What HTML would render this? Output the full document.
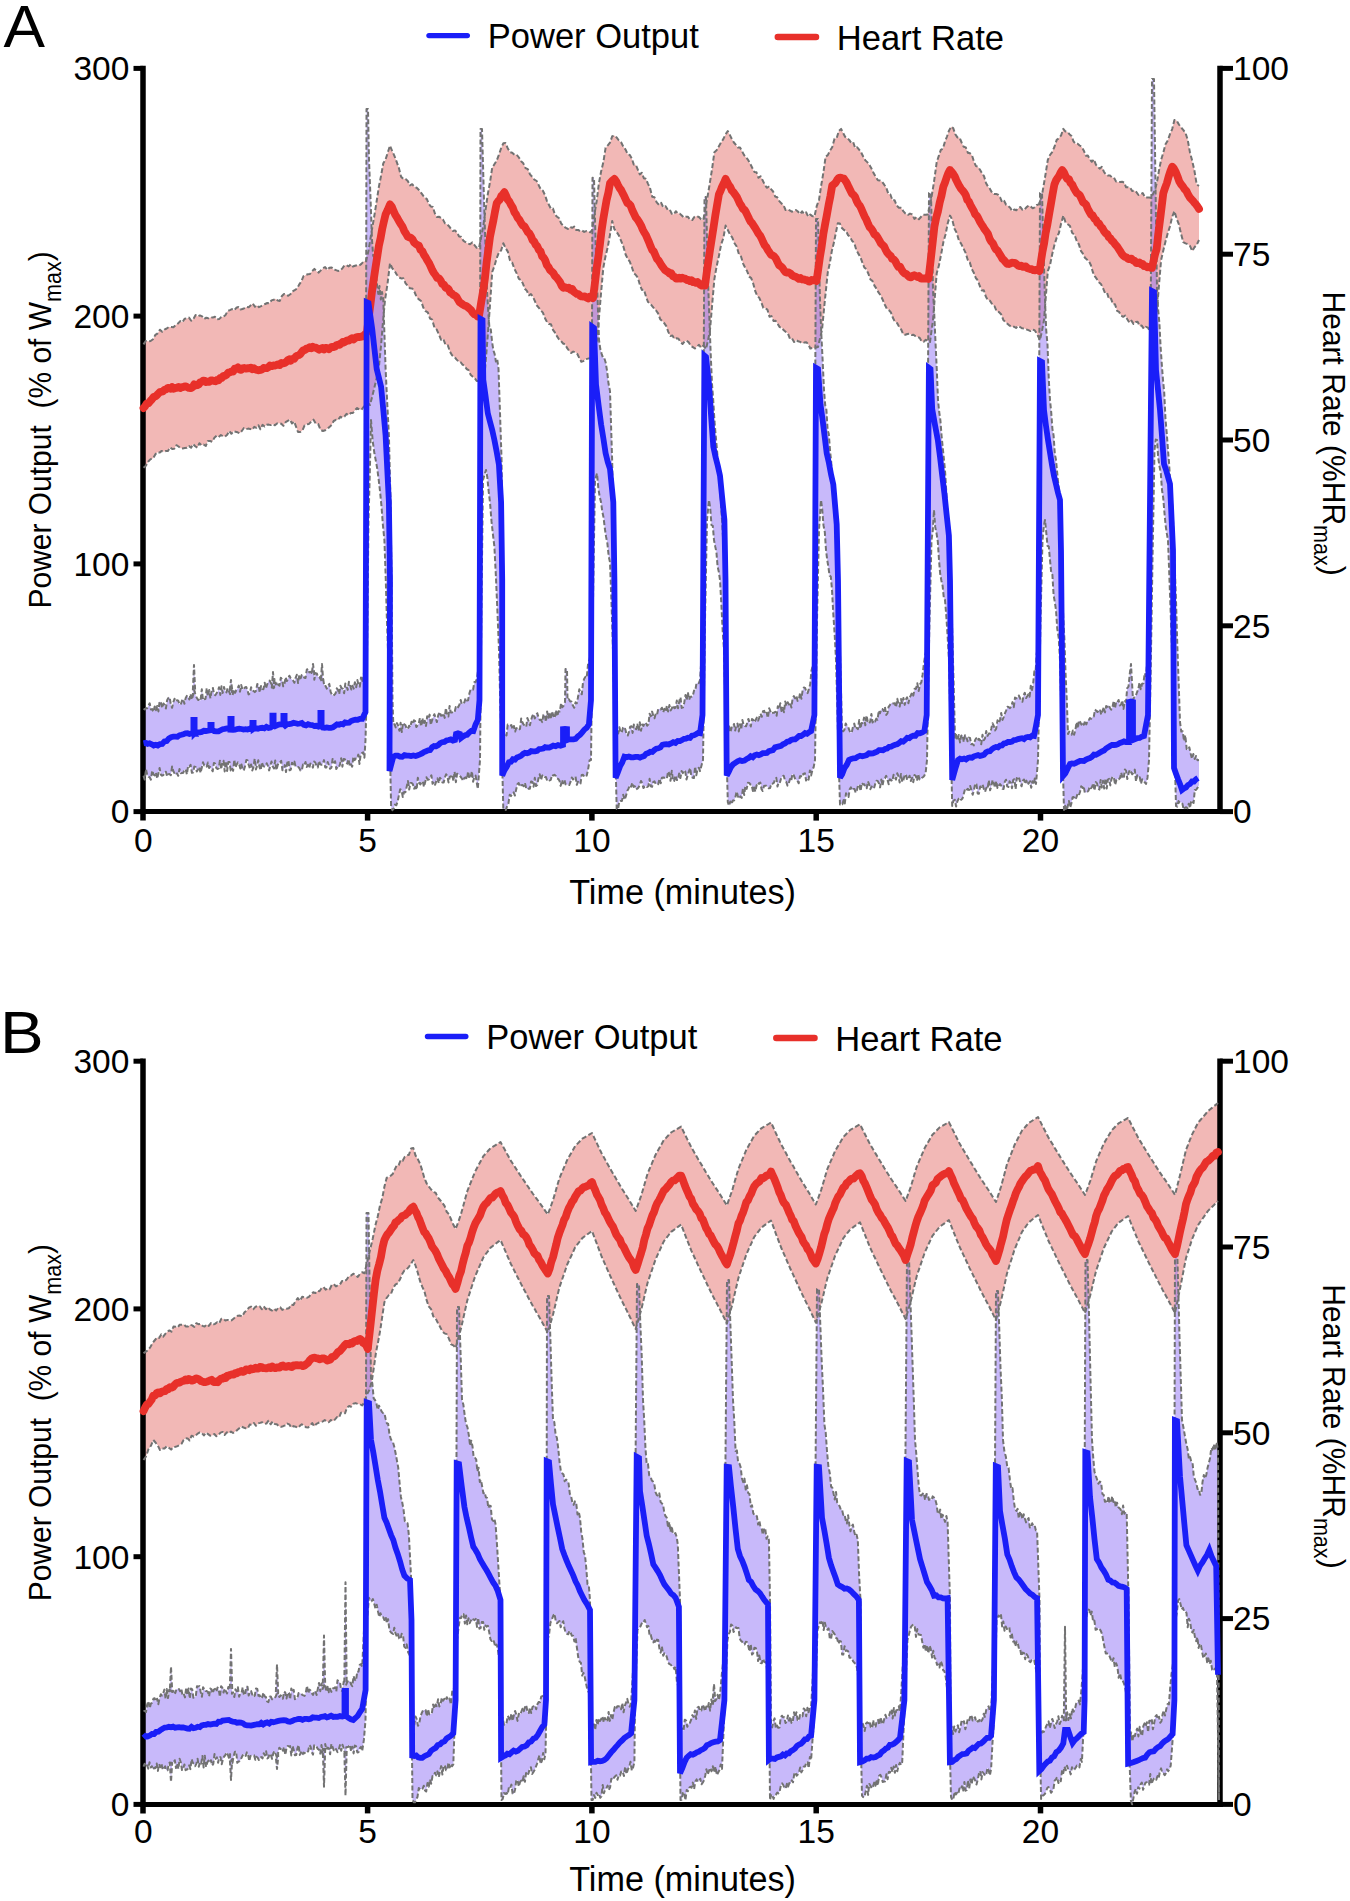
<!DOCTYPE html>
<html><head><meta charset="utf-8"><style>html,body{margin:0;padding:0;background:#fff}svg{display:block}</style></head>
<body><svg width="1350" height="1901" viewBox="0 0 1350 1901">
<rect width="1350" height="1901" fill="#fff"/>
<path d="M143.5,344.4 L145.9,340.9 L148.3,341.3 L150.6,341.0 L153.0,339.3 L155.4,334.8 L157.7,333.3 L159.9,329.7 L162.2,331.8 L164.4,329.6 L166.7,328.5 L168.9,327.0 L171.2,327.1 L173.4,327.2 L175.7,325.1 L177.9,323.6 L180.2,321.1 L182.4,322.3 L184.6,318.7 L186.8,318.4 L189.0,317.6 L191.2,320.8 L193.4,318.9 L195.6,315.1 L197.8,316.5 L199.9,315.4 L202.1,316.4 L204.2,319.0 L206.3,317.7 L208.5,318.3 L210.6,317.3 L212.7,317.6 L214.9,316.7 L217.0,319.4 L219.1,319.1 L221.3,317.0 L223.4,316.7 L225.6,314.9 L227.7,311.0 L229.9,310.1 L232.0,309.1 L234.2,310.3 L236.3,307.8 L238.4,307.0 L240.4,309.5 L242.5,309.0 L244.6,308.1 L246.6,306.9 L248.7,307.2 L250.8,305.3 L252.8,303.5 L254.9,306.8 L256.9,305.2 L259.0,307.2 L261.1,306.2 L263.1,305.0 L265.2,304.0 L267.3,303.0 L269.4,303.3 L271.5,300.4 L273.6,299.8 L275.7,298.8 L277.8,300.6 L279.8,300.9 L281.9,296.0 L284.0,294.0 L286.1,294.6 L288.2,295.8 L290.3,294.3 L292.5,291.4 L294.7,290.1 L296.9,288.7 L299.1,284.7 L301.3,281.6 L303.5,276.2 L305.7,275.0 L307.9,274.3 L310.0,274.0 L312.2,271.1 L314.4,268.9 L316.5,271.2 L318.7,272.6 L320.8,270.4 L323.0,268.3 L325.1,267.0 L327.3,269.9 L329.4,267.7 L331.6,267.4 L333.7,269.7 L335.9,270.1 L338.0,270.9 L340.2,270.8 L342.3,268.3 L344.4,265.6 L346.5,265.2 L348.7,266.4 L350.8,264.3 L352.9,266.5 L355.0,265.8 L357.1,265.2 L359.3,265.5 L361.4,263.9 L363.5,261.6 L366.0,261.0 L368.5,250.7 L371.0,235.0 L373.9,218.4 L376.7,201.0 L378.9,186.6 L381.1,175.6 L383.3,163.3 L385.5,159.6 L387.8,152.5 L390.0,145.6 L392.2,151.1 L394.4,155.8 L396.7,161.9 L398.9,168.1 L401.1,176.7 L403.3,178.9 L405.6,179.1 L407.8,181.0 L410.0,185.4 L412.2,184.2 L414.5,186.9 L416.7,187.8 L418.7,189.8 L420.7,192.3 L422.8,195.2 L424.8,197.9 L426.8,198.9 L428.8,203.9 L430.8,206.5 L432.8,206.9 L434.9,213.5 L436.9,217.0 L438.9,216.7 L440.9,217.9 L442.9,219.4 L445.0,223.4 L447.0,224.3 L449.0,226.2 L451.0,229.0 L453.0,231.0 L455.0,230.4 L457.1,232.8 L459.1,236.4 L461.1,236.7 L463.3,240.6 L465.6,242.2 L467.8,243.5 L470.0,244.3 L472.2,242.4 L474.5,245.1 L476.7,247.8 L479.0,248.0 L481.1,237.6 L483.3,225.6 L485.5,210.0 L487.8,194.2 L490.0,182.2 L492.2,167.8 L494.4,164.3 L496.6,160.8 L498.9,154.8 L501.1,148.3 L503.3,143.3 L505.5,143.1 L507.7,148.2 L510.0,152.1 L512.2,152.7 L514.4,154.8 L516.6,154.6 L518.9,157.5 L521.1,161.3 L523.3,163.3 L525.5,168.1 L527.8,169.1 L530.0,174.4 L532.2,176.8 L534.4,179.7 L536.7,181.0 L538.9,185.6 L540.9,189.7 L542.9,190.7 L545.0,195.1 L547.0,201.1 L549.0,205.0 L551.0,208.9 L553.0,208.6 L555.0,214.9 L557.1,216.7 L559.1,218.2 L561.1,223.3 L563.3,225.9 L565.5,227.7 L567.8,229.0 L570.0,226.8 L572.2,227.8 L574.2,226.6 L576.2,230.1 L578.2,229.9 L580.2,231.2 L582.2,230.6 L584.2,231.9 L586.2,231.1 L588.2,231.5 L590.2,232.3 L592.2,230.0 L594.4,214.6 L596.7,201.0 L598.9,183.3 L601.1,171.5 L603.4,162.0 L605.6,147.8 L607.8,145.4 L610.0,142.6 L612.2,136.3 L614.4,135.6 L616.6,137.4 L618.9,140.5 L621.1,142.2 L623.3,146.6 L625.6,149.7 L627.8,154.4 L629.8,155.0 L631.8,158.5 L633.8,164.6 L635.8,164.8 L637.8,169.6 L639.8,174.4 L641.8,172.7 L643.8,178.2 L645.8,178.7 L647.8,183.3 L650.0,188.0 L652.2,196.7 L654.4,197.2 L656.7,202.4 L658.9,204.7 L661.1,202.7 L663.3,207.4 L665.6,206.2 L667.8,210.0 L669.8,209.6 L671.8,213.7 L673.8,214.4 L675.8,211.2 L677.8,213.4 L679.8,213.6 L681.8,215.5 L683.8,217.4 L685.8,216.7 L687.8,216.7 L690.0,219.5 L692.2,220.1 L694.4,216.9 L696.7,216.1 L698.9,217.0 L701.1,219.2 L703.3,220.0 L707.0,200.0 L709.5,185.0 L711.9,170.1 L714.4,152.2 L716.6,150.3 L718.9,146.3 L721.1,142.4 L723.3,139.1 L725.6,134.3 L727.8,131.1 L729.8,134.9 L731.9,139.1 L733.9,142.5 L735.9,144.9 L738.0,147.6 L740.0,147.5 L742.0,151.2 L744.1,155.1 L746.1,157.5 L748.1,159.9 L750.2,163.7 L752.2,167.8 L754.3,171.9 L756.4,172.2 L758.5,177.8 L760.6,176.2 L762.6,180.2 L764.7,184.6 L766.8,187.8 L768.9,186.7 L771.0,189.1 L773.1,191.5 L775.2,196.6 L777.2,197.3 L779.3,201.1 L781.4,203.4 L783.5,205.1 L785.6,210.0 L787.7,209.4 L789.7,210.4 L791.8,211.7 L793.8,211.2 L795.9,210.0 L797.9,211.5 L800.0,214.1 L802.1,211.4 L804.1,213.9 L806.2,212.3 L808.2,216.6 L810.3,214.5 L812.3,216.1 L814.4,216.7 L816.7,206.2 L819.0,200.0 L821.2,185.4 L823.4,172.6 L825.6,156.7 L827.8,155.1 L830.0,150.7 L832.2,147.2 L834.5,138.8 L836.7,138.0 L838.9,130.8 L841.1,128.9 L843.1,132.9 L845.1,136.8 L847.2,138.2 L849.2,139.9 L851.2,142.9 L853.2,142.2 L855.2,148.1 L857.2,147.3 L859.3,149.9 L861.3,152.7 L863.3,156.7 L865.4,160.4 L867.5,162.4 L869.6,165.2 L871.6,168.8 L873.7,173.3 L875.8,177.0 L877.9,180.3 L880.0,180.5 L882.1,181.8 L884.2,184.7 L886.3,187.8 L888.4,194.1 L890.4,194.5 L892.5,200.4 L894.6,200.2 L896.7,205.6 L898.9,207.7 L901.1,207.7 L903.3,211.1 L905.5,213.7 L907.8,215.0 L910.0,213.6 L912.2,214.4 L914.4,218.9 L916.6,217.0 L918.9,219.2 L921.1,216.8 L923.3,214.7 L925.6,214.8 L927.8,214.4 L931.0,200.0 L933.9,182.7 L936.7,162.2 L938.8,155.9 L940.8,149.9 L942.9,148.7 L944.9,141.9 L947.0,136.5 L949.0,130.7 L951.1,126.7 L953.2,128.1 L955.3,134.2 L957.4,137.4 L959.5,137.6 L961.6,142.5 L963.7,146.8 L965.8,147.4 L967.9,152.8 L970.0,153.3 L972.0,155.3 L974.0,161.8 L976.0,166.1 L978.0,166.7 L980.0,169.8 L982.0,173.2 L984.0,176.1 L986.0,182.9 L988.0,186.6 L990.0,188.9 L992.0,192.6 L994.0,194.0 L996.1,193.9 L998.1,194.7 L1000.1,197.3 L1002.1,202.1 L1004.1,200.8 L1006.1,204.8 L1008.2,206.1 L1010.2,207.8 L1012.2,211.1 L1014.3,209.5 L1016.3,210.3 L1018.4,207.9 L1020.4,207.0 L1022.5,209.9 L1024.5,209.6 L1026.6,207.1 L1028.6,205.6 L1030.7,206.6 L1032.7,208.2 L1034.8,207.4 L1036.8,205.0 L1038.9,204.4 L1042.0,195.0 L1044.9,178.2 L1047.8,160.0 L1050.0,155.0 L1052.2,152.1 L1054.4,147.0 L1056.7,139.9 L1058.9,138.2 L1061.1,135.3 L1063.3,128.9 L1065.3,131.4 L1067.4,131.7 L1069.4,134.2 L1071.5,136.0 L1073.5,141.4 L1075.5,143.7 L1077.6,143.7 L1079.6,145.5 L1081.7,146.8 L1083.7,150.4 L1085.8,155.7 L1087.8,155.6 L1089.8,159.2 L1091.8,161.8 L1093.9,159.4 L1095.9,164.7 L1097.9,167.2 L1099.9,168.6 L1101.9,166.8 L1103.9,171.7 L1106.0,174.7 L1108.0,175.6 L1110.0,175.6 L1112.0,177.4 L1114.0,177.7 L1116.1,181.6 L1118.1,182.1 L1120.1,181.9 L1122.1,181.8 L1124.1,182.5 L1126.1,187.3 L1128.2,187.3 L1130.2,187.6 L1132.2,191.1 L1134.3,190.4 L1136.4,192.1 L1138.5,195.0 L1140.6,194.3 L1142.7,193.0 L1144.8,196.9 L1146.9,197.5 L1149.0,197.5 L1151.1,197.8 L1155.0,190.0 L1157.0,182.1 L1159.1,169.9 L1161.1,160.0 L1163.3,152.7 L1165.5,144.3 L1167.8,140.5 L1170.0,134.1 L1172.2,129.1 L1174.4,120.0 L1176.6,120.6 L1178.9,124.5 L1181.1,127.5 L1183.4,130.1 L1185.6,133.3 L1187.7,139.8 L1189.9,152.2 L1192.0,160.0 L1194.3,170.1 L1196.7,184.4 L1199.0,186.0 L1199.0,240.0 L1196.7,244.8 L1194.5,247.2 L1192.2,251.1 L1190.0,245.9 L1187.8,244.1 L1185.5,243.4 L1183.3,242.2 L1181.1,234.0 L1178.8,224.2 L1176.6,218.6 L1174.4,211.1 L1172.2,216.8 L1170.0,226.2 L1167.8,233.1 L1165.5,241.5 L1163.3,250.5 L1161.1,260.0 L1159.0,284.8 L1157.0,310.0 L1155.0,319.6 L1153.0,332.0 L1150.0,331.1 L1147.9,327.7 L1145.9,326.8 L1143.8,328.7 L1141.7,325.6 L1139.7,325.9 L1137.6,321.8 L1135.5,321.9 L1133.5,323.9 L1131.4,320.6 L1129.4,322.7 L1127.3,319.3 L1125.2,315.5 L1123.2,316.8 L1121.1,315.6 L1119.1,311.9 L1117.1,310.9 L1115.0,304.2 L1113.0,304.2 L1111.0,298.6 L1109.0,299.1 L1107.0,292.7 L1105.0,292.9 L1102.9,287.9 L1100.9,283.9 L1098.9,282.2 L1096.9,279.2 L1094.9,276.4 L1092.9,272.3 L1090.9,265.2 L1088.9,261.1 L1086.9,259.5 L1084.9,257.7 L1082.9,253.7 L1080.9,250.9 L1078.9,244.4 L1076.7,240.9 L1074.4,234.4 L1072.2,233.0 L1070.0,226.1 L1067.8,224.3 L1065.5,222.2 L1063.3,215.6 L1061.1,223.6 L1058.9,233.0 L1056.7,237.6 L1054.4,245.1 L1052.2,254.2 L1050.0,265.2 L1047.8,271.1 L1044.0,320.0 L1042.0,330.9 L1040.0,340.0 L1036.7,333.3 L1034.6,330.3 L1032.6,329.5 L1030.5,331.1 L1028.4,330.2 L1026.3,329.3 L1024.3,328.4 L1022.2,328.3 L1020.1,327.0 L1018.0,326.0 L1016.0,327.9 L1013.9,326.7 L1011.8,326.9 L1009.7,325.7 L1007.7,324.0 L1005.6,322.2 L1003.4,320.1 L1001.1,314.2 L998.9,312.0 L996.7,311.4 L994.5,306.2 L992.2,304.4 L990.0,300.7 L987.8,300.0 L985.8,296.5 L983.8,290.3 L981.8,290.4 L979.8,286.0 L977.8,280.3 L975.8,278.0 L973.8,272.7 L971.8,269.1 L969.8,262.4 L967.8,260.0 L965.6,252.9 L963.3,248.1 L961.1,243.6 L958.9,240.4 L956.7,232.8 L954.5,228.7 L952.2,219.5 L950.0,215.6 L947.8,223.0 L945.6,234.2 L943.4,242.0 L941.1,254.4 L938.9,265.6 L936.7,273.3 L933.0,320.0 L930.0,342.0 L927.8,341.1 L925.8,339.7 L923.7,341.7 L921.7,341.4 L919.6,337.7 L917.6,337.1 L915.5,336.2 L913.5,334.7 L911.5,334.9 L909.4,333.6 L907.4,334.0 L905.3,334.8 L903.3,334.4 L901.2,329.5 L899.2,327.0 L897.1,323.0 L895.0,321.7 L893.0,318.1 L890.9,312.4 L888.8,310.0 L886.8,308.7 L884.7,304.5 L882.7,299.7 L880.6,295.3 L878.5,292.4 L876.5,288.7 L874.4,285.6 L872.4,280.8 L870.4,279.5 L868.3,273.5 L866.3,269.2 L864.3,267.5 L862.3,262.3 L860.3,256.8 L858.3,253.6 L856.2,249.7 L854.2,242.8 L852.2,241.1 L850.1,236.9 L848.1,235.2 L846.0,230.8 L844.0,230.0 L841.9,228.0 L839.9,223.6 L837.8,223.3 L835.8,233.1 L833.8,243.1 L831.8,251.0 L829.8,263.3 L827.8,272.2 L824.9,300.0 L822.0,330.0 L820.0,338.4 L818.0,347.0 L814.4,347.8 L812.4,347.9 L810.3,348.5 L808.3,344.2 L806.3,342.2 L804.2,342.6 L802.2,343.3 L800.2,341.9 L798.1,341.3 L796.1,340.0 L794.1,341.9 L792.0,338.4 L790.0,338.9 L787.9,333.5 L785.9,332.0 L783.8,330.3 L781.8,327.7 L779.7,327.1 L777.7,324.0 L775.6,320.8 L773.6,321.0 L771.5,316.1 L769.5,316.7 L767.4,309.6 L765.4,308.2 L763.3,307.8 L761.3,302.4 L759.3,297.9 L757.2,295.7 L755.2,291.0 L753.2,283.5 L751.2,278.1 L749.2,276.6 L747.2,271.3 L745.1,267.6 L743.1,263.6 L741.1,256.7 L738.9,254.2 L736.7,246.5 L734.5,243.2 L732.2,237.4 L730.0,234.5 L727.8,230.0 L725.6,225.6 L723.4,237.9 L721.1,244.6 L718.9,256.1 L716.6,266.5 L714.4,278.9 L712.2,304.0 L710.0,330.0 L708.0,340.5 L706.0,349.0 L703.5,345.6 L701.1,347.8 L699.0,344.8 L697.0,346.6 L694.9,348.5 L692.9,347.1 L690.8,345.8 L688.8,342.4 L686.7,340.8 L684.7,341.2 L682.6,344.0 L680.6,342.1 L678.5,338.8 L676.5,338.3 L674.4,338.9 L672.4,335.6 L670.3,335.9 L668.3,331.9 L666.3,326.1 L664.2,323.1 L662.2,321.0 L660.2,319.2 L658.1,313.4 L656.1,310.5 L654.1,308.4 L652.0,305.8 L650.0,303.3 L648.0,302.0 L646.0,296.5 L643.9,289.5 L641.9,290.0 L639.9,284.8 L637.9,277.7 L635.9,275.1 L633.9,273.2 L631.8,267.0 L629.8,261.7 L627.8,258.9 L625.6,254.5 L623.3,246.3 L621.1,240.8 L618.9,235.5 L616.7,232.0 L614.4,229.2 L612.2,221.0 L610.0,234.6 L607.8,246.9 L605.5,256.4 L603.3,267.8 L601.2,291.2 L599.1,316.1 L597.0,340.0 L595.0,348.1 L593.0,357.0 L590.6,358.2 L588.1,358.6 L585.7,359.2 L583.3,361.1 L581.3,361.8 L579.3,358.0 L577.2,353.8 L575.2,352.3 L573.2,351.6 L571.2,353.0 L569.2,350.9 L567.2,348.2 L565.1,344.3 L563.1,343.5 L561.1,341.1 L559.1,339.5 L557.1,336.4 L555.0,332.7 L553.0,329.9 L551.0,324.3 L549.0,324.1 L547.0,322.0 L545.0,318.2 L542.9,312.6 L540.9,310.5 L538.9,307.8 L536.9,305.5 L534.9,301.2 L532.9,296.7 L530.9,294.1 L528.9,295.3 L526.9,290.9 L524.9,288.8 L522.9,283.6 L520.9,279.9 L518.9,278.9 L516.7,273.4 L514.4,268.8 L512.2,262.6 L510.0,260.5 L507.8,251.6 L505.5,247.9 L503.3,243.3 L501.1,250.5 L498.9,252.6 L496.6,258.4 L494.4,266.2 L492.2,272.0 L489.8,307.7 L487.4,340.1 L485.0,370.0 L483.0,378.6 L481.0,383.0 L478.9,381.1 L476.7,381.0 L474.7,378.1 L472.6,376.6 L470.6,374.7 L468.6,370.1 L466.6,369.0 L464.5,365.8 L462.5,364.6 L460.5,362.0 L458.5,361.5 L456.4,359.4 L454.4,356.7 L452.2,355.4 L450.0,351.8 L447.8,345.3 L445.5,344.8 L443.3,338.9 L441.1,339.8 L438.9,334.4 L436.7,329.5 L434.4,327.5 L432.2,319.7 L430.0,318.5 L427.8,312.3 L425.6,311.1 L423.3,307.6 L421.1,301.0 L418.9,299.4 L416.7,297.3 L414.5,292.0 L412.2,288.4 L410.0,288.3 L407.8,285.9 L405.6,283.3 L403.4,278.3 L401.1,278.4 L398.9,277.3 L396.7,274.5 L394.5,270.7 L392.2,268.2 L390.0,263.3 L387.5,283.9 L385.0,300.0 L383.0,321.9 L381.0,345.8 L379.0,366.0 L376.8,377.4 L374.5,387.1 L372.2,396.6 L370.0,405.0 L367.8,403.1 L365.7,405.2 L363.5,407.0 L361.4,409.8 L359.3,409.5 L357.1,408.0 L355.0,410.2 L352.9,413.0 L350.8,413.0 L348.7,415.0 L346.5,413.9 L344.4,416.6 L342.3,417.6 L340.2,416.8 L338.0,420.0 L335.9,419.8 L333.7,421.0 L331.6,424.9 L329.4,427.1 L327.3,428.8 L325.1,430.3 L323.0,431.0 L320.6,429.9 L318.2,424.0 L315.8,423.7 L313.4,419.6 L311.2,421.7 L309.0,423.9 L306.8,424.3 L304.6,425.3 L302.4,430.5 L300.2,432.0 L298.0,432.0 L294.1,421.5 L292.0,423.5 L289.8,419.6 L287.7,420.9 L285.6,422.2 L283.4,425.9 L281.3,423.8 L279.2,423.2 L277.0,423.4 L274.9,425.3 L272.8,424.2 L270.8,425.1 L268.7,424.6 L266.6,424.7 L264.6,426.5 L262.5,424.9 L260.4,429.3 L258.4,425.2 L256.3,427.8 L254.3,426.8 L252.2,429.7 L250.1,428.9 L248.1,428.6 L246.0,429.2 L243.9,428.0 L241.8,431.0 L239.7,433.3 L237.6,432.3 L235.5,431.8 L233.4,431.3 L231.4,433.8 L229.3,431.0 L227.2,434.8 L225.1,436.6 L223.0,436.2 L220.9,435.0 L218.7,437.0 L216.6,435.8 L214.4,437.8 L212.2,441.8 L210.1,441.0 L207.9,440.9 L205.8,445.9 L203.6,444.6 L201.5,445.2 L199.4,443.2 L197.3,447.7 L195.2,446.2 L193.1,444.1 L191.1,447.8 L189.0,446.1 L186.9,447.7 L184.8,448.0 L182.7,448.4 L180.6,448.3 L178.5,446.5 L176.4,445.2 L174.3,448.8 L172.2,448.9 L170.1,447.4 L168.0,450.9 L165.9,451.0 L163.8,451.7 L161.7,450.9 L159.6,452.6 L157.5,452.3 L155.4,454.2 L153.0,458.5 L150.6,459.1 L148.3,461.5 L145.9,465.7 L143.5,467.7 Z" fill="#f2b8b6"/>
<path d="M143.5,708.9 L144.7,709.4 L146.0,708.2 L147.2,708.2 L148.5,705.6 L149.7,703.3 L150.9,709.6 L152.2,709.1 L153.4,711.9 L154.7,706.4 L155.9,710.3 L157.2,705.9 L158.4,711.4 L159.6,701.3 L160.9,702.6 L162.1,708.0 L163.4,703.5 L164.6,704.9 L165.9,708.5 L167.1,700.2 L168.3,698.1 L169.6,697.2 L170.8,704.2 L172.1,707.8 L173.3,702.2 L174.5,698.7 L175.8,701.5 L177.0,700.2 L178.3,700.7 L179.5,704.2 L180.7,704.6 L182.0,700.6 L183.2,698.9 L184.4,703.8 L185.7,697.9 L186.9,695.8 L188.2,697.5 L189.4,699.4 L190.6,693.9 L191.9,699.6 L193.1,694.8 L192.8,691.9 L194.0,665.0 L195.2,691.9 L194.4,690.7 L195.6,695.6 L196.8,697.8 L198.1,699.9 L199.3,700.0 L200.5,700.7 L201.8,689.3 L203.0,700.3 L204.2,699.2 L205.5,699.0 L206.7,688.2 L207.9,696.0 L209.2,690.1 L210.4,698.4 L211.6,690.7 L212.9,688.0 L214.1,694.1 L215.3,695.2 L216.6,693.2 L217.8,691.5 L219.0,687.2 L220.3,694.9 L221.5,686.2 L222.7,692.9 L224.0,686.9 L225.2,691.1 L226.4,692.4 L227.7,688.2 L228.9,691.1 L230.1,694.1 L229.8,689.8 L231.0,680.0 L232.2,689.8 L231.4,688.0 L232.6,695.2 L233.8,689.5 L235.1,692.9 L236.3,690.0 L237.5,688.4 L238.8,685.6 L240.0,691.7 L241.2,684.9 L242.5,689.8 L243.7,689.0 L244.9,687.5 L246.2,687.0 L247.4,689.7 L248.6,694.4 L249.9,693.2 L251.1,687.3 L252.3,690.7 L253.6,691.0 L254.8,692.1 L256.0,690.8 L257.3,684.0 L258.5,684.9 L259.7,692.5 L261.0,686.1 L262.2,688.9 L263.4,689.3 L264.7,682.7 L265.9,688.6 L267.1,684.7 L268.4,681.3 L269.6,680.6 L270.9,682.9 L272.1,685.8 L271.8,687.6 L273.0,672.0 L274.2,687.6 L273.3,688.2 L274.6,679.2 L275.8,684.5 L277.0,682.0 L278.3,684.8 L279.5,685.6 L280.8,677.7 L282.0,679.3 L283.2,686.3 L284.5,683.5 L285.7,677.1 L286.9,681.1 L288.2,678.6 L289.4,675.7 L290.7,678.3 L291.9,679.4 L293.1,680.5 L294.4,682.8 L295.6,677.8 L296.8,674.8 L298.1,683.0 L299.3,675.2 L300.6,678.3 L301.8,674.9 L303.1,675.3 L304.3,677.8 L305.5,678.1 L306.8,669.7 L308.0,668.9 L309.3,672.4 L310.5,671.8 L311.8,673.0 L313.0,673.3 L311.8,673.3 L313.0,664.0 L314.2,673.3 L314.3,679.8 L315.5,673.1 L316.8,673.4 L318.0,676.9 L319.3,676.9 L320.5,678.9 L321.8,681.4 L320.8,680.7 L322.0,664.0 L323.2,680.7 L323.0,677.5 L324.3,686.4 L325.6,686.0 L326.8,688.6 L328.1,685.9 L329.3,683.9 L330.6,691.8 L331.8,694.4 L333.1,695.8 L334.3,694.9 L335.6,693.3 L336.8,688.3 L338.0,689.8 L339.2,694.1 L340.4,685.8 L341.6,688.2 L342.9,688.9 L344.1,693.3 L345.3,683.6 L346.5,686.0 L347.7,689.9 L348.9,681.8 L350.1,685.0 L351.3,689.6 L352.5,685.8 L353.7,688.6 L354.9,682.2 L356.2,687.3 L357.4,680.1 L358.6,685.3 L359.8,686.7 L361.0,677.5 L362.2,682.2 L363.9,673.5 L365.5,670.0 L366.5,109.0 L368.0,109.0 L369.0,160.0 L370.5,198.0 L372.0,240.0 L373.2,255.9 L374.5,257.3 L375.8,272.7 L377.0,285.0 L378.3,293.9 L379.5,286.1 L380.8,299.5 L382.0,291.9 L383.3,300.0 L385.6,368.9 L387.2,402.8 L388.9,435.6 L390.5,500.0 L391.5,580.0 L392.5,700.0 L393.3,724.4 L394.5,724.2 L395.7,727.4 L397.0,723.1 L398.2,725.7 L399.4,730.8 L400.6,722.8 L401.8,732.0 L403.0,722.8 L404.3,724.2 L405.5,725.2 L406.7,728.9 L407.9,728.9 L409.1,725.7 L410.3,727.2 L411.5,721.8 L412.7,724.2 L413.9,720.2 L415.1,721.1 L416.3,727.1 L417.5,725.4 L418.7,723.8 L419.9,718.1 L421.1,726.5 L422.4,718.1 L423.6,724.8 L424.8,720.8 L426.0,726.0 L427.2,716.2 L428.4,718.8 L429.6,714.6 L430.8,724.9 L432.0,720.6 L433.2,716.8 L434.4,714.2 L435.6,717.8 L436.9,722.1 L438.2,715.2 L439.6,712.0 L440.9,715.7 L442.2,715.6 L443.4,713.2 L444.7,717.9 L445.9,708.1 L447.1,715.8 L448.4,716.5 L449.6,705.9 L450.8,712.5 L452.1,712.4 L453.3,712.0 L454.5,712.6 L455.8,707.0 L457.0,708.4 L458.2,707.0 L459.5,704.5 L460.7,700.0 L461.9,704.2 L463.2,703.3 L464.4,702.2 L465.6,698.1 L466.9,700.5 L468.1,700.2 L469.4,693.4 L470.6,689.6 L471.9,689.0 L473.1,689.5 L474.4,682.0 L475.6,682.2 L476.9,678.7 L478.2,669.3 L479.5,660.0 L480.5,129.0 L482.0,129.0 L484.0,200.0 L485.5,247.4 L487.0,290.0 L488.2,310.6 L489.5,328.9 L490.8,329.4 L492.1,342.1 L493.4,350.4 L494.6,353.8 L495.9,361.6 L497.2,358.9 L498.5,368.9 L500.0,412.8 L501.5,457.8 L503.3,580.0 L504.0,731.1 L505.2,733.2 L506.5,735.5 L507.7,724.6 L508.9,725.5 L510.2,725.4 L511.4,725.1 L512.6,729.3 L513.9,726.0 L515.1,731.6 L516.3,728.2 L517.5,727.9 L518.8,729.9 L520.0,728.9 L521.2,718.4 L522.5,722.6 L523.7,724.8 L524.9,725.2 L526.2,726.9 L527.4,718.0 L528.6,721.0 L529.9,725.3 L531.1,720.0 L532.3,716.0 L533.6,714.0 L534.8,718.4 L536.0,715.1 L537.3,713.2 L538.5,717.3 L539.7,719.9 L541.0,719.8 L542.2,722.1 L543.4,714.9 L544.7,714.6 L545.9,721.9 L547.1,711.5 L548.4,717.7 L549.6,712.0 L550.8,719.2 L552.1,711.2 L553.3,715.6 L554.6,718.1 L555.9,710.1 L557.2,716.3 L558.5,711.2 L559.8,711.4 L561.1,703.1 L562.4,707.2 L563.7,705.6 L565.0,702.2 L565.5,669.0 L567.0,669.0 L567.5,700.0 L568.9,699.2 L570.2,701.4 L571.5,701.5 L572.9,705.6 L574.2,707.8 L575.6,702.2 L576.8,703.3 L578.1,696.8 L579.3,689.3 L580.5,692.9 L581.8,694.3 L583.0,682.5 L584.2,678.8 L585.5,676.8 L586.7,677.8 L588.1,663.6 L589.6,659.4 L591.0,650.0 L592.5,177.8 L594.0,178.0 L596.0,260.0 L597.5,296.4 L599.0,340.0 L600.3,349.1 L601.6,353.6 L603.0,357.8 L604.3,358.1 L605.6,362.2 L607.1,371.2 L608.5,383.5 L610.0,391.1 L612.2,462.2 L614.4,580.0 L615.7,655.5 L617.0,733.3 L618.2,733.6 L619.4,727.2 L620.6,732.6 L621.8,732.3 L623.0,727.8 L624.2,726.9 L625.4,729.6 L626.6,734.7 L627.8,735.4 L629.0,731.6 L630.2,726.6 L631.4,726.2 L632.6,732.9 L633.8,724.6 L635.0,728.1 L636.2,729.2 L637.4,723.5 L638.6,730.8 L639.8,722.3 L641.0,730.7 L642.2,724.4 L643.4,726.0 L644.7,723.0 L645.9,722.7 L647.1,725.7 L648.4,724.4 L649.6,713.7 L650.8,716.2 L652.1,711.6 L653.3,715.7 L654.5,718.3 L655.8,713.6 L657.0,714.8 L658.2,709.2 L659.5,708.8 L660.7,709.5 L661.9,707.7 L663.2,712.3 L664.4,708.9 L665.6,711.8 L666.9,705.6 L668.1,711.5 L669.4,705.1 L670.6,710.4 L671.8,708.4 L673.1,705.4 L674.3,708.2 L675.5,707.9 L676.8,700.6 L678.0,708.2 L679.3,701.1 L680.5,697.2 L681.7,707.9 L683.0,707.4 L684.2,702.9 L685.5,695.0 L686.7,700.0 L687.9,692.3 L689.1,699.7 L690.3,696.8 L691.5,696.8 L692.7,696.4 L694.0,690.6 L695.2,691.0 L696.4,683.8 L697.6,682.5 L698.8,683.2 L700.0,680.0 L701.2,662.7 L702.5,650.0 L704.5,197.0 L706.0,197.0 L708.0,280.0 L709.3,316.5 L710.7,353.9 L712.0,384.0 L713.2,399.9 L714.5,421.7 L715.8,436.7 L717.0,450.0 L718.2,464.6 L719.5,479.8 L720.8,500.3 L722.0,520.0 L723.8,551.1 L725.5,580.0 L726.8,656.5 L728.0,731.0 L729.2,726.5 L730.4,732.3 L731.6,727.4 L732.8,727.7 L734.0,724.0 L735.2,730.6 L736.4,724.6 L737.6,723.6 L738.8,731.4 L740.0,724.2 L741.2,729.4 L742.4,720.0 L743.6,724.8 L744.8,726.1 L746.0,726.3 L747.2,722.9 L748.4,718.9 L749.6,722.9 L750.8,726.5 L752.0,719.0 L753.2,719.8 L754.4,722.4 L755.6,720.0 L756.8,717.6 L758.1,720.6 L759.3,717.3 L760.5,713.7 L761.8,716.8 L763.0,711.3 L764.2,710.9 L765.5,714.5 L766.7,712.9 L767.9,717.9 L769.2,708.3 L770.4,711.2 L771.6,713.7 L772.9,712.8 L774.1,712.8 L775.3,711.7 L776.6,715.8 L777.8,706.3 L779.0,709.1 L780.3,703.3 L781.5,711.0 L782.7,707.9 L784.0,712.3 L785.2,701.5 L786.4,706.0 L787.7,702.2 L788.9,704.4 L790.1,702.5 L791.4,707.6 L792.6,698.3 L793.9,696.1 L795.1,698.4 L796.4,695.8 L797.6,700.9 L798.9,699.2 L800.1,692.8 L801.4,698.8 L802.6,690.6 L803.9,687.5 L805.1,687.9 L806.4,691.8 L807.6,693.1 L808.9,688.9 L810.2,684.3 L811.5,670.4 L812.7,665.9 L814.0,660.0 L816.0,219.0 L818.0,219.0 L820.0,300.0 L821.3,333.8 L822.7,361.6 L824.0,390.0 L825.2,405.2 L826.4,409.8 L827.6,429.6 L828.8,434.1 L830.0,450.0 L831.2,461.9 L832.5,484.8 L833.8,504.3 L835.0,520.0 L836.5,551.6 L838.0,580.0 L839.3,630.2 L840.7,676.9 L842.0,731.1 L843.2,731.3 L844.5,729.6 L845.7,723.4 L846.9,726.0 L848.1,726.8 L849.4,730.4 L850.6,732.8 L851.8,732.2 L853.0,726.7 L854.3,723.6 L855.5,729.1 L856.7,727.8 L857.9,729.2 L859.2,720.1 L860.4,728.5 L861.6,723.0 L862.8,723.1 L864.1,717.6 L865.3,725.3 L866.5,715.4 L867.7,721.3 L869.0,723.6 L870.2,721.5 L871.4,713.9 L872.6,722.5 L873.9,720.3 L875.1,721.5 L876.3,718.6 L877.5,719.8 L878.8,710.5 L880.0,713.3 L881.2,709.2 L882.5,708.9 L883.7,711.0 L884.9,706.8 L886.2,714.9 L887.4,713.4 L888.6,706.8 L889.9,705.1 L891.1,703.0 L892.3,703.2 L893.6,703.4 L894.8,703.2 L896.0,707.2 L897.3,698.8 L898.5,704.2 L899.7,706.5 L901.0,699.1 L902.2,703.1 L903.4,698.0 L904.7,704.9 L905.9,699.5 L907.1,697.3 L908.4,703.3 L909.6,697.7 L910.8,695.5 L912.1,692.5 L913.3,695.6 L914.6,688.7 L916.0,688.9 L917.3,683.2 L918.7,691.0 L920.0,684.4 L921.3,682.3 L922.6,674.7 L923.9,663.5 L925.2,655.1 L926.5,650.0 L927.8,419.0 L929.0,193.0 L931.0,193.0 L933.0,290.0 L934.2,313.1 L935.5,342.5 L936.8,370.2 L938.0,400.0 L939.2,412.0 L940.4,420.3 L941.6,436.3 L942.8,448.0 L944.0,460.0 L945.2,473.2 L946.5,495.9 L947.8,517.4 L949.0,530.0 L951.0,580.0 L952.3,635.7 L953.7,685.7 L955.0,737.8 L956.2,734.9 L957.5,740.6 L958.8,735.0 L960.0,742.4 L961.2,735.7 L962.5,734.8 L963.8,741.9 L965.0,735.2 L966.2,736.1 L967.5,741.3 L968.8,737.6 L970.0,737.9 L971.2,744.2 L972.5,743.8 L973.8,745.4 L975.0,740.3 L976.2,738.2 L977.5,740.9 L978.8,738.8 L980.0,740.0 L981.2,744.3 L982.5,734.7 L983.8,740.2 L985.0,738.4 L986.2,731.1 L987.5,735.9 L988.8,733.6 L990.0,733.6 L991.2,728.9 L992.5,723.2 L993.8,726.0 L995.0,730.5 L996.2,728.6 L997.5,720.3 L998.8,723.0 L1000.0,720.0 L1001.2,713.0 L1002.5,719.9 L1003.8,716.9 L1005.0,713.2 L1006.2,710.4 L1007.5,706.7 L1008.8,707.2 L1010.0,708.1 L1011.2,706.7 L1012.5,702.1 L1013.8,707.2 L1015.0,697.6 L1016.2,698.3 L1017.5,698.2 L1018.8,695.5 L1020.0,698.0 L1021.2,701.0 L1022.4,701.8 L1023.6,695.2 L1024.8,692.8 L1026.0,698.1 L1027.2,696.3 L1028.4,694.2 L1029.6,696.7 L1030.8,685.7 L1032.0,690.0 L1033.2,683.1 L1034.4,671.2 L1035.6,671.6 L1036.8,652.8 L1038.0,650.0 L1040.0,193.0 L1042.0,193.0 L1043.5,251.1 L1045.0,300.0 L1046.2,330.0 L1047.5,344.7 L1048.8,379.6 L1050.0,400.0 L1051.2,412.1 L1052.4,428.8 L1053.6,435.6 L1054.8,453.8 L1056.0,460.0 L1057.2,472.8 L1058.5,486.3 L1059.8,506.6 L1061.0,520.0 L1062.0,580.0 L1063.2,616.5 L1064.4,638.7 L1065.6,674.6 L1066.8,700.4 L1068.0,734.0 L1069.2,731.6 L1070.4,733.6 L1071.7,734.6 L1072.9,730.4 L1074.1,734.7 L1075.3,730.5 L1076.6,722.2 L1077.8,728.3 L1079.0,720.4 L1080.2,722.0 L1081.4,724.6 L1082.7,722.2 L1083.9,724.7 L1085.1,720.5 L1086.3,724.4 L1087.6,720.4 L1088.8,720.0 L1090.0,718.0 L1091.2,718.8 L1092.5,716.8 L1093.8,716.5 L1095.0,709.6 L1096.2,710.7 L1097.5,712.0 L1098.8,710.4 L1100.0,709.3 L1101.2,714.7 L1102.5,711.1 L1103.8,707.1 L1105.0,712.4 L1106.2,706.0 L1107.5,706.8 L1108.8,705.0 L1110.0,708.0 L1111.2,709.7 L1112.5,707.1 L1113.7,700.8 L1114.9,708.6 L1116.2,701.8 L1117.4,702.4 L1118.6,700.0 L1119.8,705.5 L1121.1,704.5 L1122.3,700.4 L1123.5,708.9 L1124.8,701.2 L1126.0,702.0 L1127.2,688.1 L1128.5,686.6 L1129.8,673.7 L1131.0,664.0 L1133.0,700.0 L1134.3,697.2 L1135.6,696.5 L1136.9,692.5 L1138.2,689.6 L1139.5,682.5 L1140.8,689.2 L1142.1,683.8 L1143.4,683.4 L1144.7,673.1 L1146.0,676.0 L1147.5,657.7 L1149.0,640.0 L1150.5,357.6 L1152.0,79.0 L1154.0,79.0 L1155.5,184.8 L1157.0,290.0 L1158.2,310.3 L1159.4,323.1 L1160.6,346.8 L1161.8,364.3 L1163.0,380.0 L1164.2,392.4 L1165.5,419.3 L1166.8,434.0 L1168.0,450.0 L1169.2,464.7 L1170.5,489.7 L1171.8,497.0 L1173.0,520.0 L1174.5,560.9 L1176.0,600.0 L1177.3,644.9 L1178.7,684.0 L1180.0,722.0 L1181.3,731.6 L1182.7,731.2 L1184.0,741.0 L1185.3,735.2 L1186.7,749.2 L1188.0,750.0 L1189.3,747.3 L1190.7,753.8 L1192.0,758.9 L1193.3,754.0 L1194.7,759.1 L1196.0,756.0 L1197.5,760.2 L1199.0,760.0 L1199.0,785.0 L1197.5,787.9 L1196.0,790.0 L1194.8,789.9 L1193.6,802.9 L1192.4,802.2 L1191.2,800.4 L1190.0,808.0 L1188.7,803.8 L1187.5,808.3 L1186.2,807.2 L1184.9,807.9 L1183.6,809.4 L1182.4,803.6 L1181.1,802.3 L1179.8,802.6 L1178.5,801.1 L1177.3,806.6 L1176.0,806.0 L1174.7,755.1 L1173.3,705.3 L1172.0,650.0 L1170.7,613.2 L1169.3,574.8 L1168.0,540.0 L1166.8,533.4 L1165.6,525.2 L1164.4,512.1 L1163.2,497.9 L1162.0,490.0 L1160.8,473.2 L1159.5,466.2 L1158.2,457.7 L1157.0,440.0 L1155.8,439.6 L1154.5,450.0 L1152.5,560.0 L1150.8,664.8 L1149.0,760.0 L1147.5,777.7 L1146.0,784.0 L1144.8,782.4 L1143.5,780.0 L1142.2,779.3 L1141.0,783.7 L1139.8,777.3 L1138.5,777.6 L1137.2,775.2 L1136.0,781.4 L1134.8,769.6 L1133.5,772.7 L1132.2,774.3 L1131.0,772.0 L1129.8,769.8 L1128.6,773.3 L1127.3,779.1 L1126.1,770.9 L1124.9,769.4 L1123.7,778.5 L1122.4,777.5 L1121.2,772.6 L1120.0,778.0 L1118.8,779.2 L1117.6,778.7 L1116.4,779.9 L1115.2,784.9 L1113.9,777.8 L1112.7,776.5 L1111.5,779.0 L1110.3,785.4 L1109.1,778.9 L1107.9,779.6 L1106.7,788.6 L1105.5,778.3 L1104.2,788.5 L1103.0,780.8 L1101.8,787.6 L1100.6,780.0 L1099.4,789.6 L1098.2,788.6 L1097.0,783.4 L1095.8,782.1 L1094.5,790.6 L1093.3,783.1 L1092.1,786.9 L1090.9,788.3 L1089.7,786.6 L1088.5,790.6 L1087.3,791.9 L1086.1,792.5 L1084.8,792.5 L1083.6,785.9 L1082.4,787.9 L1081.2,786.3 L1080.0,792.0 L1078.8,795.4 L1077.5,794.0 L1076.3,797.8 L1075.1,799.6 L1073.8,797.1 L1072.6,797.3 L1071.4,803.4 L1070.2,807.5 L1068.9,801.0 L1067.7,806.6 L1066.5,810.3 L1065.2,805.7 L1064.0,810.0 L1062.7,761.1 L1061.3,708.6 L1060.0,660.0 L1058.7,637.8 L1057.3,629.2 L1056.0,610.0 L1054.8,601.9 L1053.6,595.1 L1052.4,574.8 L1051.2,572.3 L1050.0,560.0 L1048.8,546.7 L1047.5,545.9 L1046.2,531.9 L1045.0,520.0 L1043.8,526.2 L1042.5,540.0 L1040.5,620.0 L1039.2,694.5 L1038.0,760.0 L1036.0,784.0 L1034.8,778.5 L1033.6,784.7 L1032.4,781.2 L1031.2,787.8 L1030.0,781.2 L1028.8,783.1 L1027.6,784.8 L1026.4,780.6 L1025.2,784.0 L1024.0,779.5 L1022.8,780.7 L1021.6,786.3 L1020.4,783.4 L1019.2,778.3 L1018.0,780.5 L1016.8,778.1 L1015.6,789.3 L1014.4,779.2 L1013.2,780.0 L1012.0,788.2 L1010.8,782.9 L1009.6,781.3 L1008.4,787.0 L1007.2,786.3 L1006.0,779.7 L1004.8,781.8 L1003.6,788.9 L1002.4,788.7 L1001.2,785.7 L1000.0,784.0 L998.8,785.6 L997.5,788.1 L996.3,781.2 L995.0,787.8 L993.8,783.2 L992.6,779.9 L991.3,786.3 L990.1,790.3 L988.8,780.3 L987.6,788.9 L986.4,787.7 L985.1,791.8 L983.9,789.3 L982.6,784.6 L981.4,787.0 L980.2,786.4 L978.9,793.8 L977.7,793.5 L976.4,784.2 L975.2,783.4 L974.0,790.0 L972.7,794.7 L971.5,790.6 L970.2,785.9 L969.0,790.0 L967.7,788.8 L966.4,790.3 L965.1,788.9 L963.8,793.7 L962.5,798.6 L961.2,799.8 L960.0,797.5 L958.7,798.7 L957.4,801.2 L956.1,806.6 L954.8,799.7 L953.5,800.8 L952.2,806.0 L950.6,731.7 L949.0,660.0 L947.7,637.7 L946.3,615.9 L945.0,600.0 L943.8,597.7 L942.6,585.7 L941.4,580.7 L940.2,574.0 L939.0,560.0 L937.8,541.5 L936.5,533.2 L935.2,526.9 L934.0,510.0 L932.8,530.5 L931.5,540.0 L929.5,620.0 L928.2,686.1 L927.0,760.0 L925.7,772.2 L924.4,775.6 L923.2,777.0 L921.9,777.8 L920.7,779.5 L919.5,779.4 L918.2,774.1 L917.0,780.6 L915.8,776.1 L914.5,775.0 L913.3,782.2 L912.1,777.8 L910.8,781.1 L909.6,775.7 L908.4,778.5 L907.1,779.9 L905.9,774.2 L904.7,775.0 L903.4,780.0 L902.2,782.0 L901.0,773.9 L899.7,782.6 L898.5,776.4 L897.3,773.3 L896.0,779.6 L894.8,777.3 L893.6,774.7 L892.3,781.3 L891.1,780.0 L889.9,779.3 L888.7,784.3 L887.4,779.6 L886.2,775.8 L885.0,778.3 L883.8,778.8 L882.6,785.4 L881.3,779.6 L880.1,787.4 L878.9,783.2 L877.7,781.0 L876.5,780.7 L875.2,784.0 L874.0,788.2 L872.8,788.6 L871.6,786.5 L870.4,789.2 L869.2,784.4 L867.9,781.3 L866.7,788.3 L865.5,787.2 L864.3,784.2 L863.1,784.4 L861.8,782.8 L860.6,791.2 L859.4,785.4 L858.2,784.6 L857.0,789.8 L855.7,792.8 L854.5,789.1 L853.3,788.9 L852.1,790.2 L850.9,787.4 L849.7,789.2 L848.5,797.0 L847.3,795.8 L846.0,793.3 L844.8,803.5 L843.6,800.1 L842.4,804.1 L841.2,803.3 L840.0,804.4 L838.7,762.1 L837.3,704.9 L836.0,660.0 L834.7,635.0 L833.3,613.9 L832.0,590.0 L830.8,576.5 L829.6,575.7 L828.4,567.2 L827.2,559.8 L826.0,550.0 L824.8,532.0 L823.5,525.4 L822.2,509.2 L821.0,500.0 L819.0,530.0 L817.0,620.0 L815.0,760.0 L813.7,767.0 L812.4,770.1 L811.1,775.6 L809.9,770.6 L808.6,779.6 L807.4,777.9 L806.1,780.5 L804.9,773.2 L803.6,774.5 L802.4,773.1 L801.1,776.4 L799.9,776.3 L798.7,783.3 L797.4,780.6 L796.2,779.9 L794.9,778.3 L793.7,775.2 L792.4,773.8 L791.2,780.9 L790.0,778.9 L788.7,783.5 L787.5,785.6 L786.2,781.7 L785.0,780.3 L783.7,775.7 L782.5,776.2 L781.2,778.0 L780.0,782.2 L778.8,781.7 L777.5,786.6 L776.3,777.8 L775.1,779.2 L773.8,783.0 L772.6,783.7 L771.4,783.3 L770.1,788.1 L768.9,788.4 L767.7,787.1 L766.4,785.7 L765.2,785.8 L764.0,786.0 L762.7,790.9 L761.5,789.1 L760.3,782.5 L759.0,783.9 L757.8,782.5 L756.6,785.3 L755.3,791.7 L754.1,787.5 L752.9,791.1 L751.6,784.6 L750.4,784.6 L749.2,782.9 L747.9,782.8 L746.7,788.9 L745.4,785.8 L744.2,795.0 L742.9,788.6 L741.7,797.9 L740.4,796.4 L739.1,798.7 L737.9,796.1 L736.6,791.4 L735.4,797.2 L734.1,800.5 L732.8,800.4 L731.6,804.3 L730.3,801.5 L729.1,805.7 L727.8,802.2 L726.5,751.6 L725.3,701.8 L724.0,650.0 L722.7,631.5 L721.3,603.2 L720.0,580.0 L718.8,571.9 L717.6,566.6 L716.4,552.0 L715.2,546.4 L714.0,540.0 L712.8,525.8 L711.5,525.2 L710.2,507.7 L709.0,500.0 L707.0,520.0 L705.0,620.0 L703.0,760.0 L701.5,765.5 L700.0,771.1 L698.8,767.7 L697.5,769.2 L696.3,775.3 L695.1,766.6 L693.9,778.1 L692.6,777.7 L691.4,777.0 L690.2,768.1 L689.0,771.1 L687.7,775.1 L686.5,779.4 L685.3,771.6 L684.0,770.2 L682.8,773.1 L681.6,771.1 L680.4,778.1 L679.1,773.6 L677.9,780.1 L676.7,780.1 L675.4,775.3 L674.2,781.1 L673.0,780.8 L671.8,770.8 L670.5,780.8 L669.3,773.6 L668.1,771.4 L666.9,778.5 L665.6,777.5 L664.4,777.8 L663.2,777.5 L661.9,777.7 L660.7,783.2 L659.5,778.7 L658.2,784.2 L657.0,783.4 L655.8,784.1 L654.5,781.4 L653.3,781.9 L652.1,786.8 L650.8,786.3 L649.6,778.8 L648.4,786.1 L647.1,787.0 L645.9,785.7 L644.7,786.5 L643.4,788.1 L642.2,783.0 L641.0,780.9 L639.7,785.3 L638.5,787.5 L637.3,788.7 L636.0,789.5 L634.8,786.2 L633.6,786.9 L632.3,782.7 L631.1,786.7 L629.8,785.0 L628.5,788.7 L627.2,791.1 L625.9,796.2 L624.6,799.7 L623.2,794.7 L621.9,801.1 L620.6,800.9 L619.3,801.3 L618.0,809.5 L616.7,808.9 L615.5,759.9 L614.2,701.3 L613.0,650.0 L611.5,603.2 L610.0,562.2 L608.7,556.3 L607.4,543.5 L606.1,536.9 L604.9,529.0 L603.6,517.7 L602.3,511.6 L601.0,502.0 L599.7,496.7 L598.3,487.9 L597.0,473.3 L595.0,480.0 L593.0,600.0 L591.0,760.0 L589.6,760.2 L588.1,769.4 L586.7,775.6 L585.5,775.0 L584.2,776.6 L583.0,774.8 L581.7,774.9 L580.5,783.5 L579.3,784.0 L578.0,781.7 L576.8,784.8 L575.5,776.5 L574.3,778.1 L573.0,779.5 L571.8,777.5 L570.6,781.7 L569.3,785.0 L568.1,784.4 L566.8,784.7 L565.6,784.4 L564.4,779.8 L563.1,783.4 L561.9,780.1 L560.7,785.9 L559.5,780.8 L558.2,778.9 L557.0,778.5 L555.8,775.9 L554.5,774.7 L553.3,775.6 L552.1,774.8 L550.8,779.8 L549.6,780.5 L548.4,779.6 L547.1,780.6 L545.9,776.9 L544.7,777.1 L543.4,775.1 L542.2,775.7 L541.0,780.1 L539.7,774.2 L538.5,778.2 L537.3,784.7 L536.0,786.1 L534.8,777.8 L533.6,786.7 L532.3,782.0 L531.1,781.5 L529.9,788.7 L528.6,788.6 L527.4,789.4 L526.2,788.2 L524.9,782.8 L523.7,786.2 L522.5,785.1 L521.2,785.2 L520.0,786.7 L518.7,783.0 L517.4,784.3 L516.1,789.7 L514.9,795.5 L513.6,792.4 L512.3,793.8 L511.0,796.1 L509.7,794.8 L508.4,803.7 L507.2,806.0 L505.9,809.9 L504.6,808.7 L503.3,808.9 L501.9,751.2 L500.4,708.0 L499.0,650.0 L497.5,613.3 L495.9,576.2 L494.4,546.7 L492.9,534.2 L491.5,521.2 L490.0,502.2 L488.7,491.7 L487.3,477.3 L486.0,470.0 L484.5,474.8 L483.0,480.0 L481.5,600.0 L480.0,760.0 L477.8,788.9 L475.6,775.6 L474.4,777.0 L473.1,781.7 L471.9,771.2 L470.6,777.6 L469.4,778.2 L468.1,771.5 L466.9,779.4 L465.6,777.3 L464.4,777.8 L463.2,780.8 L462.0,778.8 L460.7,776.9 L459.5,775.1 L458.3,774.4 L457.1,773.7 L455.9,782.2 L454.6,771.8 L453.4,781.1 L452.2,774.5 L451.0,776.5 L449.8,776.8 L448.5,782.4 L447.3,775.9 L446.1,774.3 L444.9,777.6 L443.7,782.5 L442.4,782.4 L441.2,779.2 L440.0,777.8 L438.8,783.2 L437.5,778.4 L436.3,781.1 L435.1,784.8 L433.8,781.8 L432.6,783.8 L431.4,775.3 L430.1,777.9 L428.9,779.5 L427.7,779.7 L426.4,777.3 L425.2,781.9 L424.0,786.9 L422.7,781.1 L421.5,782.1 L420.3,784.5 L419.0,782.6 L417.8,777.8 L416.6,789.9 L415.3,786.9 L414.1,788.7 L412.9,784.3 L411.6,782.9 L410.4,783.1 L409.2,789.5 L407.9,781.1 L406.7,786.7 L405.4,792.2 L404.1,792.0 L402.8,797.0 L401.5,790.0 L400.2,789.3 L398.9,795.3 L397.6,801.7 L396.3,805.3 L395.0,804.6 L393.7,808.6 L392.4,810.2 L391.1,806.7 L389.6,731.2 L388.0,650.0 L386.8,616.2 L385.6,573.9 L384.4,540.0 L382.9,525.0 L381.5,506.5 L380.0,491.0 L378.6,478.9 L377.2,468.4 L375.8,460.6 L374.4,453.3 L372.7,441.1 L371.0,420.0 L369.8,473.5 L368.5,520.0 L366.5,700.0 L365.5,740.0 L364.4,757.8 L363.2,752.3 L362.0,753.1 L360.7,754.3 L359.5,764.0 L358.3,754.6 L357.1,758.5 L355.9,758.5 L354.6,760.1 L353.4,756.5 L352.2,766.7 L351.0,764.2 L349.8,766.1 L348.5,759.1 L347.3,763.7 L346.1,762.3 L344.9,759.3 L343.7,759.1 L342.4,766.7 L341.2,758.2 L340.0,764.4 L338.8,767.5 L337.5,766.9 L336.3,769.0 L335.1,761.3 L333.8,762.5 L332.6,758.9 L331.4,767.7 L330.1,768.8 L328.9,765.4 L327.7,762.0 L326.4,767.5 L325.2,767.4 L324.0,760.1 L322.7,764.2 L321.5,764.8 L320.3,764.3 L319.0,760.9 L317.8,767.5 L316.6,766.3 L315.3,762.5 L314.1,761.5 L312.9,767.6 L311.6,764.2 L310.4,763.6 L309.2,768.3 L307.9,764.7 L306.7,767.1 L305.5,762.0 L304.2,765.3 L303.0,764.4 L301.8,770.5 L300.5,770.6 L299.3,768.1 L298.1,767.0 L296.8,767.3 L295.6,766.7 L294.4,761.6 L293.2,764.4 L292.0,762.7 L290.8,769.6 L289.6,770.3 L288.4,760.4 L287.2,762.9 L286.0,772.0 L284.8,765.1 L283.6,769.9 L282.4,770.2 L281.2,760.9 L280.0,762.6 L278.8,762.4 L277.6,765.5 L276.4,770.1 L275.2,760.6 L274.0,768.5 L272.7,766.4 L271.5,761.5 L270.3,766.0 L269.1,770.4 L267.9,765.9 L266.7,763.3 L265.5,766.4 L264.3,766.6 L263.1,765.9 L261.9,762.2 L260.7,770.2 L259.5,767.2 L258.3,760.3 L257.1,765.8 L255.9,769.5 L254.7,758.6 L253.5,767.1 L252.3,770.5 L251.1,764.4 L249.9,768.4 L248.7,765.0 L247.5,760.2 L246.3,760.1 L245.1,766.0 L243.9,770.0 L242.7,770.0 L241.5,764.5 L240.3,768.6 L239.1,764.1 L237.9,762.4 L236.7,764.4 L235.5,767.4 L234.3,759.7 L233.1,770.8 L231.9,768.1 L230.7,770.4 L229.5,762.0 L228.3,762.1 L227.1,771.0 L225.9,761.1 L224.7,771.4 L223.5,760.7 L222.3,762.8 L221.1,769.4 L219.9,760.7 L218.7,768.4 L217.5,769.0 L216.3,767.9 L215.1,763.6 L213.9,762.9 L212.7,771.3 L211.5,768.9 L210.3,767.1 L209.1,768.1 L207.9,762.5 L206.7,766.7 L205.5,765.1 L204.2,765.4 L203.0,762.3 L201.8,767.7 L200.5,772.9 L199.3,766.9 L198.0,769.5 L196.8,771.5 L195.6,767.0 L194.3,766.6 L193.1,772.5 L191.9,772.8 L190.6,764.8 L189.4,766.8 L188.1,765.8 L186.9,774.4 L185.7,769.3 L184.4,769.8 L183.2,772.8 L182.0,773.1 L180.7,773.2 L179.5,769.0 L178.2,775.8 L177.0,773.4 L175.8,775.0 L174.5,773.3 L173.3,771.1 L172.1,766.5 L170.8,775.3 L169.6,774.1 L168.3,774.3 L167.1,776.3 L165.9,771.8 L164.6,772.3 L163.4,775.0 L162.1,775.7 L160.9,774.7 L159.6,768.0 L158.4,773.4 L157.2,778.6 L155.9,772.5 L154.7,775.4 L153.4,774.4 L152.2,770.5 L150.9,779.7 L149.7,777.4 L148.5,776.7 L147.2,774.9 L146.0,769.3 L144.7,779.6 L143.5,775.6 Z" fill="#9173f5" fill-opacity="0.5"/>
<path d="M143.5,1353.3 L145.8,1351.6 L148.1,1350.2 L150.4,1347.0 L152.7,1342.8 L155.0,1340.0 L157.1,1337.4 L159.1,1337.9 L161.2,1334.4 L163.2,1336.7 L165.3,1333.9 L167.4,1331.6 L169.4,1330.4 L171.5,1331.7 L173.5,1326.5 L175.6,1326.7 L177.7,1327.4 L179.7,1324.7 L181.8,1324.7 L183.9,1324.5 L186.0,1326.5 L188.0,1326.6 L190.1,1324.7 L192.2,1325.4 L194.3,1326.9 L196.3,1323.2 L198.4,1324.2 L200.5,1324.0 L202.6,1325.9 L204.6,1326.6 L206.7,1324.4 L208.8,1325.9 L210.9,1323.1 L212.9,1324.7 L215.0,1323.9 L217.1,1322.2 L219.2,1323.3 L221.3,1318.8 L223.3,1318.8 L225.4,1320.5 L227.5,1319.9 L229.6,1320.9 L231.7,1320.2 L233.8,1318.5 L235.8,1316.6 L237.9,1315.7 L240.0,1315.6 L242.2,1316.5 L244.5,1312.3 L246.7,1310.4 L248.9,1307.7 L251.1,1306.6 L253.4,1309.2 L255.6,1306.7 L257.7,1306.1 L259.7,1306.2 L261.8,1309.3 L263.8,1306.4 L265.9,1309.2 L267.9,1307.2 L270.0,1309.5 L272.1,1310.6 L274.1,1308.8 L276.2,1310.5 L278.2,1307.9 L280.3,1307.3 L282.3,1309.9 L284.4,1308.9 L286.6,1308.8 L288.9,1308.3 L291.1,1304.6 L293.4,1304.9 L295.6,1301.1 L297.8,1298.1 L300.0,1300.8 L302.2,1296.7 L304.5,1297.4 L306.7,1297.8 L308.9,1296.8 L311.1,1294.2 L313.3,1292.2 L315.4,1293.1 L317.4,1290.9 L319.5,1291.2 L321.5,1288.3 L323.6,1287.1 L325.6,1289.7 L327.7,1288.4 L329.7,1289.2 L331.8,1284.9 L333.8,1284.1 L335.9,1286.4 L337.9,1285.2 L340.0,1284.4 L342.2,1280.9 L344.4,1281.5 L346.7,1279.5 L348.9,1276.2 L351.1,1275.6 L353.3,1273.7 L355.5,1275.2 L357.8,1277.0 L360.0,1273.8 L362.2,1272.2 L364.4,1273.3 L367.2,1262.1 L370.0,1250.0 L372.8,1238.3 L375.6,1224.4 L377.8,1216.2 L380.0,1205.6 L382.3,1198.0 L384.5,1186.3 L386.7,1177.8 L388.7,1177.2 L390.7,1175.8 L392.7,1174.0 L394.7,1169.7 L396.7,1165.4 L398.7,1165.1 L400.7,1160.0 L402.7,1160.8 L404.7,1156.9 L406.7,1155.6 L408.9,1154.8 L411.1,1148.5 L413.3,1148.0 L415.5,1155.4 L417.8,1159.1 L420.0,1163.6 L422.2,1170.4 L424.4,1178.2 L426.7,1183.5 L428.9,1186.7 L431.1,1189.5 L433.3,1192.0 L435.6,1192.7 L437.8,1197.4 L440.0,1200.0 L442.2,1202.6 L444.5,1205.8 L446.7,1211.8 L448.9,1214.2 L451.1,1219.5 L453.4,1224.8 L455.6,1229.0 L458.3,1222.0 L461.0,1214.1 L463.1,1206.5 L465.2,1198.8 L467.3,1191.2 L469.3,1186.2 L471.3,1181.1 L473.3,1176.1 L475.4,1171.0 L477.4,1167.3 L479.4,1163.5 L481.4,1159.8 L483.4,1156.1 L485.8,1153.4 L488.2,1150.8 L490.6,1148.2 L493.1,1146.6 L495.6,1145.1 L498.0,1143.5 L500.5,1142.0 L502.6,1145.8 L504.7,1149.5 L506.7,1153.3 L508.8,1157.1 L510.9,1160.9 L513.0,1164.0 L515.1,1167.2 L517.1,1170.4 L519.2,1173.6 L521.3,1176.8 L523.6,1180.1 L525.9,1183.5 L528.1,1186.8 L530.4,1190.1 L532.7,1193.5 L534.7,1196.2 L536.7,1198.8 L538.7,1201.6 L540.7,1204.3 L543.1,1207.7 L545.4,1211.1 L547.8,1214.5 L550.5,1207.2 L553.1,1199.8 L555.2,1192.8 L557.2,1185.7 L559.3,1178.6 L561.9,1172.4 L564.6,1166.1 L567.2,1159.9 L569.9,1155.3 L572.6,1150.7 L575.2,1146.0 L577.6,1143.6 L579.9,1141.2 L582.3,1138.7 L584.7,1137.3 L587.1,1135.9 L589.6,1134.4 L592.0,1133.0 L594.4,1138.1 L596.8,1143.1 L599.2,1148.2 L601.6,1153.3 L604.0,1157.6 L606.4,1161.9 L608.8,1166.2 L611.2,1170.4 L613.3,1174.0 L615.4,1177.6 L617.5,1181.2 L619.6,1184.8 L621.7,1188.4 L624.2,1192.3 L626.7,1196.2 L629.1,1200.1 L631.3,1203.7 L633.5,1207.3 L635.7,1211.0 L638.4,1203.4 L641.1,1195.8 L643.3,1188.5 L645.4,1181.2 L647.5,1173.9 L649.5,1169.0 L651.6,1164.2 L653.6,1159.3 L655.7,1154.5 L657.7,1150.9 L659.8,1147.3 L661.8,1143.7 L663.8,1140.1 L666.3,1137.6 L668.7,1135.0 L671.1,1132.5 L673.6,1131.0 L676.1,1129.6 L678.6,1128.1 L681.1,1126.6 L683.1,1130.7 L685.1,1134.8 L687.1,1138.9 L689.2,1143.0 L691.2,1147.1 L693.2,1150.6 L695.2,1154.0 L697.2,1157.5 L699.2,1161.0 L701.3,1164.4 L703.5,1168.0 L705.6,1171.7 L707.8,1175.3 L710.0,1178.9 L712.2,1182.5 L714.8,1186.5 L717.4,1190.4 L720.0,1194.4 L722.3,1198.0 L724.6,1201.7 L726.9,1205.4 L729.5,1197.9 L732.2,1190.5 L734.2,1183.3 L736.3,1176.1 L738.4,1168.9 L741.0,1162.6 L743.7,1156.2 L746.3,1149.9 L748.9,1145.2 L751.6,1140.5 L754.2,1135.8 L756.6,1133.3 L758.9,1130.8 L761.3,1128.3 L763.7,1126.9 L766.1,1125.4 L768.6,1124.0 L771.0,1122.5 L773.5,1127.8 L775.9,1133.2 L778.4,1138.5 L780.9,1143.8 L783.3,1148.3 L785.8,1152.8 L788.2,1157.4 L790.7,1161.9 L792.9,1165.6 L795.0,1169.4 L797.2,1173.2 L799.3,1176.9 L801.5,1180.7 L804.0,1184.8 L806.5,1188.9 L809.1,1193.0 L811.3,1196.8 L813.6,1200.7 L815.8,1204.5 L818.5,1197.3 L821.1,1190.1 L823.2,1183.1 L825.2,1176.2 L827.3,1169.2 L829.9,1163.1 L832.6,1156.9 L835.2,1150.8 L837.9,1146.2 L840.6,1141.7 L843.2,1137.1 L845.6,1134.7 L847.9,1132.3 L850.3,1129.9 L852.7,1128.5 L855.1,1127.1 L857.6,1125.7 L860.0,1124.3 L862.0,1128.3 L864.0,1132.3 L866.0,1136.3 L868.0,1140.3 L870.0,1144.2 L872.0,1147.6 L874.0,1151.0 L876.1,1154.4 L878.1,1157.7 L880.1,1161.1 L882.3,1164.6 L884.4,1168.2 L886.6,1171.7 L888.8,1175.2 L891.0,1178.8 L893.6,1182.6 L896.2,1186.4 L898.8,1190.3 L901.0,1193.8 L903.3,1197.4 L905.6,1201.0 L908.2,1193.9 L910.8,1186.8 L912.8,1180.0 L914.8,1173.1 L916.9,1166.3 L919.5,1160.2 L922.1,1154.2 L924.7,1148.1 L927.2,1143.7 L929.8,1139.2 L932.4,1134.7 L934.8,1132.4 L937.1,1130.0 L939.4,1127.6 L941.8,1126.2 L944.1,1124.9 L946.5,1123.5 L948.9,1122.1 L951.0,1126.3 L953.0,1130.4 L955.1,1134.6 L957.2,1138.7 L959.3,1142.9 L961.3,1146.4 L963.4,1149.9 L965.5,1153.4 L967.6,1156.9 L969.6,1160.5 L971.9,1164.1 L974.1,1167.8 L976.4,1171.5 L978.7,1175.2 L980.9,1178.8 L982.9,1181.8 L984.9,1184.8 L986.9,1187.8 L988.9,1190.8 L991.3,1194.5 L993.6,1198.2 L996.0,1202.0 L998.5,1194.4 L1001.0,1186.7 L1004.0,1175.7 L1006.9,1164.6 L1009.4,1158.1 L1012.0,1151.6 L1014.5,1145.0 L1017.0,1140.2 L1019.5,1135.4 L1022.0,1130.6 L1024.3,1128.1 L1026.5,1125.5 L1028.8,1123.0 L1031.1,1121.5 L1033.4,1120.0 L1035.7,1118.5 L1038.0,1117.0 L1040.1,1121.1 L1042.1,1125.1 L1044.2,1129.2 L1046.3,1133.2 L1048.3,1137.3 L1050.4,1140.7 L1052.5,1144.1 L1054.5,1147.6 L1056.6,1151.0 L1058.7,1154.4 L1060.9,1158.0 L1063.2,1161.6 L1065.4,1165.2 L1067.7,1168.8 L1070.0,1172.4 L1072.6,1176.3 L1075.3,1180.2 L1078.0,1184.1 L1080.3,1187.7 L1082.7,1191.4 L1085.0,1195.0 L1087.6,1188.1 L1090.2,1181.1 L1092.2,1174.5 L1094.2,1167.8 L1096.2,1161.1 L1098.8,1155.2 L1101.3,1149.3 L1103.9,1143.4 L1106.5,1139.0 L1109.1,1134.7 L1111.7,1130.3 L1114.0,1128.0 L1116.2,1125.7 L1118.5,1123.4 L1120.9,1122.0 L1123.3,1120.7 L1125.6,1119.3 L1128.0,1118.0 L1130.1,1122.0 L1132.1,1126.0 L1134.2,1130.0 L1136.3,1134.0 L1138.3,1138.0 L1140.4,1141.4 L1142.5,1144.8 L1144.5,1148.2 L1146.6,1151.6 L1148.7,1155.0 L1150.9,1158.5 L1153.2,1162.0 L1155.4,1165.6 L1157.7,1169.1 L1160.0,1172.6 L1162.6,1176.4 L1165.3,1180.2 L1168.0,1184.1 L1170.3,1187.7 L1172.7,1191.3 L1175.0,1195.0 L1177.5,1185.1 L1180.0,1175.2 L1182.0,1166.7 L1184.0,1158.3 L1186.0,1149.9 L1188.0,1144.8 L1190.0,1139.7 L1192.0,1134.6 L1194.0,1130.7 L1196.0,1126.8 L1198.0,1122.8 L1200.0,1120.5 L1202.0,1118.2 L1204.0,1115.8 L1206.0,1113.5 L1208.0,1111.1 L1210.0,1109.5 L1212.0,1107.9 L1214.0,1106.2 L1216.0,1104.6 L1218.0,1103.0 L1218.0,1201.0 L1216.0,1203.0 L1214.0,1205.0 L1212.0,1206.9 L1210.0,1208.9 L1208.0,1210.9 L1206.0,1213.7 L1204.0,1216.6 L1202.0,1219.4 L1200.0,1222.3 L1198.0,1225.2 L1196.0,1229.9 L1194.0,1234.7 L1192.0,1239.4 L1190.0,1245.7 L1188.0,1251.9 L1186.0,1258.1 L1184.0,1268.3 L1182.0,1278.6 L1180.0,1288.8 L1177.5,1300.9 L1175.0,1313.0 L1172.7,1308.5 L1170.3,1304.1 L1168.0,1299.6 L1165.3,1294.7 L1162.6,1289.9 L1160.0,1284.9 L1157.7,1280.4 L1155.4,1275.9 L1153.2,1271.5 L1150.9,1267.0 L1148.7,1262.6 L1146.6,1258.3 L1144.5,1254.0 L1142.5,1249.8 L1140.4,1245.5 L1138.3,1241.2 L1136.3,1236.2 L1134.2,1231.1 L1132.1,1226.1 L1130.1,1221.0 L1128.0,1216.0 L1125.6,1217.7 L1123.3,1219.4 L1120.9,1221.1 L1118.5,1222.8 L1116.2,1225.7 L1114.0,1228.6 L1111.7,1231.5 L1109.1,1237.0 L1106.5,1242.5 L1103.9,1248.0 L1101.3,1255.4 L1098.8,1262.9 L1096.2,1270.3 L1094.2,1278.7 L1092.2,1287.1 L1090.2,1295.5 L1087.6,1304.3 L1085.0,1313.0 L1082.7,1308.4 L1080.3,1303.9 L1078.0,1299.3 L1075.3,1294.4 L1072.6,1289.5 L1070.0,1284.6 L1067.7,1280.1 L1065.4,1275.6 L1063.2,1271.1 L1060.9,1266.5 L1058.7,1262.0 L1056.6,1257.7 L1054.5,1253.4 L1052.5,1249.1 L1050.4,1244.8 L1048.3,1240.5 L1046.3,1235.4 L1044.2,1230.3 L1042.1,1225.2 L1040.1,1220.1 L1038.0,1215.0 L1035.7,1216.8 L1033.4,1218.7 L1031.1,1220.5 L1028.8,1222.4 L1026.5,1225.5 L1024.3,1228.7 L1022.0,1231.8 L1019.5,1237.8 L1017.0,1243.7 L1014.5,1249.6 L1012.0,1257.7 L1009.4,1265.8 L1006.9,1273.8 L1004.0,1287.5 L1001.0,1301.1 L998.5,1310.5 L996.0,1320.0 L993.6,1315.4 L991.3,1310.7 L988.9,1306.0 L986.9,1302.3 L984.9,1298.5 L982.9,1294.8 L980.9,1291.0 L978.7,1286.4 L976.4,1281.8 L974.1,1277.2 L971.9,1272.6 L969.6,1268.1 L967.6,1263.7 L965.5,1259.3 L963.4,1254.9 L961.3,1250.5 L959.3,1246.1 L957.2,1240.9 L955.1,1235.7 L953.0,1230.5 L951.0,1225.3 L948.9,1220.1 L946.5,1221.8 L944.1,1223.6 L941.8,1225.3 L939.4,1227.0 L937.1,1230.0 L934.8,1233.0 L932.4,1235.9 L929.8,1241.5 L927.2,1247.1 L924.7,1252.7 L922.1,1260.3 L919.5,1267.9 L916.9,1275.5 L914.8,1284.1 L912.8,1292.6 L910.8,1301.2 L908.2,1310.1 L905.6,1319.0 L903.3,1314.5 L901.0,1310.0 L898.8,1305.5 L896.2,1300.6 L893.6,1295.8 L891.0,1291.0 L888.8,1286.5 L886.6,1282.1 L884.4,1277.6 L882.3,1273.2 L880.1,1268.7 L878.1,1264.5 L876.1,1260.2 L874.0,1256.0 L872.0,1251.7 L870.0,1247.4 L868.0,1242.4 L866.0,1237.4 L864.0,1232.4 L862.0,1227.3 L860.0,1222.3 L857.6,1224.1 L855.1,1225.8 L852.7,1227.6 L850.3,1229.3 L847.9,1232.3 L845.6,1235.3 L843.2,1238.3 L840.6,1244.0 L837.9,1249.7 L835.2,1255.4 L832.6,1263.0 L829.9,1270.7 L827.3,1278.4 L825.2,1287.1 L823.2,1295.8 L821.1,1304.5 L818.5,1313.5 L815.8,1322.5 L813.6,1317.7 L811.3,1313.0 L809.1,1308.2 L806.5,1303.1 L804.0,1298.0 L801.5,1292.9 L799.3,1288.2 L797.2,1283.5 L795.0,1278.8 L792.9,1274.2 L790.7,1269.5 L788.2,1263.9 L785.8,1258.2 L783.3,1252.6 L780.9,1247.0 L778.4,1240.4 L775.9,1233.8 L773.5,1227.1 L771.0,1220.5 L768.6,1222.3 L766.1,1224.1 L763.7,1225.9 L761.3,1227.7 L758.9,1230.8 L756.6,1233.9 L754.2,1237.0 L751.6,1242.8 L748.9,1248.6 L746.3,1254.5 L743.7,1262.3 L741.0,1270.2 L738.4,1278.1 L736.3,1287.0 L734.2,1296.0 L732.2,1304.9 L729.5,1314.1 L726.9,1323.4 L724.6,1318.8 L722.3,1314.2 L720.0,1309.6 L717.4,1304.6 L714.8,1299.7 L712.2,1294.7 L710.0,1290.2 L707.8,1285.7 L705.6,1281.1 L703.5,1276.6 L701.3,1272.0 L699.2,1267.7 L697.2,1263.3 L695.2,1259.0 L693.2,1254.6 L691.2,1250.3 L689.2,1245.2 L687.1,1240.0 L685.1,1234.9 L683.1,1229.7 L681.1,1224.6 L678.6,1226.4 L676.1,1228.3 L673.6,1230.1 L671.1,1231.9 L668.7,1235.0 L666.3,1238.2 L663.8,1241.3 L661.8,1245.7 L659.8,1250.2 L657.7,1254.6 L655.7,1259.1 L653.6,1265.1 L651.6,1271.1 L649.5,1277.1 L647.5,1283.1 L645.4,1292.1 L643.3,1301.2 L641.1,1310.2 L638.4,1319.6 L635.7,1329.0 L633.5,1324.5 L631.3,1319.9 L629.1,1315.3 L626.7,1310.4 L624.2,1305.5 L621.7,1300.6 L619.6,1296.1 L617.5,1291.6 L615.4,1287.1 L613.3,1282.5 L611.2,1278.0 L608.8,1272.7 L606.4,1267.3 L604.0,1261.9 L601.6,1256.5 L599.2,1250.1 L596.8,1243.7 L594.4,1237.4 L592.0,1231.0 L589.6,1232.8 L587.1,1234.6 L584.7,1236.3 L582.3,1238.1 L579.9,1241.2 L577.6,1244.2 L575.2,1247.2 L572.6,1253.0 L569.9,1258.7 L567.2,1264.5 L564.6,1272.3 L561.9,1280.1 L559.3,1287.8 L557.2,1296.6 L555.2,1305.4 L553.1,1314.2 L550.5,1323.4 L547.8,1332.5 L545.4,1328.2 L543.1,1323.9 L540.7,1319.6 L538.7,1316.1 L536.7,1312.7 L534.7,1309.1 L532.7,1305.7 L530.4,1301.4 L528.1,1297.2 L525.9,1292.9 L523.6,1288.7 L521.3,1284.4 L519.2,1280.3 L517.1,1276.3 L515.1,1272.2 L513.0,1268.1 L510.9,1264.0 L508.8,1259.2 L506.7,1254.4 L504.7,1249.6 L502.6,1244.8 L500.5,1240.0 L498.0,1241.9 L495.6,1243.8 L493.1,1245.7 L490.6,1247.6 L488.2,1250.8 L485.8,1254.0 L483.4,1257.3 L481.4,1261.8 L479.4,1266.4 L477.4,1271.0 L475.4,1275.6 L473.3,1281.8 L471.3,1288.0 L469.3,1294.2 L467.3,1300.4 L465.2,1309.8 L463.1,1319.1 L461.0,1328.5 L458.3,1338.2 L455.6,1348.0 L453.4,1345.3 L451.1,1344.3 L448.9,1338.6 L446.7,1334.1 L444.5,1333.4 L442.2,1331.1 L440.0,1326.7 L437.8,1322.8 L435.6,1318.3 L433.3,1316.4 L431.1,1309.2 L428.9,1306.7 L426.7,1300.4 L424.4,1291.2 L422.2,1286.6 L420.0,1280.9 L417.8,1272.7 L415.5,1265.5 L413.3,1260.0 L411.1,1263.6 L408.9,1266.8 L406.7,1269.3 L404.5,1270.3 L402.2,1274.1 L400.0,1279.3 L397.8,1283.4 L395.6,1284.4 L393.4,1287.5 L391.1,1293.6 L388.9,1295.0 L386.6,1298.0 L384.4,1302.2 L382.3,1316.2 L380.3,1329.9 L378.2,1341.4 L376.1,1351.7 L374.1,1365.9 L372.0,1380.0 L369.5,1389.7 L366.9,1394.6 L364.4,1402.2 L362.2,1405.5 L360.0,1404.2 L357.8,1404.0 L355.5,1403.1 L353.3,1403.7 L351.1,1406.7 L349.1,1406.0 L347.1,1407.5 L345.0,1413.3 L343.0,1412.3 L341.0,1412.7 L339.0,1417.6 L337.0,1417.1 L335.0,1419.4 L332.9,1421.2 L330.9,1420.0 L328.9,1422.2 L326.8,1421.4 L324.7,1420.1 L322.7,1421.5 L320.6,1422.0 L318.5,1422.8 L316.4,1423.8 L314.3,1426.4 L312.2,1423.1 L310.2,1425.6 L308.1,1427.4 L306.0,1427.3 L303.9,1425.2 L301.8,1424.3 L299.8,1425.9 L297.7,1427.8 L295.6,1426.7 L293.5,1426.1 L291.4,1427.6 L289.3,1424.4 L287.2,1423.6 L285.2,1425.3 L283.1,1426.2 L281.0,1426.9 L278.9,1426.3 L276.8,1424.3 L274.7,1423.9 L272.6,1421.5 L270.6,1424.3 L268.5,1420.7 L266.4,1423.6 L264.3,1423.8 L262.2,1422.2 L260.1,1422.9 L258.0,1423.4 L256.0,1425.8 L253.9,1423.0 L251.8,1424.8 L249.7,1424.6 L247.6,1428.6 L245.6,1428.2 L243.5,1427.5 L241.4,1426.4 L239.3,1428.2 L237.2,1430.1 L235.1,1431.8 L233.1,1433.0 L231.0,1431.6 L228.9,1433.3 L226.8,1432.3 L224.7,1434.9 L222.7,1431.9 L220.6,1432.6 L218.5,1434.7 L216.4,1436.2 L214.3,1434.0 L212.2,1435.4 L210.2,1435.7 L208.1,1434.1 L206.0,1432.6 L203.9,1435.5 L201.8,1432.8 L199.8,1432.4 L197.7,1433.6 L195.6,1435.6 L193.6,1436.7 L191.6,1435.7 L189.6,1440.5 L187.6,1438.4 L185.6,1438.3 L183.6,1440.0 L181.6,1443.7 L179.6,1444.8 L177.6,1446.1 L175.6,1446.7 L173.4,1447.1 L171.1,1449.6 L168.9,1447.8 L166.7,1446.3 L164.5,1448.5 L162.2,1448.4 L160.0,1450.0 L157.8,1445.6 L155.5,1442.5 L153.3,1440.0 L150.9,1445.8 L148.4,1449.4 L145.9,1456.7 L143.5,1460.0 Z" fill="#f2b8b6"/>
<path d="M143.5,1711.1 L144.7,1710.9 L146.0,1712.0 L147.2,1704.5 L148.4,1701.2 L149.7,1708.2 L150.9,1703.6 L152.1,1702.7 L153.4,1698.7 L154.6,1698.2 L155.8,1701.5 L157.1,1698.7 L158.3,1704.2 L159.5,1698.3 L160.8,1694.3 L162.0,1695.6 L163.2,1693.5 L164.4,1689.6 L165.6,1698.8 L166.8,1689.1 L168.0,1698.0 L169.2,1689.7 L170.5,1690.4 L169.8,1691.0 L171.0,1666.7 L172.2,1691.0 L171.7,1691.7 L172.9,1691.9 L174.1,1689.9 L175.3,1693.1 L176.5,1688.9 L177.7,1688.8 L178.9,1689.0 L180.1,1691.3 L181.3,1688.5 L182.5,1695.2 L183.7,1693.9 L185.0,1697.4 L186.2,1687.6 L187.4,1694.6 L188.6,1688.5 L189.8,1698.5 L191.0,1688.6 L192.2,1689.4 L193.4,1697.8 L194.6,1696.9 L195.8,1696.1 L197.0,1686.2 L198.2,1686.4 L199.5,1686.1 L200.7,1692.0 L201.9,1696.8 L203.1,1687.2 L204.3,1689.2 L205.5,1691.1 L206.7,1691.1 L207.9,1691.8 L209.1,1696.4 L210.3,1688.5 L211.5,1689.3 L212.7,1693.4 L213.9,1689.6 L215.1,1688.9 L216.3,1691.7 L217.5,1687.5 L218.7,1689.2 L219.9,1696.9 L221.1,1686.2 L222.3,1687.6 L223.5,1692.6 L224.7,1688.6 L225.9,1691.2 L227.1,1693.4 L228.3,1687.0 L229.5,1687.1 L230.7,1687.8 L229.8,1689.3 L231.0,1648.9 L232.2,1689.3 L231.9,1693.7 L233.1,1692.4 L234.3,1697.0 L235.5,1689.2 L236.7,1691.1 L237.9,1687.3 L239.1,1696.7 L240.3,1693.5 L241.5,1692.9 L242.7,1687.4 L243.9,1694.8 L245.1,1695.1 L246.3,1686.7 L247.5,1686.7 L248.7,1695.5 L249.9,1691.5 L251.1,1691.1 L252.3,1694.6 L253.6,1697.1 L254.8,1695.5 L256.0,1688.5 L257.3,1689.0 L258.5,1695.8 L259.7,1695.3 L261.0,1698.5 L262.2,1697.2 L263.4,1692.6 L264.7,1696.5 L265.9,1696.9 L267.1,1701.4 L268.4,1702.1 L269.6,1696.8 L270.8,1696.5 L272.1,1699.3 L273.3,1697.8 L274.5,1697.7 L275.7,1696.7 L276.9,1693.3 L275.8,1693.3 L277.0,1664.4 L278.2,1693.3 L278.1,1692.9 L279.3,1697.1 L280.5,1695.3 L281.7,1696.3 L282.9,1698.7 L284.1,1691.6 L285.3,1692.6 L286.5,1698.6 L287.7,1692.6 L288.9,1692.9 L290.1,1699.3 L291.3,1688.4 L292.5,1692.4 L293.7,1689.8 L294.9,1699.2 L296.2,1698.5 L297.4,1697.8 L298.6,1692.9 L299.8,1693.3 L301.0,1693.5 L302.2,1694.8 L303.4,1695.3 L304.6,1695.9 L305.8,1692.6 L307.0,1685.9 L308.2,1693.4 L309.4,1689.6 L310.6,1690.5 L311.8,1693.2 L313.0,1694.9 L314.2,1691.6 L315.4,1690.9 L316.6,1695.1 L317.8,1688.9 L319.0,1682.9 L320.3,1691.2 L321.5,1683.6 L322.7,1688.9 L324.0,1685.1 L322.8,1685.2 L324.0,1635.6 L325.2,1685.2 L325.2,1686.3 L326.4,1691.7 L327.7,1685.5 L328.9,1692.2 L330.1,1688.8 L331.4,1691.9 L332.6,1688.5 L333.8,1688.1 L335.1,1687.2 L336.3,1691.4 L337.5,1680.3 L338.8,1681.4 L340.0,1682.5 L341.2,1690.4 L342.5,1691.1 L343.7,1681.5 L344.9,1682.7 L344.3,1683.6 L345.5,1582.2 L346.7,1683.6 L346.2,1684.7 L347.4,1681.6 L348.6,1681.3 L349.9,1680.8 L351.1,1684.4 L352.3,1686.1 L353.6,1676.1 L354.8,1679.7 L356.0,1680.8 L357.3,1671.2 L358.5,1671.7 L359.7,1664.8 L361.0,1664.1 L362.2,1666.7 L363.9,1632.5 L365.5,1600.0 L366.5,1213.0 L368.5,1213.0 L369.8,1297.9 L371.0,1380.0 L372.3,1383.1 L373.7,1398.4 L375.0,1400.0 L376.3,1402.8 L377.7,1409.8 L379.0,1405.6 L380.4,1408.7 L381.7,1411.6 L383.1,1413.1 L384.4,1413.3 L385.6,1418.7 L386.9,1423.6 L388.1,1423.7 L389.4,1433.8 L390.6,1438.5 L391.9,1441.2 L393.1,1442.6 L394.4,1447.2 L395.6,1453.3 L396.9,1460.4 L398.2,1467.4 L399.6,1483.2 L400.9,1496.9 L402.2,1502.2 L403.5,1509.4 L404.9,1521.3 L406.2,1523.2 L407.6,1523.3 L408.9,1535.6 L411.0,1575.6 L412.5,1700.0 L413.0,1724.4 L414.3,1724.6 L415.5,1716.5 L416.8,1719.3 L418.0,1725.8 L419.3,1723.1 L420.5,1716.4 L421.8,1712.9 L423.0,1710.4 L424.3,1710.1 L425.6,1710.0 L426.8,1716.4 L428.1,1709.2 L429.3,1714.4 L430.6,1714.0 L431.8,1713.6 L433.1,1704.4 L434.3,1708.7 L435.6,1704.4 L436.8,1706.1 L438.1,1699.3 L439.3,1706.4 L440.6,1704.1 L441.8,1697.5 L443.0,1700.8 L444.3,1698.9 L445.5,1700.7 L446.8,1697.2 L448.0,1700.0 L449.5,1698.5 L451.0,1704.4 L452.3,1690.4 L453.7,1690.0 L455.0,1680.0 L456.0,1600.0 L457.0,1307.0 L459.0,1307.0 L460.5,1351.0 L462.0,1400.0 L463.4,1404.8 L464.8,1415.9 L466.1,1424.0 L467.5,1427.4 L468.9,1435.6 L470.1,1445.9 L471.3,1440.7 L472.5,1446.3 L473.7,1457.6 L474.9,1457.8 L476.2,1459.3 L477.4,1471.6 L478.6,1467.7 L479.8,1481.9 L481.0,1480.0 L482.2,1486.7 L483.4,1493.2 L484.6,1492.2 L485.9,1497.4 L487.1,1497.9 L488.3,1508.0 L489.5,1505.6 L490.7,1506.0 L491.9,1519.3 L493.2,1521.0 L494.4,1518.8 L495.6,1524.4 L497.1,1546.4 L498.5,1569.1 L500.0,1593.0 L501.5,1722.2 L502.7,1717.9 L504.0,1724.8 L505.2,1723.8 L506.4,1723.8 L507.7,1715.9 L508.9,1717.7 L510.1,1721.0 L511.4,1713.5 L512.6,1721.0 L513.8,1715.5 L515.1,1710.9 L516.3,1714.6 L517.5,1720.9 L518.8,1713.8 L520.0,1715.0 L521.2,1712.0 L522.5,1708.7 L523.8,1711.2 L525.0,1707.0 L526.2,1705.1 L527.5,1711.9 L528.8,1713.0 L530.0,1707.4 L531.2,1713.1 L532.5,1707.0 L533.8,1706.0 L535.0,1705.2 L536.2,1709.3 L537.5,1704.0 L538.8,1701.9 L540.0,1702.2 L541.2,1696.7 L542.5,1696.1 L543.8,1694.2 L545.0,1690.0 L546.5,1600.0 L547.0,1296.0 L549.0,1296.0 L550.3,1336.6 L551.7,1383.5 L553.0,1420.0 L554.3,1422.0 L555.6,1434.5 L556.9,1437.9 L558.3,1448.9 L559.6,1462.3 L560.9,1471.3 L562.2,1473.3 L563.5,1474.5 L564.7,1481.2 L566.0,1479.6 L567.3,1480.5 L568.6,1483.5 L569.8,1493.7 L571.1,1496.4 L572.4,1502.6 L573.6,1504.9 L574.9,1501.4 L576.2,1503.1 L577.5,1514.4 L578.7,1511.5 L580.0,1517.8 L581.2,1531.7 L582.5,1539.0 L583.8,1552.5 L585.0,1555.0 L586.2,1567.5 L587.5,1584.1 L588.8,1585.1 L590.0,1600.0 L591.5,1726.7 L592.7,1726.0 L593.9,1724.3 L595.2,1729.8 L596.4,1720.0 L597.6,1724.9 L598.8,1718.3 L600.0,1721.0 L601.2,1719.1 L602.5,1716.3 L603.7,1722.3 L604.9,1717.9 L606.1,1720.6 L607.3,1721.7 L608.6,1711.9 L609.8,1720.9 L611.0,1715.0 L612.3,1719.7 L613.5,1712.8 L614.8,1707.0 L616.0,1708.9 L617.3,1706.3 L618.5,1706.3 L619.8,1706.7 L621.0,1709.3 L622.3,1703.0 L623.6,1712.3 L624.8,1705.8 L626.1,1702.4 L627.3,1698.9 L628.6,1704.8 L629.8,1706.7 L631.1,1702.2 L632.5,1680.4 L634.0,1650.0 L635.5,1468.4 L637.0,1284.0 L639.0,1284.0 L640.3,1323.2 L641.7,1355.6 L643.0,1400.0 L644.2,1420.2 L645.5,1448.8 L646.7,1464.4 L648.0,1464.0 L649.2,1475.3 L650.5,1476.6 L651.8,1480.5 L653.0,1481.6 L654.3,1484.2 L655.5,1492.2 L656.8,1495.0 L658.1,1496.0 L659.3,1493.3 L660.6,1502.1 L661.9,1503.4 L663.1,1504.8 L664.4,1513.3 L665.6,1516.3 L666.8,1517.6 L668.1,1527.7 L669.3,1522.1 L670.5,1531.8 L671.7,1526.1 L672.9,1533.6 L674.1,1534.2 L675.4,1533.1 L676.6,1536.7 L677.8,1544.4 L680.0,1600.0 L681.0,1728.9 L682.3,1728.6 L683.5,1730.9 L684.8,1719.7 L686.1,1720.5 L687.3,1726.8 L688.6,1723.5 L689.9,1722.8 L691.1,1719.9 L692.4,1715.1 L693.7,1717.0 L694.9,1710.4 L696.2,1718.9 L697.5,1707.6 L698.7,1706.8 L700.0,1711.1 L701.3,1710.8 L702.5,1704.6 L703.8,1706.8 L705.0,1711.2 L706.3,1706.4 L707.6,1708.8 L708.8,1703.0 L710.1,1710.7 L711.3,1699.4 L712.6,1705.1 L713.9,1699.4 L712.8,1699.6 L714.0,1684.0 L715.2,1699.6 L715.1,1701.1 L716.4,1699.1 L717.6,1694.8 L718.9,1700.0 L720.2,1693.1 L721.5,1677.3 L722.7,1666.1 L724.0,1650.0 L725.5,1459.0 L727.0,1280.0 L729.0,1280.0 L730.3,1322.2 L731.7,1361.9 L733.0,1400.0 L734.3,1421.8 L735.6,1451.1 L736.9,1450.4 L738.1,1462.3 L739.4,1463.4 L740.7,1467.2 L741.9,1478.3 L743.2,1482.1 L744.5,1478.6 L745.7,1489.6 L747.0,1485.3 L748.2,1493.0 L749.5,1494.0 L750.8,1506.5 L752.0,1505.2 L753.3,1513.3 L754.5,1515.4 L755.7,1515.1 L756.9,1516.2 L758.1,1524.6 L759.3,1520.4 L760.5,1527.2 L761.7,1528.8 L762.9,1534.7 L764.1,1528.0 L765.3,1529.2 L766.5,1538.8 L767.7,1536.3 L768.9,1540.0 L770.0,1600.0 L771.0,1724.4 L772.2,1727.4 L773.4,1721.2 L774.6,1718.3 L775.8,1727.8 L777.0,1725.5 L778.2,1727.8 L779.5,1727.6 L780.7,1717.5 L781.9,1715.7 L783.1,1717.3 L784.3,1717.3 L785.5,1723.1 L786.7,1721.6 L787.9,1715.6 L789.1,1720.7 L790.3,1716.6 L791.5,1723.1 L792.8,1721.5 L794.0,1712.3 L795.2,1717.2 L796.4,1712.2 L797.6,1720.2 L798.8,1721.0 L800.0,1715.0 L801.2,1716.9 L802.5,1716.4 L803.7,1708.4 L804.9,1709.7 L806.2,1716.3 L807.4,1707.8 L808.6,1712.3 L809.9,1707.5 L811.1,1706.7 L812.5,1682.7 L814.0,1650.0 L815.5,1475.0 L817.0,1289.0 L819.0,1289.0 L820.4,1327.0 L821.7,1361.7 L823.0,1388.9 L824.4,1424.4 L825.7,1432.5 L827.1,1452.5 L828.4,1466.3 L829.8,1473.3 L831.1,1486.7 L832.3,1487.6 L833.5,1493.3 L834.7,1499.5 L836.0,1491.9 L837.2,1502.6 L838.4,1504.8 L839.6,1506.1 L840.8,1509.7 L842.0,1509.5 L843.2,1514.9 L844.5,1514.4 L845.7,1520.2 L846.9,1523.5 L848.1,1515.2 L849.3,1524.5 L850.5,1531.2 L851.7,1526.3 L852.9,1524.6 L854.2,1531.5 L855.4,1536.2 L856.6,1534.7 L857.8,1540.0 L859.1,1574.9 L860.5,1600.0 L861.0,1728.9 L862.2,1722.4 L863.4,1725.3 L864.7,1731.0 L865.9,1723.7 L867.1,1722.3 L868.3,1723.2 L869.5,1721.3 L870.8,1727.3 L872.0,1728.3 L873.2,1720.1 L874.4,1727.1 L875.6,1726.5 L876.8,1720.5 L878.1,1719.9 L879.3,1725.1 L880.5,1717.3 L881.7,1721.6 L882.9,1724.3 L884.2,1719.2 L885.4,1714.8 L886.6,1717.8 L887.8,1717.5 L889.0,1715.9 L890.2,1712.0 L891.5,1709.3 L892.7,1718.5 L893.9,1707.9 L895.1,1715.5 L896.3,1710.2 L897.6,1709.9 L898.8,1706.3 L900.0,1711.1 L901.3,1691.5 L902.7,1666.7 L904.0,1650.0 L905.5,1449.7 L907.0,1258.0 L909.0,1258.0 L910.2,1294.8 L911.4,1329.4 L912.6,1365.1 L913.8,1400.6 L915.0,1440.0 L916.2,1452.9 L917.5,1470.3 L918.8,1486.7 L920.0,1494.8 L921.3,1495.5 L922.6,1493.9 L923.8,1492.8 L925.1,1500.0 L926.4,1494.1 L927.7,1494.2 L928.9,1499.9 L930.2,1499.3 L931.5,1500.0 L932.7,1496.4 L934.0,1497.5 L935.2,1499.2 L936.5,1504.1 L937.7,1512.6 L938.9,1514.0 L940.2,1509.6 L941.4,1519.0 L942.6,1514.7 L943.9,1518.3 L945.1,1521.9 L946.4,1516.0 L947.6,1522.4 L950.0,1600.0 L950.5,1731.1 L951.7,1726.7 L953.0,1734.1 L954.2,1726.4 L955.4,1731.6 L956.7,1727.5 L957.9,1725.3 L959.1,1732.2 L960.3,1728.0 L961.6,1720.6 L962.8,1722.5 L964.0,1721.2 L965.3,1729.2 L966.5,1724.9 L967.7,1719.2 L969.0,1721.0 L970.2,1716.9 L971.4,1714.9 L972.6,1720.6 L973.9,1718.5 L975.1,1717.2 L976.3,1722.4 L977.6,1721.1 L978.8,1721.4 L980.0,1718.6 L981.3,1721.1 L982.5,1719.4 L983.7,1713.7 L984.9,1716.9 L986.2,1710.0 L987.4,1707.8 L988.6,1706.3 L989.9,1711.0 L991.1,1711.1 L992.5,1677.8 L994.0,1650.0 L996.0,1291.0 L998.0,1291.0 L999.2,1326.7 L1000.5,1367.9 L1001.8,1397.2 L1003.0,1440.0 L1004.4,1451.3 L1005.9,1456.8 L1007.3,1467.3 L1008.6,1468.0 L1009.9,1479.7 L1011.2,1489.0 L1012.5,1488.1 L1013.8,1501.0 L1015.1,1509.5 L1016.4,1510.9 L1017.6,1508.8 L1018.8,1518.4 L1020.1,1511.5 L1021.3,1514.2 L1022.5,1519.1 L1023.7,1514.2 L1024.9,1518.5 L1026.1,1522.4 L1027.4,1519.5 L1028.6,1518.0 L1029.8,1527.4 L1031.0,1528.0 L1032.2,1523.3 L1033.4,1526.1 L1034.7,1525.6 L1035.9,1530.6 L1037.1,1531.5 L1039.5,1600.0 L1040.0,1730.4 L1041.2,1734.1 L1042.5,1731.2 L1043.7,1731.9 L1044.9,1729.7 L1046.1,1726.3 L1047.4,1724.0 L1048.6,1721.4 L1049.8,1728.1 L1051.0,1723.2 L1052.3,1718.9 L1053.5,1722.3 L1054.7,1728.1 L1055.9,1724.4 L1057.2,1721.3 L1058.4,1716.3 L1059.6,1724.0 L1060.8,1721.2 L1062.1,1715.8 L1063.3,1719.3 L1064.6,1720.0 L1063.8,1720.2 L1065.0,1626.7 L1066.2,1720.2 L1065.9,1720.4 L1067.2,1712.3 L1068.4,1720.0 L1069.7,1714.3 L1071.0,1718.4 L1072.3,1708.3 L1073.6,1711.7 L1074.9,1709.3 L1076.1,1703.8 L1077.4,1702.2 L1078.7,1700.6 L1080.0,1704.4 L1081.3,1690.9 L1082.7,1673.7 L1084.0,1650.0 L1085.5,1260.0 L1087.5,1260.0 L1089.0,1314.5 L1090.5,1379.3 L1092.0,1440.0 L1093.2,1457.1 L1094.5,1471.8 L1095.8,1475.8 L1097.1,1479.5 L1098.4,1483.7 L1099.8,1481.5 L1101.1,1482.4 L1102.4,1494.0 L1103.7,1494.8 L1104.9,1501.7 L1106.1,1501.5 L1107.3,1503.3 L1108.5,1496.1 L1109.8,1502.8 L1111.0,1502.6 L1112.2,1496.2 L1113.4,1502.0 L1114.6,1500.1 L1115.8,1507.2 L1117.0,1502.6 L1118.2,1507.1 L1119.4,1508.2 L1120.6,1509.3 L1121.9,1514.2 L1123.1,1505.6 L1124.3,1513.7 L1125.5,1512.0 L1126.7,1513.2 L1128.5,1600.0 L1130.0,1737.8 L1131.2,1732.4 L1132.4,1741.5 L1133.6,1733.7 L1134.8,1736.2 L1136.0,1731.3 L1137.2,1728.6 L1138.4,1736.4 L1139.7,1726.8 L1140.9,1733.6 L1142.1,1735.8 L1143.3,1726.2 L1144.5,1723.4 L1145.7,1726.0 L1146.9,1722.3 L1148.1,1732.3 L1149.3,1720.8 L1150.5,1720.8 L1151.7,1718.5 L1152.9,1729.2 L1154.1,1723.7 L1155.3,1716.7 L1156.6,1715.1 L1157.8,1719.3 L1159.0,1716.7 L1160.2,1722.7 L1161.4,1721.4 L1162.6,1714.1 L1163.8,1710.4 L1165.0,1715.6 L1166.3,1709.0 L1167.6,1704.0 L1168.9,1704.4 L1170.2,1687.6 L1171.5,1673.9 L1172.7,1665.6 L1174.0,1650.0 L1175.0,1244.0 L1177.0,1244.0 L1178.2,1287.2 L1179.5,1336.8 L1180.8,1379.8 L1182.0,1420.0 L1183.5,1427.8 L1184.9,1435.9 L1186.4,1444.3 L1187.6,1449.0 L1188.9,1459.2 L1190.1,1457.1 L1191.3,1461.8 L1192.6,1463.2 L1193.8,1476.6 L1195.1,1480.0 L1196.3,1483.1 L1197.5,1489.0 L1198.8,1488.8 L1200.0,1494.8 L1201.3,1494.1 L1202.5,1482.1 L1203.8,1475.0 L1205.0,1478.5 L1206.3,1474.8 L1207.5,1468.1 L1208.8,1463.1 L1210.0,1458.6 L1211.3,1447.9 L1212.5,1449.6 L1213.8,1444.3 L1215.2,1450.6 L1216.6,1442.3 L1218.0,1450.0 L1219.0,1800.0 L1219.0,1800.0 L1217.0,1674.8 L1215.8,1667.9 L1214.5,1669.1 L1213.3,1670.9 L1212.1,1669.7 L1210.8,1660.8 L1209.6,1664.1 L1208.4,1658.4 L1207.1,1662.2 L1205.9,1653.6 L1204.7,1655.6 L1203.4,1658.3 L1202.2,1652.6 L1201.0,1645.3 L1199.8,1643.6 L1198.6,1647.9 L1197.4,1637.3 L1196.2,1641.3 L1195.0,1637.6 L1193.8,1630.0 L1192.6,1632.6 L1191.4,1631.2 L1190.2,1622.1 L1188.9,1618.7 L1187.7,1627.3 L1186.5,1612.9 L1185.3,1610.8 L1184.1,1611.0 L1182.9,1607.8 L1181.7,1609.4 L1180.5,1603.9 L1179.3,1599.0 L1178.1,1600.7 L1176.8,1612.8 L1175.5,1620.0 L1174.0,1720.0 L1172.3,1744.0 L1170.7,1765.6 L1169.5,1769.1 L1168.3,1771.1 L1167.1,1769.4 L1165.9,1773.2 L1164.7,1775.2 L1163.5,1773.4 L1162.3,1772.8 L1161.1,1768.4 L1159.9,1771.3 L1158.7,1778.1 L1157.5,1776.0 L1156.3,1779.6 L1155.1,1777.7 L1153.9,1778.6 L1152.7,1780.9 L1151.5,1784.0 L1150.3,1774.0 L1149.1,1784.7 L1147.9,1783.1 L1146.7,1782.2 L1145.5,1782.6 L1144.3,1785.6 L1143.1,1789.8 L1141.8,1782.5 L1140.6,1784.3 L1139.4,1788.7 L1138.2,1787.3 L1137.0,1793.8 L1135.8,1789.0 L1134.5,1792.2 L1133.3,1798.7 L1132.1,1804.3 L1130.9,1800.7 L1129.2,1751.3 L1127.5,1700.0 L1126.3,1694.3 L1125.0,1686.6 L1123.8,1683.2 L1122.6,1680.4 L1121.3,1680.0 L1120.0,1673.2 L1118.7,1677.8 L1117.4,1666.7 L1116.1,1663.2 L1114.8,1667.0 L1113.5,1658.2 L1112.2,1662.1 L1110.9,1659.7 L1109.6,1656.3 L1108.3,1653.7 L1107.1,1653.4 L1105.8,1653.5 L1104.5,1647.3 L1103.3,1641.1 L1102.0,1633.9 L1100.7,1630.6 L1099.4,1628.9 L1098.2,1628.1 L1096.9,1629.3 L1095.6,1629.8 L1094.4,1620.6 L1093.1,1621.7 L1091.8,1611.6 L1090.6,1615.5 L1089.3,1610.0 L1087.7,1609.4 L1086.0,1620.0 L1084.0,1720.0 L1081.9,1761.9 L1080.7,1759.1 L1079.4,1767.5 L1078.2,1765.9 L1076.9,1765.5 L1075.7,1767.7 L1074.5,1769.3 L1073.2,1770.0 L1072.0,1767.2 L1070.7,1774.4 L1069.5,1770.4 L1068.3,1769.7 L1067.0,1765.7 L1065.8,1770.3 L1064.5,1766.5 L1063.3,1773.0 L1062.1,1770.1 L1060.8,1781.2 L1059.6,1779.9 L1058.4,1783.1 L1057.1,1777.1 L1055.9,1779.5 L1054.7,1780.6 L1053.4,1789.4 L1052.2,1791.3 L1051.0,1792.8 L1049.7,1788.8 L1048.5,1787.0 L1047.3,1788.1 L1046.0,1791.2 L1044.8,1794.1 L1043.6,1795.2 L1042.3,1795.7 L1041.1,1798.9 L1039.0,1690.0 L1037.3,1677.0 L1035.6,1667.4 L1034.3,1660.7 L1033.0,1659.2 L1031.7,1660.0 L1030.4,1662.2 L1029.1,1661.1 L1027.8,1656.0 L1026.5,1654.1 L1025.2,1659.3 L1023.9,1653.0 L1022.6,1652.6 L1021.4,1656.0 L1020.2,1649.1 L1019.0,1649.1 L1017.8,1643.3 L1016.6,1641.4 L1015.4,1646.4 L1014.2,1641.2 L1013.0,1641.6 L1011.8,1633.1 L1010.5,1637.4 L1009.3,1627.0 L1008.1,1628.0 L1006.9,1629.0 L1005.7,1626.5 L1004.5,1630.7 L1003.3,1621.4 L1002.1,1626.4 L1000.9,1613.6 L999.7,1616.5 L998.5,1615.6 L996.5,1620.0 L995.2,1671.1 L994.0,1720.0 L992.5,1742.4 L991.1,1768.9 L989.9,1775.4 L988.7,1770.7 L987.5,1767.8 L986.2,1774.6 L985.0,1775.7 L983.8,1773.5 L982.6,1772.0 L981.4,1779.4 L980.2,1771.1 L978.9,1773.6 L977.7,1779.9 L976.5,1784.5 L975.3,1780.9 L974.1,1778.2 L972.9,1776.4 L971.7,1784.4 L970.4,1779.5 L969.2,1788.3 L968.0,1780.4 L966.8,1790.0 L965.6,1790.7 L964.4,1781.9 L963.2,1791.5 L961.9,1786.2 L960.7,1789.4 L959.5,1788.4 L958.3,1794.0 L957.1,1792.8 L955.9,1794.5 L954.6,1791.7 L953.4,1798.7 L952.2,1800.0 L951.0,1797.0 L949.8,1748.8 L948.5,1690.0 L947.1,1688.7 L945.8,1677.6 L944.4,1671.1 L943.2,1670.4 L941.9,1663.8 L940.7,1661.0 L939.5,1667.5 L938.2,1664.5 L937.0,1664.9 L935.8,1659.4 L934.5,1657.7 L933.3,1650.8 L932.1,1657.5 L930.8,1649.1 L929.6,1645.6 L928.4,1653.4 L927.1,1645.2 L925.9,1651.8 L924.7,1644.0 L923.4,1647.7 L922.2,1641.6 L921.0,1635.0 L919.7,1634.7 L918.5,1634.6 L917.3,1629.1 L916.0,1636.9 L914.8,1627.2 L913.6,1624.3 L912.3,1625.3 L911.1,1626.7 L909.9,1630.5 L908.7,1635.4 L907.5,1640.0 L905.8,1676.8 L904.0,1720.0 L902.2,1762.2 L901.0,1765.0 L899.8,1762.8 L898.5,1765.9 L897.3,1771.2 L896.1,1765.1 L894.9,1772.8 L893.7,1766.4 L892.5,1771.9 L891.2,1767.7 L890.0,1772.5 L888.8,1771.9 L887.6,1779.3 L886.4,1774.3 L885.1,1781.4 L883.9,1781.6 L882.7,1782.0 L881.5,1777.3 L880.3,1774.8 L879.1,1775.8 L877.8,1785.6 L876.6,1779.5 L875.4,1785.8 L874.2,1782.6 L873.0,1786.3 L871.7,1788.6 L870.5,1785.7 L869.3,1783.9 L868.1,1794.9 L866.9,1785.7 L865.7,1791.4 L864.4,1797.3 L863.2,1797.1 L862.0,1795.6 L860.8,1741.8 L859.5,1690.0 L858.2,1676.4 L856.9,1667.4 L855.6,1664.4 L854.4,1662.7 L853.1,1661.4 L851.9,1657.8 L850.7,1657.8 L849.5,1657.8 L848.2,1651.4 L847.0,1650.6 L845.8,1650.9 L844.6,1646.2 L843.3,1654.5 L842.1,1654.4 L840.9,1641.4 L839.6,1641.0 L838.4,1643.7 L837.2,1638.7 L836.0,1637.9 L834.7,1634.4 L833.5,1632.7 L832.3,1631.0 L831.0,1639.2 L829.8,1638.5 L828.6,1628.4 L827.4,1629.7 L826.1,1627.8 L824.9,1622.8 L823.7,1630.1 L822.5,1620.3 L821.2,1623.1 L820.0,1622.2 L818.8,1626.1 L817.5,1630.0 L815.8,1676.3 L814.0,1720.0 L812.5,1739.9 L811.1,1760.0 L809.9,1756.9 L808.7,1768.0 L807.5,1762.2 L806.3,1762.2 L805.1,1766.6 L803.8,1766.6 L802.6,1770.1 L801.4,1772.4 L800.2,1767.5 L799.0,1772.4 L797.8,1774.6 L796.6,1775.7 L795.4,1772.2 L794.2,1774.3 L793.0,1782.3 L791.8,1780.4 L790.5,1783.8 L789.3,1783.1 L788.1,1786.7 L786.9,1783.8 L785.7,1788.3 L784.5,1788.4 L783.3,1785.0 L782.1,1783.4 L780.9,1785.2 L779.7,1791.3 L778.5,1793.4 L777.3,1792.5 L776.0,1794.6 L774.8,1795.3 L773.6,1798.9 L772.4,1795.7 L771.2,1794.2 L770.0,1800.0 L769.0,1690.0 L766.7,1666.7 L765.5,1662.2 L764.2,1661.8 L763.0,1658.7 L761.8,1663.3 L760.6,1663.1 L759.3,1655.5 L758.1,1661.1 L756.9,1650.8 L755.7,1647.9 L754.4,1647.8 L753.2,1653.3 L752.0,1654.6 L750.7,1644.1 L749.5,1651.5 L748.3,1646.0 L747.1,1642.1 L745.8,1641.8 L744.6,1644.5 L743.4,1643.7 L742.1,1641.6 L740.9,1640.7 L739.7,1638.4 L738.5,1627.9 L737.2,1628.2 L736.0,1627.3 L734.8,1629.5 L733.6,1632.0 L732.3,1625.5 L731.1,1624.4 L729.9,1632.1 L728.7,1634.1 L727.5,1640.0 L725.8,1676.5 L724.0,1720.0 L722.0,1768.9 L720.7,1764.4 L719.4,1770.1 L718.1,1772.8 L716.8,1775.1 L715.5,1766.6 L714.1,1772.4 L712.8,1766.2 L711.5,1771.3 L710.2,1767.8 L708.9,1771.1 L707.7,1774.6 L706.4,1769.2 L705.2,1775.8 L704.0,1780.3 L702.7,1782.7 L701.5,1784.3 L700.3,1778.7 L699.0,1780.8 L697.8,1781.9 L696.6,1779.4 L695.3,1781.6 L694.1,1789.1 L692.8,1782.6 L691.6,1787.6 L690.4,1786.8 L689.1,1787.7 L687.9,1791.3 L686.7,1789.9 L685.4,1800.2 L684.2,1792.7 L683.0,1792.1 L681.7,1799.7 L680.5,1800.0 L679.5,1700.0 L678.2,1686.1 L676.9,1681.6 L675.6,1666.7 L674.4,1669.2 L673.1,1666.1 L671.9,1666.2 L670.6,1664.5 L669.4,1664.1 L668.1,1662.4 L666.9,1657.3 L665.6,1653.8 L664.4,1653.3 L663.2,1655.7 L661.9,1646.4 L660.7,1652.6 L659.5,1649.2 L658.2,1639.9 L657.0,1639.6 L655.8,1643.1 L654.5,1640.5 L653.3,1642.4 L652.1,1640.1 L650.8,1634.9 L649.6,1635.7 L648.4,1626.1 L647.1,1627.2 L645.9,1623.6 L644.7,1620.0 L643.4,1622.6 L642.2,1622.2 L640.6,1626.2 L639.1,1627.8 L637.5,1630.0 L636.2,1666.4 L635.0,1700.0 L634.4,1762.2 L633.1,1767.4 L631.8,1770.6 L630.5,1761.8 L629.2,1766.8 L627.9,1769.5 L626.5,1774.0 L625.2,1766.5 L623.9,1776.1 L622.6,1771.1 L621.3,1771.4 L620.0,1775.6 L618.8,1775.1 L617.5,1779.8 L616.3,1775.3 L615.0,1776.5 L613.8,1777.9 L612.6,1780.1 L611.3,1778.8 L610.1,1787.4 L608.8,1789.8 L607.6,1785.6 L606.4,1788.5 L605.1,1789.6 L603.9,1793.2 L602.7,1785.0 L601.4,1796.4 L600.2,1797.8 L598.9,1793.5 L597.7,1794.9 L596.5,1792.7 L595.2,1797.9 L594.0,1795.1 L592.7,1800.1 L591.5,1800.0 L590.0,1690.0 L588.7,1692.3 L587.4,1689.8 L586.1,1683.9 L584.8,1677.3 L583.5,1672.9 L582.2,1675.6 L580.9,1662.8 L579.6,1661.8 L578.2,1657.1 L576.9,1647.5 L575.6,1637.8 L574.4,1641.6 L573.1,1635.8 L571.9,1635.8 L570.6,1632.7 L569.4,1630.9 L568.2,1634.3 L566.9,1633.8 L565.7,1632.8 L564.5,1628.5 L563.2,1621.2 L562.0,1623.1 L560.7,1627.2 L559.5,1621.0 L558.3,1622.1 L557.0,1623.2 L555.8,1621.3 L554.5,1613.7 L553.3,1615.6 L551.8,1619.6 L550.4,1622.9 L549.0,1634.9 L547.5,1640.0 L546.5,1700.0 L545.5,1753.3 L544.3,1759.3 L543.1,1753.1 L541.9,1760.8 L540.6,1764.0 L539.4,1755.4 L538.2,1759.4 L537.0,1763.8 L535.8,1767.0 L534.6,1769.9 L533.4,1772.1 L532.1,1773.9 L530.9,1767.2 L529.7,1768.4 L528.5,1773.4 L527.3,1775.0 L526.1,1772.9 L524.9,1781.8 L523.6,1776.3 L522.4,1782.0 L521.2,1780.5 L520.0,1782.2 L518.8,1786.5 L517.5,1780.1 L516.3,1780.0 L515.1,1789.4 L513.8,1794.0 L512.6,1793.6 L511.4,1784.6 L510.1,1788.5 L508.9,1787.4 L507.7,1794.5 L506.4,1793.0 L505.2,1793.9 L504.0,1793.0 L502.7,1799.0 L501.5,1800.0 L500.5,1680.0 L499.1,1658.9 L497.8,1648.9 L496.6,1644.5 L495.3,1646.8 L494.1,1642.1 L492.9,1639.5 L491.6,1641.0 L490.4,1639.2 L489.2,1632.1 L487.9,1625.8 L486.7,1626.7 L485.5,1625.5 L484.3,1629.8 L483.1,1621.9 L481.8,1622.1 L480.6,1628.1 L479.4,1628.7 L478.2,1618.1 L477.0,1626.9 L475.8,1618.9 L474.6,1620.1 L473.4,1619.3 L472.1,1621.7 L470.9,1620.4 L469.7,1623.2 L468.5,1618.3 L467.3,1624.3 L466.1,1615.5 L464.9,1623.6 L463.6,1614.1 L462.4,1613.8 L461.2,1618.1 L460.0,1617.8 L458.5,1628.0 L457.0,1640.0 L455.5,1700.0 L453.3,1764.4 L452.1,1766.3 L450.9,1764.0 L449.7,1767.4 L448.5,1762.6 L447.3,1769.6 L446.0,1770.3 L444.8,1765.3 L443.6,1765.9 L442.4,1774.6 L441.2,1766.1 L440.0,1771.1 L438.8,1777.1 L437.5,1771.4 L436.2,1775.4 L435.0,1772.7 L433.8,1775.9 L432.5,1776.1 L431.2,1783.7 L430.0,1779.4 L428.8,1786.6 L427.5,1783.0 L426.2,1791.5 L425.0,1790.5 L423.8,1785.7 L422.5,1789.0 L421.2,1788.8 L420.0,1789.2 L418.8,1788.0 L417.5,1796.9 L416.2,1799.1 L415.0,1802.3 L413.8,1802.2 L412.5,1800.0 L411.0,1660.0 L409.6,1655.1 L408.1,1652.2 L406.7,1644.4 L405.5,1647.9 L404.2,1646.5 L403.0,1634.9 L401.7,1633.8 L400.5,1639.2 L399.3,1638.6 L398.0,1634.1 L396.8,1636.5 L395.5,1633.4 L394.3,1627.8 L393.1,1634.0 L391.8,1633.2 L390.6,1631.9 L389.4,1630.1 L388.1,1619.1 L386.9,1623.3 L385.6,1616.8 L384.4,1620.0 L383.1,1617.1 L381.8,1616.8 L380.5,1613.3 L379.3,1617.0 L378.0,1611.5 L376.7,1604.7 L375.4,1608.4 L374.1,1603.2 L372.9,1599.0 L371.6,1601.2 L370.3,1601.1 L369.0,1597.8 L367.0,1620.0 L365.5,1720.0 L363.9,1739.7 L362.2,1751.1 L361.0,1746.9 L359.7,1748.4 L358.5,1752.3 L357.3,1752.4 L356.0,1746.2 L354.8,1745.6 L353.6,1753.4 L352.3,1746.8 L351.1,1751.5 L349.9,1744.7 L348.6,1746.7 L347.4,1747.1 L346.2,1747.3 L346.7,1750.5 L345.5,1795.6 L344.3,1750.5 L344.9,1753.3 L343.7,1748.3 L342.5,1744.8 L341.2,1750.7 L340.0,1745.1 L338.8,1749.5 L337.5,1752.1 L336.3,1749.7 L335.1,1748.0 L333.8,1750.3 L332.6,1747.2 L331.4,1743.9 L330.1,1754.3 L328.9,1748.3 L327.7,1747.6 L326.4,1749.5 L325.2,1743.9 L325.2,1748.9 L324.0,1786.7 L322.8,1748.9 L324.0,1749.0 L322.7,1754.6 L321.5,1745.0 L320.3,1753.6 L319.0,1749.7 L317.8,1748.9 L316.6,1746.8 L315.4,1745.4 L314.2,1745.2 L313.0,1754.6 L311.8,1752.2 L310.6,1746.6 L309.4,1745.2 L308.2,1751.3 L307.0,1752.1 L305.8,1751.5 L304.6,1753.3 L303.4,1752.6 L302.2,1755.4 L301.0,1752.4 L299.8,1754.9 L298.6,1745.0 L297.4,1748.3 L296.2,1755.0 L294.9,1755.3 L293.7,1749.8 L292.5,1745.9 L291.3,1755.4 L290.1,1746.1 L288.9,1746.4 L287.7,1746.0 L286.5,1748.1 L285.3,1755.0 L284.1,1747.0 L282.9,1750.7 L281.7,1747.5 L280.5,1749.0 L279.3,1747.7 L278.1,1753.0 L278.2,1757.1 L277.0,1769.0 L275.8,1757.1 L276.9,1757.5 L275.7,1754.0 L274.5,1751.0 L273.3,1753.3 L272.1,1758.9 L270.9,1755.3 L269.7,1753.4 L268.5,1757.6 L267.3,1758.4 L266.1,1751.2 L264.9,1755.5 L263.7,1753.2 L262.5,1758.5 L261.3,1757.0 L260.1,1757.7 L258.9,1759.9 L257.7,1757.7 L256.5,1756.8 L255.3,1759.8 L254.1,1755.3 L252.9,1755.2 L251.7,1755.7 L250.5,1755.9 L249.3,1761.1 L248.1,1754.9 L246.9,1752.4 L245.7,1755.9 L244.5,1754.4 L243.3,1754.2 L242.1,1756.5 L240.9,1759.2 L239.7,1761.2 L238.5,1761.4 L237.3,1762.8 L236.1,1751.3 L234.9,1751.9 L233.7,1755.9 L232.5,1762.9 L231.3,1760.5 L232.2,1758.9 L231.0,1780.0 L229.8,1758.9 L230.1,1754.1 L228.9,1757.8 L227.7,1754.5 L226.5,1752.3 L225.3,1755.2 L224.1,1756.5 L222.9,1759.4 L221.7,1764.2 L220.5,1757.2 L219.3,1757.1 L218.1,1762.8 L216.9,1757.4 L215.7,1758.9 L214.5,1754.1 L213.3,1763.9 L212.1,1765.5 L210.9,1760.2 L209.7,1762.4 L208.5,1760.5 L207.3,1762.5 L206.0,1767.0 L204.8,1755.7 L203.6,1767.4 L202.4,1755.9 L201.2,1763.6 L200.0,1762.2 L198.8,1766.7 L197.6,1758.8 L196.4,1763.6 L195.2,1766.2 L194.0,1763.8 L192.8,1762.7 L191.6,1759.1 L190.4,1769.1 L189.2,1765.4 L188.0,1768.5 L186.8,1769.7 L185.6,1770.2 L184.4,1764.4 L183.2,1768.9 L182.0,1770.1 L180.8,1762.3 L179.6,1758.8 L178.4,1769.0 L177.2,1763.3 L176.0,1768.0 L174.8,1760.2 L173.6,1762.4 L172.4,1762.0 L171.2,1763.0 L172.2,1762.9 L171.0,1782.0 L169.8,1762.9 L170.0,1762.4 L168.8,1763.7 L167.6,1770.3 L166.4,1770.6 L165.2,1766.4 L163.9,1768.3 L162.7,1769.8 L161.5,1763.7 L160.3,1767.2 L159.1,1764.1 L157.9,1770.9 L156.7,1763.4 L155.5,1768.2 L154.3,1767.7 L153.1,1769.6 L151.9,1766.2 L150.7,1767.6 L149.5,1762.2 L148.3,1768.6 L147.1,1765.3 L145.9,1766.8 L144.7,1763.7 L143.5,1766.7 Z" fill="#9173f5" fill-opacity="0.5"/>
<line x1="143" y1="65.8" x2="143" y2="820.6" stroke="#000" stroke-width="5.5"/>
<line x1="133.5" y1="68.4" x2="143" y2="68.4" stroke="#000" stroke-width="5"/>
<line x1="133.5" y1="316.1" x2="143" y2="316.1" stroke="#000" stroke-width="5"/>
<line x1="133.5" y1="563.9" x2="143" y2="563.9" stroke="#000" stroke-width="5"/>
<line x1="133.5" y1="811.6" x2="143" y2="811.6" stroke="#000" stroke-width="5"/>
<line x1="1220" y1="65.8" x2="1220" y2="814.1" stroke="#000" stroke-width="5.5"/>
<line x1="1220" y1="68.4" x2="1233" y2="68.4" stroke="#000" stroke-width="5"/>
<line x1="1220" y1="254.2" x2="1233" y2="254.2" stroke="#000" stroke-width="5"/>
<line x1="1220" y1="440.0" x2="1233" y2="440.0" stroke="#000" stroke-width="5"/>
<line x1="1220" y1="625.8" x2="1233" y2="625.8" stroke="#000" stroke-width="5"/>
<line x1="1220" y1="811.6" x2="1233" y2="811.6" stroke="#000" stroke-width="5"/>
<line x1="140.3" y1="811.6" x2="1222.7" y2="811.6" stroke="#000" stroke-width="5"/>
<line x1="367.6" y1="811.6" x2="367.6" y2="820.6" stroke="#000" stroke-width="5.5"/>
<line x1="591.9" y1="811.6" x2="591.9" y2="820.6" stroke="#000" stroke-width="5.5"/>
<line x1="816.2" y1="811.6" x2="816.2" y2="820.6" stroke="#000" stroke-width="5.5"/>
<line x1="1040.5" y1="811.6" x2="1040.5" y2="820.6" stroke="#000" stroke-width="5.5"/>
<text x="129.3" y="80.2" text-anchor="end" font-size="33.5" font-family="Liberation Sans" fill="#000">300</text>
<text x="129.3" y="327.9" text-anchor="end" font-size="33.5" font-family="Liberation Sans" fill="#000">200</text>
<text x="129.3" y="575.7" text-anchor="end" font-size="33.5" font-family="Liberation Sans" fill="#000">100</text>
<text x="129.3" y="823.4" text-anchor="end" font-size="33.5" font-family="Liberation Sans" fill="#000">0</text>
<text x="1233" y="80.2" font-size="33.5" font-family="Liberation Sans" fill="#000">100</text>
<text x="1233" y="266.0" font-size="33.5" font-family="Liberation Sans" fill="#000">75</text>
<text x="1233" y="451.8" font-size="33.5" font-family="Liberation Sans" fill="#000">50</text>
<text x="1233" y="637.6" font-size="33.5" font-family="Liberation Sans" fill="#000">25</text>
<text x="1233" y="823.4" font-size="33.5" font-family="Liberation Sans" fill="#000">0</text>
<text x="143.3" y="851.6" text-anchor="middle" font-size="33.5" font-family="Liberation Sans" fill="#000">0</text>
<text x="367.6" y="851.6" text-anchor="middle" font-size="33.5" font-family="Liberation Sans" fill="#000">5</text>
<text x="591.9" y="851.6" text-anchor="middle" font-size="33.5" font-family="Liberation Sans" fill="#000">10</text>
<text x="816.2" y="851.6" text-anchor="middle" font-size="33.5" font-family="Liberation Sans" fill="#000">15</text>
<text x="1040.5" y="851.6" text-anchor="middle" font-size="33.5" font-family="Liberation Sans" fill="#000">20</text>
<text x="682.6" y="904.0" text-anchor="middle" font-size="34.2" font-family="Liberation Sans" fill="#000">Time (minutes)</text>
<g transform="translate(50.5,608.5) rotate(-90) scale(0.937,1)"><text x="0" y="0" font-size="32" font-family="Liberation Sans" fill="#000" xml:space="preserve">Power Output  (% of W<tspan font-size="23" dy="10">max</tspan><tspan dy="-10">)</tspan></text></g>
<g transform="translate(1323,291.5) rotate(90) scale(0.939,1)"><text x="0" y="0" font-size="32" font-family="Liberation Sans" fill="#000" xml:space="preserve">Heart Rate (%HR<tspan font-size="23" dy="9">max</tspan><tspan dy="-9">)</tspan></text></g>
<line x1="429.0" y1="35.6" x2="467.3" y2="35.6" stroke="#1a1ef8" stroke-width="5.4" stroke-linecap="round"/>
<text x="487.8" y="47.8" font-size="34.5" font-family="Liberation Sans" fill="#000">Power Output</text>
<line x1="777.8" y1="37.0" x2="816.0" y2="37.0" stroke="#e8302a" stroke-width="6.5" stroke-linecap="round"/>
<text x="836.8" y="49.9" font-size="34.6" font-family="Liberation Sans" fill="#000">Heart Rate</text>
<line x1="143" y1="1058.6" x2="143" y2="1813.4" stroke="#000" stroke-width="5.5"/>
<line x1="133.5" y1="1061.2" x2="143" y2="1061.2" stroke="#000" stroke-width="5"/>
<line x1="133.5" y1="1308.9" x2="143" y2="1308.9" stroke="#000" stroke-width="5"/>
<line x1="133.5" y1="1556.7" x2="143" y2="1556.7" stroke="#000" stroke-width="5"/>
<line x1="133.5" y1="1804.4" x2="143" y2="1804.4" stroke="#000" stroke-width="5"/>
<line x1="1220" y1="1058.6" x2="1220" y2="1806.9" stroke="#000" stroke-width="5.5"/>
<line x1="1220" y1="1061.2" x2="1233" y2="1061.2" stroke="#000" stroke-width="5"/>
<line x1="1220" y1="1247.0" x2="1233" y2="1247.0" stroke="#000" stroke-width="5"/>
<line x1="1220" y1="1432.8" x2="1233" y2="1432.8" stroke="#000" stroke-width="5"/>
<line x1="1220" y1="1618.6" x2="1233" y2="1618.6" stroke="#000" stroke-width="5"/>
<line x1="1220" y1="1804.4" x2="1233" y2="1804.4" stroke="#000" stroke-width="5"/>
<line x1="140.3" y1="1804.4" x2="1222.7" y2="1804.4" stroke="#000" stroke-width="5"/>
<line x1="367.6" y1="1804.4" x2="367.6" y2="1813.4" stroke="#000" stroke-width="5.5"/>
<line x1="591.9" y1="1804.4" x2="591.9" y2="1813.4" stroke="#000" stroke-width="5.5"/>
<line x1="816.2" y1="1804.4" x2="816.2" y2="1813.4" stroke="#000" stroke-width="5.5"/>
<line x1="1040.5" y1="1804.4" x2="1040.5" y2="1813.4" stroke="#000" stroke-width="5.5"/>
<text x="129.3" y="1073.0" text-anchor="end" font-size="33.5" font-family="Liberation Sans" fill="#000">300</text>
<text x="129.3" y="1320.7" text-anchor="end" font-size="33.5" font-family="Liberation Sans" fill="#000">200</text>
<text x="129.3" y="1568.5" text-anchor="end" font-size="33.5" font-family="Liberation Sans" fill="#000">100</text>
<text x="129.3" y="1816.2" text-anchor="end" font-size="33.5" font-family="Liberation Sans" fill="#000">0</text>
<text x="1233" y="1073.0" font-size="33.5" font-family="Liberation Sans" fill="#000">100</text>
<text x="1233" y="1258.8" font-size="33.5" font-family="Liberation Sans" fill="#000">75</text>
<text x="1233" y="1444.6" font-size="33.5" font-family="Liberation Sans" fill="#000">50</text>
<text x="1233" y="1630.4" font-size="33.5" font-family="Liberation Sans" fill="#000">25</text>
<text x="1233" y="1816.2" font-size="33.5" font-family="Liberation Sans" fill="#000">0</text>
<text x="143.3" y="1842.9" text-anchor="middle" font-size="33.5" font-family="Liberation Sans" fill="#000">0</text>
<text x="367.6" y="1842.9" text-anchor="middle" font-size="33.5" font-family="Liberation Sans" fill="#000">5</text>
<text x="591.9" y="1842.9" text-anchor="middle" font-size="33.5" font-family="Liberation Sans" fill="#000">10</text>
<text x="816.2" y="1842.9" text-anchor="middle" font-size="33.5" font-family="Liberation Sans" fill="#000">15</text>
<text x="1040.5" y="1842.9" text-anchor="middle" font-size="33.5" font-family="Liberation Sans" fill="#000">20</text>
<text x="682.6" y="1891.0" text-anchor="middle" font-size="34.2" font-family="Liberation Sans" fill="#000">Time (minutes)</text>
<g transform="translate(50.5,1601.3) rotate(-90) scale(0.937,1)"><text x="0" y="0" font-size="32" font-family="Liberation Sans" fill="#000" xml:space="preserve">Power Output  (% of W<tspan font-size="23" dy="10">max</tspan><tspan dy="-10">)</tspan></text></g>
<g transform="translate(1323,1284.3) rotate(90) scale(0.939,1)"><text x="0" y="0" font-size="32" font-family="Liberation Sans" fill="#000" xml:space="preserve">Heart Rate (%HR<tspan font-size="23" dy="9">max</tspan><tspan dy="-9">)</tspan></text></g>
<line x1="427.5" y1="1036.5" x2="465.8" y2="1036.5" stroke="#1a1ef8" stroke-width="5.4" stroke-linecap="round"/>
<text x="486.3" y="1048.7" font-size="34.5" font-family="Liberation Sans" fill="#000">Power Output</text>
<line x1="776.3" y1="1037.9" x2="814.5" y2="1037.9" stroke="#e8302a" stroke-width="6.5" stroke-linecap="round"/>
<text x="835.3" y="1050.8" font-size="34.6" font-family="Liberation Sans" fill="#000">Heart Rate</text>
<path d="M143.5,344.4 L145.9,340.9 L148.3,341.3 L150.6,341.0 L153.0,339.3 L155.4,334.8 L157.7,333.3 L159.9,329.7 L162.2,331.8 L164.4,329.6 L166.7,328.5 L168.9,327.0 L171.2,327.1 L173.4,327.2 L175.7,325.1 L177.9,323.6 L180.2,321.1 L182.4,322.3 L184.6,318.7 L186.8,318.4 L189.0,317.6 L191.2,320.8 L193.4,318.9 L195.6,315.1 L197.8,316.5 L199.9,315.4 L202.1,316.4 L204.2,319.0 L206.3,317.7 L208.5,318.3 L210.6,317.3 L212.7,317.6 L214.9,316.7 L217.0,319.4 L219.1,319.1 L221.3,317.0 L223.4,316.7 L225.6,314.9 L227.7,311.0 L229.9,310.1 L232.0,309.1 L234.2,310.3 L236.3,307.8 L238.4,307.0 L240.4,309.5 L242.5,309.0 L244.6,308.1 L246.6,306.9 L248.7,307.2 L250.8,305.3 L252.8,303.5 L254.9,306.8 L256.9,305.2 L259.0,307.2 L261.1,306.2 L263.1,305.0 L265.2,304.0 L267.3,303.0 L269.4,303.3 L271.5,300.4 L273.6,299.8 L275.7,298.8 L277.8,300.6 L279.8,300.9 L281.9,296.0 L284.0,294.0 L286.1,294.6 L288.2,295.8 L290.3,294.3 L292.5,291.4 L294.7,290.1 L296.9,288.7 L299.1,284.7 L301.3,281.6 L303.5,276.2 L305.7,275.0 L307.9,274.3 L310.0,274.0 L312.2,271.1 L314.4,268.9 L316.5,271.2 L318.7,272.6 L320.8,270.4 L323.0,268.3 L325.1,267.0 L327.3,269.9 L329.4,267.7 L331.6,267.4 L333.7,269.7 L335.9,270.1 L338.0,270.9 L340.2,270.8 L342.3,268.3 L344.4,265.6 L346.5,265.2 L348.7,266.4 L350.8,264.3 L352.9,266.5 L355.0,265.8 L357.1,265.2 L359.3,265.5 L361.4,263.9 L363.5,261.6 L366.0,261.0 L368.5,250.7 L371.0,235.0 L373.9,218.4 L376.7,201.0 L378.9,186.6 L381.1,175.6 L383.3,163.3 L385.5,159.6 L387.8,152.5 L390.0,145.6 L392.2,151.1 L394.4,155.8 L396.7,161.9 L398.9,168.1 L401.1,176.7 L403.3,178.9 L405.6,179.1 L407.8,181.0 L410.0,185.4 L412.2,184.2 L414.5,186.9 L416.7,187.8 L418.7,189.8 L420.7,192.3 L422.8,195.2 L424.8,197.9 L426.8,198.9 L428.8,203.9 L430.8,206.5 L432.8,206.9 L434.9,213.5 L436.9,217.0 L438.9,216.7 L440.9,217.9 L442.9,219.4 L445.0,223.4 L447.0,224.3 L449.0,226.2 L451.0,229.0 L453.0,231.0 L455.0,230.4 L457.1,232.8 L459.1,236.4 L461.1,236.7 L463.3,240.6 L465.6,242.2 L467.8,243.5 L470.0,244.3 L472.2,242.4 L474.5,245.1 L476.7,247.8 L479.0,248.0 L481.1,237.6 L483.3,225.6 L485.5,210.0 L487.8,194.2 L490.0,182.2 L492.2,167.8 L494.4,164.3 L496.6,160.8 L498.9,154.8 L501.1,148.3 L503.3,143.3 L505.5,143.1 L507.7,148.2 L510.0,152.1 L512.2,152.7 L514.4,154.8 L516.6,154.6 L518.9,157.5 L521.1,161.3 L523.3,163.3 L525.5,168.1 L527.8,169.1 L530.0,174.4 L532.2,176.8 L534.4,179.7 L536.7,181.0 L538.9,185.6 L540.9,189.7 L542.9,190.7 L545.0,195.1 L547.0,201.1 L549.0,205.0 L551.0,208.9 L553.0,208.6 L555.0,214.9 L557.1,216.7 L559.1,218.2 L561.1,223.3 L563.3,225.9 L565.5,227.7 L567.8,229.0 L570.0,226.8 L572.2,227.8 L574.2,226.6 L576.2,230.1 L578.2,229.9 L580.2,231.2 L582.2,230.6 L584.2,231.9 L586.2,231.1 L588.2,231.5 L590.2,232.3 L592.2,230.0 L594.4,214.6 L596.7,201.0 L598.9,183.3 L601.1,171.5 L603.4,162.0 L605.6,147.8 L607.8,145.4 L610.0,142.6 L612.2,136.3 L614.4,135.6 L616.6,137.4 L618.9,140.5 L621.1,142.2 L623.3,146.6 L625.6,149.7 L627.8,154.4 L629.8,155.0 L631.8,158.5 L633.8,164.6 L635.8,164.8 L637.8,169.6 L639.8,174.4 L641.8,172.7 L643.8,178.2 L645.8,178.7 L647.8,183.3 L650.0,188.0 L652.2,196.7 L654.4,197.2 L656.7,202.4 L658.9,204.7 L661.1,202.7 L663.3,207.4 L665.6,206.2 L667.8,210.0 L669.8,209.6 L671.8,213.7 L673.8,214.4 L675.8,211.2 L677.8,213.4 L679.8,213.6 L681.8,215.5 L683.8,217.4 L685.8,216.7 L687.8,216.7 L690.0,219.5 L692.2,220.1 L694.4,216.9 L696.7,216.1 L698.9,217.0 L701.1,219.2 L703.3,220.0 L707.0,200.0 L709.5,185.0 L711.9,170.1 L714.4,152.2 L716.6,150.3 L718.9,146.3 L721.1,142.4 L723.3,139.1 L725.6,134.3 L727.8,131.1 L729.8,134.9 L731.9,139.1 L733.9,142.5 L735.9,144.9 L738.0,147.6 L740.0,147.5 L742.0,151.2 L744.1,155.1 L746.1,157.5 L748.1,159.9 L750.2,163.7 L752.2,167.8 L754.3,171.9 L756.4,172.2 L758.5,177.8 L760.6,176.2 L762.6,180.2 L764.7,184.6 L766.8,187.8 L768.9,186.7 L771.0,189.1 L773.1,191.5 L775.2,196.6 L777.2,197.3 L779.3,201.1 L781.4,203.4 L783.5,205.1 L785.6,210.0 L787.7,209.4 L789.7,210.4 L791.8,211.7 L793.8,211.2 L795.9,210.0 L797.9,211.5 L800.0,214.1 L802.1,211.4 L804.1,213.9 L806.2,212.3 L808.2,216.6 L810.3,214.5 L812.3,216.1 L814.4,216.7 L816.7,206.2 L819.0,200.0 L821.2,185.4 L823.4,172.6 L825.6,156.7 L827.8,155.1 L830.0,150.7 L832.2,147.2 L834.5,138.8 L836.7,138.0 L838.9,130.8 L841.1,128.9 L843.1,132.9 L845.1,136.8 L847.2,138.2 L849.2,139.9 L851.2,142.9 L853.2,142.2 L855.2,148.1 L857.2,147.3 L859.3,149.9 L861.3,152.7 L863.3,156.7 L865.4,160.4 L867.5,162.4 L869.6,165.2 L871.6,168.8 L873.7,173.3 L875.8,177.0 L877.9,180.3 L880.0,180.5 L882.1,181.8 L884.2,184.7 L886.3,187.8 L888.4,194.1 L890.4,194.5 L892.5,200.4 L894.6,200.2 L896.7,205.6 L898.9,207.7 L901.1,207.7 L903.3,211.1 L905.5,213.7 L907.8,215.0 L910.0,213.6 L912.2,214.4 L914.4,218.9 L916.6,217.0 L918.9,219.2 L921.1,216.8 L923.3,214.7 L925.6,214.8 L927.8,214.4 L931.0,200.0 L933.9,182.7 L936.7,162.2 L938.8,155.9 L940.8,149.9 L942.9,148.7 L944.9,141.9 L947.0,136.5 L949.0,130.7 L951.1,126.7 L953.2,128.1 L955.3,134.2 L957.4,137.4 L959.5,137.6 L961.6,142.5 L963.7,146.8 L965.8,147.4 L967.9,152.8 L970.0,153.3 L972.0,155.3 L974.0,161.8 L976.0,166.1 L978.0,166.7 L980.0,169.8 L982.0,173.2 L984.0,176.1 L986.0,182.9 L988.0,186.6 L990.0,188.9 L992.0,192.6 L994.0,194.0 L996.1,193.9 L998.1,194.7 L1000.1,197.3 L1002.1,202.1 L1004.1,200.8 L1006.1,204.8 L1008.2,206.1 L1010.2,207.8 L1012.2,211.1 L1014.3,209.5 L1016.3,210.3 L1018.4,207.9 L1020.4,207.0 L1022.5,209.9 L1024.5,209.6 L1026.6,207.1 L1028.6,205.6 L1030.7,206.6 L1032.7,208.2 L1034.8,207.4 L1036.8,205.0 L1038.9,204.4 L1042.0,195.0 L1044.9,178.2 L1047.8,160.0 L1050.0,155.0 L1052.2,152.1 L1054.4,147.0 L1056.7,139.9 L1058.9,138.2 L1061.1,135.3 L1063.3,128.9 L1065.3,131.4 L1067.4,131.7 L1069.4,134.2 L1071.5,136.0 L1073.5,141.4 L1075.5,143.7 L1077.6,143.7 L1079.6,145.5 L1081.7,146.8 L1083.7,150.4 L1085.8,155.7 L1087.8,155.6 L1089.8,159.2 L1091.8,161.8 L1093.9,159.4 L1095.9,164.7 L1097.9,167.2 L1099.9,168.6 L1101.9,166.8 L1103.9,171.7 L1106.0,174.7 L1108.0,175.6 L1110.0,175.6 L1112.0,177.4 L1114.0,177.7 L1116.1,181.6 L1118.1,182.1 L1120.1,181.9 L1122.1,181.8 L1124.1,182.5 L1126.1,187.3 L1128.2,187.3 L1130.2,187.6 L1132.2,191.1 L1134.3,190.4 L1136.4,192.1 L1138.5,195.0 L1140.6,194.3 L1142.7,193.0 L1144.8,196.9 L1146.9,197.5 L1149.0,197.5 L1151.1,197.8 L1155.0,190.0 L1157.0,182.1 L1159.1,169.9 L1161.1,160.0 L1163.3,152.7 L1165.5,144.3 L1167.8,140.5 L1170.0,134.1 L1172.2,129.1 L1174.4,120.0 L1176.6,120.6 L1178.9,124.5 L1181.1,127.5 L1183.4,130.1 L1185.6,133.3 L1187.7,139.8 L1189.9,152.2 L1192.0,160.0 L1194.3,170.1 L1196.7,184.4 L1199.0,186.0" fill="none" stroke="#727272" stroke-width="2" stroke-dasharray="5 2.5" stroke-linejoin="round"/>
<path d="M143.5,467.7 L145.9,465.7 L148.3,461.5 L150.6,459.1 L153.0,458.5 L155.4,454.2 L157.5,452.3 L159.6,452.6 L161.7,450.9 L163.8,451.7 L165.9,451.0 L168.0,450.9 L170.1,447.4 L172.2,448.9 L174.3,448.8 L176.4,445.2 L178.5,446.5 L180.6,448.3 L182.7,448.4 L184.8,448.0 L186.9,447.7 L189.0,446.1 L191.1,447.8 L193.1,444.1 L195.2,446.2 L197.3,447.7 L199.4,443.2 L201.5,445.2 L203.6,444.6 L205.8,445.9 L207.9,440.9 L210.1,441.0 L212.2,441.8 L214.4,437.8 L216.6,435.8 L218.7,437.0 L220.9,435.0 L223.0,436.2 L225.1,436.6 L227.2,434.8 L229.3,431.0 L231.4,433.8 L233.4,431.3 L235.5,431.8 L237.6,432.3 L239.7,433.3 L241.8,431.0 L243.9,428.0 L246.0,429.2 L248.1,428.6 L250.1,428.9 L252.2,429.7 L254.3,426.8 L256.3,427.8 L258.4,425.2 L260.4,429.3 L262.5,424.9 L264.6,426.5 L266.6,424.7 L268.7,424.6 L270.8,425.1 L272.8,424.2 L274.9,425.3 L277.0,423.4 L279.2,423.2 L281.3,423.8 L283.4,425.9 L285.6,422.2 L287.7,420.9 L289.8,419.6 L292.0,423.5 L294.1,421.5 L298.0,432.0 L300.2,432.0 L302.4,430.5 L304.6,425.3 L306.8,424.3 L309.0,423.9 L311.2,421.7 L313.4,419.6 L315.8,423.7 L318.2,424.0 L320.6,429.9 L323.0,431.0 L325.1,430.3 L327.3,428.8 L329.4,427.1 L331.6,424.9 L333.7,421.0 L335.9,419.8 L338.0,420.0 L340.2,416.8 L342.3,417.6 L344.4,416.6 L346.5,413.9 L348.7,415.0 L350.8,413.0 L352.9,413.0 L355.0,410.2 L357.1,408.0 L359.3,409.5 L361.4,409.8 L363.5,407.0 L365.7,405.2 L367.8,403.1 L370.0,405.0 L372.2,396.6 L374.5,387.1 L376.8,377.4 L379.0,366.0 L381.0,345.8 L383.0,321.9 L385.0,300.0 L387.5,283.9 L390.0,263.3 L392.2,268.2 L394.5,270.7 L396.7,274.5 L398.9,277.3 L401.1,278.4 L403.4,278.3 L405.6,283.3 L407.8,285.9 L410.0,288.3 L412.2,288.4 L414.5,292.0 L416.7,297.3 L418.9,299.4 L421.1,301.0 L423.3,307.6 L425.6,311.1 L427.8,312.3 L430.0,318.5 L432.2,319.7 L434.4,327.5 L436.7,329.5 L438.9,334.4 L441.1,339.8 L443.3,338.9 L445.5,344.8 L447.8,345.3 L450.0,351.8 L452.2,355.4 L454.4,356.7 L456.4,359.4 L458.5,361.5 L460.5,362.0 L462.5,364.6 L464.5,365.8 L466.6,369.0 L468.6,370.1 L470.6,374.7 L472.6,376.6 L474.7,378.1 L476.7,381.0 L478.9,381.1 L481.0,383.0 L483.0,378.6 L485.0,370.0 L487.4,340.1 L489.8,307.7 L492.2,272.0 L494.4,266.2 L496.6,258.4 L498.9,252.6 L501.1,250.5 L503.3,243.3 L505.5,247.9 L507.8,251.6 L510.0,260.5 L512.2,262.6 L514.4,268.8 L516.7,273.4 L518.9,278.9 L520.9,279.9 L522.9,283.6 L524.9,288.8 L526.9,290.9 L528.9,295.3 L530.9,294.1 L532.9,296.7 L534.9,301.2 L536.9,305.5 L538.9,307.8 L540.9,310.5 L542.9,312.6 L545.0,318.2 L547.0,322.0 L549.0,324.1 L551.0,324.3 L553.0,329.9 L555.0,332.7 L557.1,336.4 L559.1,339.5 L561.1,341.1 L563.1,343.5 L565.1,344.3 L567.2,348.2 L569.2,350.9 L571.2,353.0 L573.2,351.6 L575.2,352.3 L577.2,353.8 L579.3,358.0 L581.3,361.8 L583.3,361.1 L585.7,359.2 L588.1,358.6 L590.6,358.2 L593.0,357.0 L595.0,348.1 L597.0,340.0 L599.1,316.1 L601.2,291.2 L603.3,267.8 L605.5,256.4 L607.8,246.9 L610.0,234.6 L612.2,221.0 L614.4,229.2 L616.7,232.0 L618.9,235.5 L621.1,240.8 L623.3,246.3 L625.6,254.5 L627.8,258.9 L629.8,261.7 L631.8,267.0 L633.9,273.2 L635.9,275.1 L637.9,277.7 L639.9,284.8 L641.9,290.0 L643.9,289.5 L646.0,296.5 L648.0,302.0 L650.0,303.3 L652.0,305.8 L654.1,308.4 L656.1,310.5 L658.1,313.4 L660.2,319.2 L662.2,321.0 L664.2,323.1 L666.3,326.1 L668.3,331.9 L670.3,335.9 L672.4,335.6 L674.4,338.9 L676.5,338.3 L678.5,338.8 L680.6,342.1 L682.6,344.0 L684.7,341.2 L686.7,340.8 L688.8,342.4 L690.8,345.8 L692.9,347.1 L694.9,348.5 L697.0,346.6 L699.0,344.8 L701.1,347.8 L703.5,345.6 L706.0,349.0 L708.0,340.5 L710.0,330.0 L712.2,304.0 L714.4,278.9 L716.6,266.5 L718.9,256.1 L721.1,244.6 L723.4,237.9 L725.6,225.6 L727.8,230.0 L730.0,234.5 L732.2,237.4 L734.5,243.2 L736.7,246.5 L738.9,254.2 L741.1,256.7 L743.1,263.6 L745.1,267.6 L747.2,271.3 L749.2,276.6 L751.2,278.1 L753.2,283.5 L755.2,291.0 L757.2,295.7 L759.3,297.9 L761.3,302.4 L763.3,307.8 L765.4,308.2 L767.4,309.6 L769.5,316.7 L771.5,316.1 L773.6,321.0 L775.6,320.8 L777.7,324.0 L779.7,327.1 L781.8,327.7 L783.8,330.3 L785.9,332.0 L787.9,333.5 L790.0,338.9 L792.0,338.4 L794.1,341.9 L796.1,340.0 L798.1,341.3 L800.2,341.9 L802.2,343.3 L804.2,342.6 L806.3,342.2 L808.3,344.2 L810.3,348.5 L812.4,347.9 L814.4,347.8 L818.0,347.0 L820.0,338.4 L822.0,330.0 L824.9,300.0 L827.8,272.2 L829.8,263.3 L831.8,251.0 L833.8,243.1 L835.8,233.1 L837.8,223.3 L839.9,223.6 L841.9,228.0 L844.0,230.0 L846.0,230.8 L848.1,235.2 L850.1,236.9 L852.2,241.1 L854.2,242.8 L856.2,249.7 L858.3,253.6 L860.3,256.8 L862.3,262.3 L864.3,267.5 L866.3,269.2 L868.3,273.5 L870.4,279.5 L872.4,280.8 L874.4,285.6 L876.5,288.7 L878.5,292.4 L880.6,295.3 L882.7,299.7 L884.7,304.5 L886.8,308.7 L888.8,310.0 L890.9,312.4 L893.0,318.1 L895.0,321.7 L897.1,323.0 L899.2,327.0 L901.2,329.5 L903.3,334.4 L905.3,334.8 L907.4,334.0 L909.4,333.6 L911.5,334.9 L913.5,334.7 L915.5,336.2 L917.6,337.1 L919.6,337.7 L921.7,341.4 L923.7,341.7 L925.8,339.7 L927.8,341.1 L930.0,342.0 L933.0,320.0 L936.7,273.3 L938.9,265.6 L941.1,254.4 L943.4,242.0 L945.6,234.2 L947.8,223.0 L950.0,215.6 L952.2,219.5 L954.5,228.7 L956.7,232.8 L958.9,240.4 L961.1,243.6 L963.3,248.1 L965.6,252.9 L967.8,260.0 L969.8,262.4 L971.8,269.1 L973.8,272.7 L975.8,278.0 L977.8,280.3 L979.8,286.0 L981.8,290.4 L983.8,290.3 L985.8,296.5 L987.8,300.0 L990.0,300.7 L992.2,304.4 L994.5,306.2 L996.7,311.4 L998.9,312.0 L1001.1,314.2 L1003.4,320.1 L1005.6,322.2 L1007.7,324.0 L1009.7,325.7 L1011.8,326.9 L1013.9,326.7 L1016.0,327.9 L1018.0,326.0 L1020.1,327.0 L1022.2,328.3 L1024.3,328.4 L1026.3,329.3 L1028.4,330.2 L1030.5,331.1 L1032.6,329.5 L1034.6,330.3 L1036.7,333.3 L1040.0,340.0 L1042.0,330.9 L1044.0,320.0 L1047.8,271.1 L1050.0,265.2 L1052.2,254.2 L1054.4,245.1 L1056.7,237.6 L1058.9,233.0 L1061.1,223.6 L1063.3,215.6 L1065.5,222.2 L1067.8,224.3 L1070.0,226.1 L1072.2,233.0 L1074.4,234.4 L1076.7,240.9 L1078.9,244.4 L1080.9,250.9 L1082.9,253.7 L1084.9,257.7 L1086.9,259.5 L1088.9,261.1 L1090.9,265.2 L1092.9,272.3 L1094.9,276.4 L1096.9,279.2 L1098.9,282.2 L1100.9,283.9 L1102.9,287.9 L1105.0,292.9 L1107.0,292.7 L1109.0,299.1 L1111.0,298.6 L1113.0,304.2 L1115.0,304.2 L1117.1,310.9 L1119.1,311.9 L1121.1,315.6 L1123.2,316.8 L1125.2,315.5 L1127.3,319.3 L1129.4,322.7 L1131.4,320.6 L1133.5,323.9 L1135.5,321.9 L1137.6,321.8 L1139.7,325.9 L1141.7,325.6 L1143.8,328.7 L1145.9,326.8 L1147.9,327.7 L1150.0,331.1 L1153.0,332.0 L1155.0,319.6 L1157.0,310.0 L1159.0,284.8 L1161.1,260.0 L1163.3,250.5 L1165.5,241.5 L1167.8,233.1 L1170.0,226.2 L1172.2,216.8 L1174.4,211.1 L1176.6,218.6 L1178.8,224.2 L1181.1,234.0 L1183.3,242.2 L1185.5,243.4 L1187.8,244.1 L1190.0,245.9 L1192.2,251.1 L1194.5,247.2 L1196.7,244.8 L1199.0,240.0" fill="none" stroke="#727272" stroke-width="2" stroke-dasharray="5 2.5" stroke-linejoin="round"/>
<path d="M143.5,708.9 L144.7,709.4 L146.0,708.2 L147.2,708.2 L148.5,705.6 L149.7,703.3 L150.9,709.6 L152.2,709.1 L153.4,711.9 L154.7,706.4 L155.9,710.3 L157.2,705.9 L158.4,711.4 L159.6,701.3 L160.9,702.6 L162.1,708.0 L163.4,703.5 L164.6,704.9 L165.9,708.5 L167.1,700.2 L168.3,698.1 L169.6,697.2 L170.8,704.2 L172.1,707.8 L173.3,702.2 L174.5,698.7 L175.8,701.5 L177.0,700.2 L178.3,700.7 L179.5,704.2 L180.7,704.6 L182.0,700.6 L183.2,698.9 L184.4,703.8 L185.7,697.9 L186.9,695.8 L188.2,697.5 L189.4,699.4 L190.6,693.9 L191.9,699.6 L193.1,694.8 L192.8,691.9 L194.0,665.0 L195.2,691.9 L194.4,690.7 L195.6,695.6 L196.8,697.8 L198.1,699.9 L199.3,700.0 L200.5,700.7 L201.8,689.3 L203.0,700.3 L204.2,699.2 L205.5,699.0 L206.7,688.2 L207.9,696.0 L209.2,690.1 L210.4,698.4 L211.6,690.7 L212.9,688.0 L214.1,694.1 L215.3,695.2 L216.6,693.2 L217.8,691.5 L219.0,687.2 L220.3,694.9 L221.5,686.2 L222.7,692.9 L224.0,686.9 L225.2,691.1 L226.4,692.4 L227.7,688.2 L228.9,691.1 L230.1,694.1 L229.8,689.8 L231.0,680.0 L232.2,689.8 L231.4,688.0 L232.6,695.2 L233.8,689.5 L235.1,692.9 L236.3,690.0 L237.5,688.4 L238.8,685.6 L240.0,691.7 L241.2,684.9 L242.5,689.8 L243.7,689.0 L244.9,687.5 L246.2,687.0 L247.4,689.7 L248.6,694.4 L249.9,693.2 L251.1,687.3 L252.3,690.7 L253.6,691.0 L254.8,692.1 L256.0,690.8 L257.3,684.0 L258.5,684.9 L259.7,692.5 L261.0,686.1 L262.2,688.9 L263.4,689.3 L264.7,682.7 L265.9,688.6 L267.1,684.7 L268.4,681.3 L269.6,680.6 L270.9,682.9 L272.1,685.8 L271.8,687.6 L273.0,672.0 L274.2,687.6 L273.3,688.2 L274.6,679.2 L275.8,684.5 L277.0,682.0 L278.3,684.8 L279.5,685.6 L280.8,677.7 L282.0,679.3 L283.2,686.3 L284.5,683.5 L285.7,677.1 L286.9,681.1 L288.2,678.6 L289.4,675.7 L290.7,678.3 L291.9,679.4 L293.1,680.5 L294.4,682.8 L295.6,677.8 L296.8,674.8 L298.1,683.0 L299.3,675.2 L300.6,678.3 L301.8,674.9 L303.1,675.3 L304.3,677.8 L305.5,678.1 L306.8,669.7 L308.0,668.9 L309.3,672.4 L310.5,671.8 L311.8,673.0 L313.0,673.3 L311.8,673.3 L313.0,664.0 L314.2,673.3 L314.3,679.8 L315.5,673.1 L316.8,673.4 L318.0,676.9 L319.3,676.9 L320.5,678.9 L321.8,681.4 L320.8,680.7 L322.0,664.0 L323.2,680.7 L323.0,677.5 L324.3,686.4 L325.6,686.0 L326.8,688.6 L328.1,685.9 L329.3,683.9 L330.6,691.8 L331.8,694.4 L333.1,695.8 L334.3,694.9 L335.6,693.3 L336.8,688.3 L338.0,689.8 L339.2,694.1 L340.4,685.8 L341.6,688.2 L342.9,688.9 L344.1,693.3 L345.3,683.6 L346.5,686.0 L347.7,689.9 L348.9,681.8 L350.1,685.0 L351.3,689.6 L352.5,685.8 L353.7,688.6 L354.9,682.2 L356.2,687.3 L357.4,680.1 L358.6,685.3 L359.8,686.7 L361.0,677.5 L362.2,682.2 L363.9,673.5 L365.5,670.0 L366.5,109.0 L368.0,109.0 L369.0,160.0 L370.5,198.0 L372.0,240.0 L373.2,255.9 L374.5,257.3 L375.8,272.7 L377.0,285.0 L378.3,293.9 L379.5,286.1 L380.8,299.5 L382.0,291.9 L383.3,300.0 L385.6,368.9 L387.2,402.8 L388.9,435.6 L390.5,500.0 L391.5,580.0 L392.5,700.0 L393.3,724.4 L394.5,724.2 L395.7,727.4 L397.0,723.1 L398.2,725.7 L399.4,730.8 L400.6,722.8 L401.8,732.0 L403.0,722.8 L404.3,724.2 L405.5,725.2 L406.7,728.9 L407.9,728.9 L409.1,725.7 L410.3,727.2 L411.5,721.8 L412.7,724.2 L413.9,720.2 L415.1,721.1 L416.3,727.1 L417.5,725.4 L418.7,723.8 L419.9,718.1 L421.1,726.5 L422.4,718.1 L423.6,724.8 L424.8,720.8 L426.0,726.0 L427.2,716.2 L428.4,718.8 L429.6,714.6 L430.8,724.9 L432.0,720.6 L433.2,716.8 L434.4,714.2 L435.6,717.8 L436.9,722.1 L438.2,715.2 L439.6,712.0 L440.9,715.7 L442.2,715.6 L443.4,713.2 L444.7,717.9 L445.9,708.1 L447.1,715.8 L448.4,716.5 L449.6,705.9 L450.8,712.5 L452.1,712.4 L453.3,712.0 L454.5,712.6 L455.8,707.0 L457.0,708.4 L458.2,707.0 L459.5,704.5 L460.7,700.0 L461.9,704.2 L463.2,703.3 L464.4,702.2 L465.6,698.1 L466.9,700.5 L468.1,700.2 L469.4,693.4 L470.6,689.6 L471.9,689.0 L473.1,689.5 L474.4,682.0 L475.6,682.2 L476.9,678.7 L478.2,669.3 L479.5,660.0 L480.5,129.0 L482.0,129.0 L484.0,200.0 L485.5,247.4 L487.0,290.0 L488.2,310.6 L489.5,328.9 L490.8,329.4 L492.1,342.1 L493.4,350.4 L494.6,353.8 L495.9,361.6 L497.2,358.9 L498.5,368.9 L500.0,412.8 L501.5,457.8 L503.3,580.0 L504.0,731.1 L505.2,733.2 L506.5,735.5 L507.7,724.6 L508.9,725.5 L510.2,725.4 L511.4,725.1 L512.6,729.3 L513.9,726.0 L515.1,731.6 L516.3,728.2 L517.5,727.9 L518.8,729.9 L520.0,728.9 L521.2,718.4 L522.5,722.6 L523.7,724.8 L524.9,725.2 L526.2,726.9 L527.4,718.0 L528.6,721.0 L529.9,725.3 L531.1,720.0 L532.3,716.0 L533.6,714.0 L534.8,718.4 L536.0,715.1 L537.3,713.2 L538.5,717.3 L539.7,719.9 L541.0,719.8 L542.2,722.1 L543.4,714.9 L544.7,714.6 L545.9,721.9 L547.1,711.5 L548.4,717.7 L549.6,712.0 L550.8,719.2 L552.1,711.2 L553.3,715.6 L554.6,718.1 L555.9,710.1 L557.2,716.3 L558.5,711.2 L559.8,711.4 L561.1,703.1 L562.4,707.2 L563.7,705.6 L565.0,702.2 L565.5,669.0 L567.0,669.0 L567.5,700.0 L568.9,699.2 L570.2,701.4 L571.5,701.5 L572.9,705.6 L574.2,707.8 L575.6,702.2 L576.8,703.3 L578.1,696.8 L579.3,689.3 L580.5,692.9 L581.8,694.3 L583.0,682.5 L584.2,678.8 L585.5,676.8 L586.7,677.8 L588.1,663.6 L589.6,659.4 L591.0,650.0 L592.5,177.8 L594.0,178.0 L596.0,260.0 L597.5,296.4 L599.0,340.0 L600.3,349.1 L601.6,353.6 L603.0,357.8 L604.3,358.1 L605.6,362.2 L607.1,371.2 L608.5,383.5 L610.0,391.1 L612.2,462.2 L614.4,580.0 L615.7,655.5 L617.0,733.3 L618.2,733.6 L619.4,727.2 L620.6,732.6 L621.8,732.3 L623.0,727.8 L624.2,726.9 L625.4,729.6 L626.6,734.7 L627.8,735.4 L629.0,731.6 L630.2,726.6 L631.4,726.2 L632.6,732.9 L633.8,724.6 L635.0,728.1 L636.2,729.2 L637.4,723.5 L638.6,730.8 L639.8,722.3 L641.0,730.7 L642.2,724.4 L643.4,726.0 L644.7,723.0 L645.9,722.7 L647.1,725.7 L648.4,724.4 L649.6,713.7 L650.8,716.2 L652.1,711.6 L653.3,715.7 L654.5,718.3 L655.8,713.6 L657.0,714.8 L658.2,709.2 L659.5,708.8 L660.7,709.5 L661.9,707.7 L663.2,712.3 L664.4,708.9 L665.6,711.8 L666.9,705.6 L668.1,711.5 L669.4,705.1 L670.6,710.4 L671.8,708.4 L673.1,705.4 L674.3,708.2 L675.5,707.9 L676.8,700.6 L678.0,708.2 L679.3,701.1 L680.5,697.2 L681.7,707.9 L683.0,707.4 L684.2,702.9 L685.5,695.0 L686.7,700.0 L687.9,692.3 L689.1,699.7 L690.3,696.8 L691.5,696.8 L692.7,696.4 L694.0,690.6 L695.2,691.0 L696.4,683.8 L697.6,682.5 L698.8,683.2 L700.0,680.0 L701.2,662.7 L702.5,650.0 L704.5,197.0 L706.0,197.0 L708.0,280.0 L709.3,316.5 L710.7,353.9 L712.0,384.0 L713.2,399.9 L714.5,421.7 L715.8,436.7 L717.0,450.0 L718.2,464.6 L719.5,479.8 L720.8,500.3 L722.0,520.0 L723.8,551.1 L725.5,580.0 L726.8,656.5 L728.0,731.0 L729.2,726.5 L730.4,732.3 L731.6,727.4 L732.8,727.7 L734.0,724.0 L735.2,730.6 L736.4,724.6 L737.6,723.6 L738.8,731.4 L740.0,724.2 L741.2,729.4 L742.4,720.0 L743.6,724.8 L744.8,726.1 L746.0,726.3 L747.2,722.9 L748.4,718.9 L749.6,722.9 L750.8,726.5 L752.0,719.0 L753.2,719.8 L754.4,722.4 L755.6,720.0 L756.8,717.6 L758.1,720.6 L759.3,717.3 L760.5,713.7 L761.8,716.8 L763.0,711.3 L764.2,710.9 L765.5,714.5 L766.7,712.9 L767.9,717.9 L769.2,708.3 L770.4,711.2 L771.6,713.7 L772.9,712.8 L774.1,712.8 L775.3,711.7 L776.6,715.8 L777.8,706.3 L779.0,709.1 L780.3,703.3 L781.5,711.0 L782.7,707.9 L784.0,712.3 L785.2,701.5 L786.4,706.0 L787.7,702.2 L788.9,704.4 L790.1,702.5 L791.4,707.6 L792.6,698.3 L793.9,696.1 L795.1,698.4 L796.4,695.8 L797.6,700.9 L798.9,699.2 L800.1,692.8 L801.4,698.8 L802.6,690.6 L803.9,687.5 L805.1,687.9 L806.4,691.8 L807.6,693.1 L808.9,688.9 L810.2,684.3 L811.5,670.4 L812.7,665.9 L814.0,660.0 L816.0,219.0 L818.0,219.0 L820.0,300.0 L821.3,333.8 L822.7,361.6 L824.0,390.0 L825.2,405.2 L826.4,409.8 L827.6,429.6 L828.8,434.1 L830.0,450.0 L831.2,461.9 L832.5,484.8 L833.8,504.3 L835.0,520.0 L836.5,551.6 L838.0,580.0 L839.3,630.2 L840.7,676.9 L842.0,731.1 L843.2,731.3 L844.5,729.6 L845.7,723.4 L846.9,726.0 L848.1,726.8 L849.4,730.4 L850.6,732.8 L851.8,732.2 L853.0,726.7 L854.3,723.6 L855.5,729.1 L856.7,727.8 L857.9,729.2 L859.2,720.1 L860.4,728.5 L861.6,723.0 L862.8,723.1 L864.1,717.6 L865.3,725.3 L866.5,715.4 L867.7,721.3 L869.0,723.6 L870.2,721.5 L871.4,713.9 L872.6,722.5 L873.9,720.3 L875.1,721.5 L876.3,718.6 L877.5,719.8 L878.8,710.5 L880.0,713.3 L881.2,709.2 L882.5,708.9 L883.7,711.0 L884.9,706.8 L886.2,714.9 L887.4,713.4 L888.6,706.8 L889.9,705.1 L891.1,703.0 L892.3,703.2 L893.6,703.4 L894.8,703.2 L896.0,707.2 L897.3,698.8 L898.5,704.2 L899.7,706.5 L901.0,699.1 L902.2,703.1 L903.4,698.0 L904.7,704.9 L905.9,699.5 L907.1,697.3 L908.4,703.3 L909.6,697.7 L910.8,695.5 L912.1,692.5 L913.3,695.6 L914.6,688.7 L916.0,688.9 L917.3,683.2 L918.7,691.0 L920.0,684.4 L921.3,682.3 L922.6,674.7 L923.9,663.5 L925.2,655.1 L926.5,650.0 L927.8,419.0 L929.0,193.0 L931.0,193.0 L933.0,290.0 L934.2,313.1 L935.5,342.5 L936.8,370.2 L938.0,400.0 L939.2,412.0 L940.4,420.3 L941.6,436.3 L942.8,448.0 L944.0,460.0 L945.2,473.2 L946.5,495.9 L947.8,517.4 L949.0,530.0 L951.0,580.0 L952.3,635.7 L953.7,685.7 L955.0,737.8 L956.2,734.9 L957.5,740.6 L958.8,735.0 L960.0,742.4 L961.2,735.7 L962.5,734.8 L963.8,741.9 L965.0,735.2 L966.2,736.1 L967.5,741.3 L968.8,737.6 L970.0,737.9 L971.2,744.2 L972.5,743.8 L973.8,745.4 L975.0,740.3 L976.2,738.2 L977.5,740.9 L978.8,738.8 L980.0,740.0 L981.2,744.3 L982.5,734.7 L983.8,740.2 L985.0,738.4 L986.2,731.1 L987.5,735.9 L988.8,733.6 L990.0,733.6 L991.2,728.9 L992.5,723.2 L993.8,726.0 L995.0,730.5 L996.2,728.6 L997.5,720.3 L998.8,723.0 L1000.0,720.0 L1001.2,713.0 L1002.5,719.9 L1003.8,716.9 L1005.0,713.2 L1006.2,710.4 L1007.5,706.7 L1008.8,707.2 L1010.0,708.1 L1011.2,706.7 L1012.5,702.1 L1013.8,707.2 L1015.0,697.6 L1016.2,698.3 L1017.5,698.2 L1018.8,695.5 L1020.0,698.0 L1021.2,701.0 L1022.4,701.8 L1023.6,695.2 L1024.8,692.8 L1026.0,698.1 L1027.2,696.3 L1028.4,694.2 L1029.6,696.7 L1030.8,685.7 L1032.0,690.0 L1033.2,683.1 L1034.4,671.2 L1035.6,671.6 L1036.8,652.8 L1038.0,650.0 L1040.0,193.0 L1042.0,193.0 L1043.5,251.1 L1045.0,300.0 L1046.2,330.0 L1047.5,344.7 L1048.8,379.6 L1050.0,400.0 L1051.2,412.1 L1052.4,428.8 L1053.6,435.6 L1054.8,453.8 L1056.0,460.0 L1057.2,472.8 L1058.5,486.3 L1059.8,506.6 L1061.0,520.0 L1062.0,580.0 L1063.2,616.5 L1064.4,638.7 L1065.6,674.6 L1066.8,700.4 L1068.0,734.0 L1069.2,731.6 L1070.4,733.6 L1071.7,734.6 L1072.9,730.4 L1074.1,734.7 L1075.3,730.5 L1076.6,722.2 L1077.8,728.3 L1079.0,720.4 L1080.2,722.0 L1081.4,724.6 L1082.7,722.2 L1083.9,724.7 L1085.1,720.5 L1086.3,724.4 L1087.6,720.4 L1088.8,720.0 L1090.0,718.0 L1091.2,718.8 L1092.5,716.8 L1093.8,716.5 L1095.0,709.6 L1096.2,710.7 L1097.5,712.0 L1098.8,710.4 L1100.0,709.3 L1101.2,714.7 L1102.5,711.1 L1103.8,707.1 L1105.0,712.4 L1106.2,706.0 L1107.5,706.8 L1108.8,705.0 L1110.0,708.0 L1111.2,709.7 L1112.5,707.1 L1113.7,700.8 L1114.9,708.6 L1116.2,701.8 L1117.4,702.4 L1118.6,700.0 L1119.8,705.5 L1121.1,704.5 L1122.3,700.4 L1123.5,708.9 L1124.8,701.2 L1126.0,702.0 L1127.2,688.1 L1128.5,686.6 L1129.8,673.7 L1131.0,664.0 L1133.0,700.0 L1134.3,697.2 L1135.6,696.5 L1136.9,692.5 L1138.2,689.6 L1139.5,682.5 L1140.8,689.2 L1142.1,683.8 L1143.4,683.4 L1144.7,673.1 L1146.0,676.0 L1147.5,657.7 L1149.0,640.0 L1150.5,357.6 L1152.0,79.0 L1154.0,79.0 L1155.5,184.8 L1157.0,290.0 L1158.2,310.3 L1159.4,323.1 L1160.6,346.8 L1161.8,364.3 L1163.0,380.0 L1164.2,392.4 L1165.5,419.3 L1166.8,434.0 L1168.0,450.0 L1169.2,464.7 L1170.5,489.7 L1171.8,497.0 L1173.0,520.0 L1174.5,560.9 L1176.0,600.0 L1177.3,644.9 L1178.7,684.0 L1180.0,722.0 L1181.3,731.6 L1182.7,731.2 L1184.0,741.0 L1185.3,735.2 L1186.7,749.2 L1188.0,750.0 L1189.3,747.3 L1190.7,753.8 L1192.0,758.9 L1193.3,754.0 L1194.7,759.1 L1196.0,756.0 L1197.5,760.2 L1199.0,760.0" fill="none" stroke="#727272" stroke-width="2" stroke-dasharray="5 2.5" stroke-linejoin="round"/>
<path d="M143.5,775.6 L144.7,779.6 L146.0,769.3 L147.2,774.9 L148.5,776.7 L149.7,777.4 L150.9,779.7 L152.2,770.5 L153.4,774.4 L154.7,775.4 L155.9,772.5 L157.2,778.6 L158.4,773.4 L159.6,768.0 L160.9,774.7 L162.1,775.7 L163.4,775.0 L164.6,772.3 L165.9,771.8 L167.1,776.3 L168.3,774.3 L169.6,774.1 L170.8,775.3 L172.1,766.5 L173.3,771.1 L174.5,773.3 L175.8,775.0 L177.0,773.4 L178.2,775.8 L179.5,769.0 L180.7,773.2 L182.0,773.1 L183.2,772.8 L184.4,769.8 L185.7,769.3 L186.9,774.4 L188.1,765.8 L189.4,766.8 L190.6,764.8 L191.9,772.8 L193.1,772.5 L194.3,766.6 L195.6,767.0 L196.8,771.5 L198.0,769.5 L199.3,766.9 L200.5,772.9 L201.8,767.7 L203.0,762.3 L204.2,765.4 L205.5,765.1 L206.7,766.7 L207.9,762.5 L209.1,768.1 L210.3,767.1 L211.5,768.9 L212.7,771.3 L213.9,762.9 L215.1,763.6 L216.3,767.9 L217.5,769.0 L218.7,768.4 L219.9,760.7 L221.1,769.4 L222.3,762.8 L223.5,760.7 L224.7,771.4 L225.9,761.1 L227.1,771.0 L228.3,762.1 L229.5,762.0 L230.7,770.4 L231.9,768.1 L233.1,770.8 L234.3,759.7 L235.5,767.4 L236.7,764.4 L237.9,762.4 L239.1,764.1 L240.3,768.6 L241.5,764.5 L242.7,770.0 L243.9,770.0 L245.1,766.0 L246.3,760.1 L247.5,760.2 L248.7,765.0 L249.9,768.4 L251.1,764.4 L252.3,770.5 L253.5,767.1 L254.7,758.6 L255.9,769.5 L257.1,765.8 L258.3,760.3 L259.5,767.2 L260.7,770.2 L261.9,762.2 L263.1,765.9 L264.3,766.6 L265.5,766.4 L266.7,763.3 L267.9,765.9 L269.1,770.4 L270.3,766.0 L271.5,761.5 L272.7,766.4 L274.0,768.5 L275.2,760.6 L276.4,770.1 L277.6,765.5 L278.8,762.4 L280.0,762.6 L281.2,760.9 L282.4,770.2 L283.6,769.9 L284.8,765.1 L286.0,772.0 L287.2,762.9 L288.4,760.4 L289.6,770.3 L290.8,769.6 L292.0,762.7 L293.2,764.4 L294.4,761.6 L295.6,766.7 L296.8,767.3 L298.1,767.0 L299.3,768.1 L300.5,770.6 L301.8,770.5 L303.0,764.4 L304.2,765.3 L305.5,762.0 L306.7,767.1 L307.9,764.7 L309.2,768.3 L310.4,763.6 L311.6,764.2 L312.9,767.6 L314.1,761.5 L315.3,762.5 L316.6,766.3 L317.8,767.5 L319.0,760.9 L320.3,764.3 L321.5,764.8 L322.7,764.2 L324.0,760.1 L325.2,767.4 L326.4,767.5 L327.7,762.0 L328.9,765.4 L330.1,768.8 L331.4,767.7 L332.6,758.9 L333.8,762.5 L335.1,761.3 L336.3,769.0 L337.5,766.9 L338.8,767.5 L340.0,764.4 L341.2,758.2 L342.4,766.7 L343.7,759.1 L344.9,759.3 L346.1,762.3 L347.3,763.7 L348.5,759.1 L349.8,766.1 L351.0,764.2 L352.2,766.7 L353.4,756.5 L354.6,760.1 L355.9,758.5 L357.1,758.5 L358.3,754.6 L359.5,764.0 L360.7,754.3 L362.0,753.1 L363.2,752.3 L364.4,757.8 L365.5,740.0 L366.5,700.0 L368.5,520.0 L369.8,473.5 L371.0,420.0 L372.7,441.1 L374.4,453.3 L375.8,460.6 L377.2,468.4 L378.6,478.9 L380.0,491.0 L381.5,506.5 L382.9,525.0 L384.4,540.0 L385.6,573.9 L386.8,616.2 L388.0,650.0 L389.6,731.2 L391.1,806.7 L392.4,810.2 L393.7,808.6 L395.0,804.6 L396.3,805.3 L397.6,801.7 L398.9,795.3 L400.2,789.3 L401.5,790.0 L402.8,797.0 L404.1,792.0 L405.4,792.2 L406.7,786.7 L407.9,781.1 L409.2,789.5 L410.4,783.1 L411.6,782.9 L412.9,784.3 L414.1,788.7 L415.3,786.9 L416.6,789.9 L417.8,777.8 L419.0,782.6 L420.3,784.5 L421.5,782.1 L422.7,781.1 L424.0,786.9 L425.2,781.9 L426.4,777.3 L427.7,779.7 L428.9,779.5 L430.1,777.9 L431.4,775.3 L432.6,783.8 L433.8,781.8 L435.1,784.8 L436.3,781.1 L437.5,778.4 L438.8,783.2 L440.0,777.8 L441.2,779.2 L442.4,782.4 L443.7,782.5 L444.9,777.6 L446.1,774.3 L447.3,775.9 L448.5,782.4 L449.8,776.8 L451.0,776.5 L452.2,774.5 L453.4,781.1 L454.6,771.8 L455.9,782.2 L457.1,773.7 L458.3,774.4 L459.5,775.1 L460.7,776.9 L462.0,778.8 L463.2,780.8 L464.4,777.8 L465.6,777.3 L466.9,779.4 L468.1,771.5 L469.4,778.2 L470.6,777.6 L471.9,771.2 L473.1,781.7 L474.4,777.0 L475.6,775.6 L477.8,788.9 L480.0,760.0 L481.5,600.0 L483.0,480.0 L484.5,474.8 L486.0,470.0 L487.3,477.3 L488.7,491.7 L490.0,502.2 L491.5,521.2 L492.9,534.2 L494.4,546.7 L495.9,576.2 L497.5,613.3 L499.0,650.0 L500.4,708.0 L501.9,751.2 L503.3,808.9 L504.6,808.7 L505.9,809.9 L507.2,806.0 L508.4,803.7 L509.7,794.8 L511.0,796.1 L512.3,793.8 L513.6,792.4 L514.9,795.5 L516.1,789.7 L517.4,784.3 L518.7,783.0 L520.0,786.7 L521.2,785.2 L522.5,785.1 L523.7,786.2 L524.9,782.8 L526.2,788.2 L527.4,789.4 L528.6,788.6 L529.9,788.7 L531.1,781.5 L532.3,782.0 L533.6,786.7 L534.8,777.8 L536.0,786.1 L537.3,784.7 L538.5,778.2 L539.7,774.2 L541.0,780.1 L542.2,775.7 L543.4,775.1 L544.7,777.1 L545.9,776.9 L547.1,780.6 L548.4,779.6 L549.6,780.5 L550.8,779.8 L552.1,774.8 L553.3,775.6 L554.5,774.7 L555.8,775.9 L557.0,778.5 L558.2,778.9 L559.5,780.8 L560.7,785.9 L561.9,780.1 L563.1,783.4 L564.4,779.8 L565.6,784.4 L566.8,784.7 L568.1,784.4 L569.3,785.0 L570.6,781.7 L571.8,777.5 L573.0,779.5 L574.3,778.1 L575.5,776.5 L576.8,784.8 L578.0,781.7 L579.3,784.0 L580.5,783.5 L581.7,774.9 L583.0,774.8 L584.2,776.6 L585.5,775.0 L586.7,775.6 L588.1,769.4 L589.6,760.2 L591.0,760.0 L593.0,600.0 L595.0,480.0 L597.0,473.3 L598.3,487.9 L599.7,496.7 L601.0,502.0 L602.3,511.6 L603.6,517.7 L604.9,529.0 L606.1,536.9 L607.4,543.5 L608.7,556.3 L610.0,562.2 L611.5,603.2 L613.0,650.0 L614.2,701.3 L615.5,759.9 L616.7,808.9 L618.0,809.5 L619.3,801.3 L620.6,800.9 L621.9,801.1 L623.2,794.7 L624.6,799.7 L625.9,796.2 L627.2,791.1 L628.5,788.7 L629.8,785.0 L631.1,786.7 L632.3,782.7 L633.6,786.9 L634.8,786.2 L636.0,789.5 L637.3,788.7 L638.5,787.5 L639.7,785.3 L641.0,780.9 L642.2,783.0 L643.4,788.1 L644.7,786.5 L645.9,785.7 L647.1,787.0 L648.4,786.1 L649.6,778.8 L650.8,786.3 L652.1,786.8 L653.3,781.9 L654.5,781.4 L655.8,784.1 L657.0,783.4 L658.2,784.2 L659.5,778.7 L660.7,783.2 L661.9,777.7 L663.2,777.5 L664.4,777.8 L665.6,777.5 L666.9,778.5 L668.1,771.4 L669.3,773.6 L670.5,780.8 L671.8,770.8 L673.0,780.8 L674.2,781.1 L675.4,775.3 L676.7,780.1 L677.9,780.1 L679.1,773.6 L680.4,778.1 L681.6,771.1 L682.8,773.1 L684.0,770.2 L685.3,771.6 L686.5,779.4 L687.7,775.1 L689.0,771.1 L690.2,768.1 L691.4,777.0 L692.6,777.7 L693.9,778.1 L695.1,766.6 L696.3,775.3 L697.5,769.2 L698.8,767.7 L700.0,771.1 L701.5,765.5 L703.0,760.0 L705.0,620.0 L707.0,520.0 L709.0,500.0 L710.2,507.7 L711.5,525.2 L712.8,525.8 L714.0,540.0 L715.2,546.4 L716.4,552.0 L717.6,566.6 L718.8,571.9 L720.0,580.0 L721.3,603.2 L722.7,631.5 L724.0,650.0 L725.3,701.8 L726.5,751.6 L727.8,802.2 L729.1,805.7 L730.3,801.5 L731.6,804.3 L732.8,800.4 L734.1,800.5 L735.4,797.2 L736.6,791.4 L737.9,796.1 L739.1,798.7 L740.4,796.4 L741.7,797.9 L742.9,788.6 L744.2,795.0 L745.4,785.8 L746.7,788.9 L747.9,782.8 L749.2,782.9 L750.4,784.6 L751.6,784.6 L752.9,791.1 L754.1,787.5 L755.3,791.7 L756.6,785.3 L757.8,782.5 L759.0,783.9 L760.3,782.5 L761.5,789.1 L762.7,790.9 L764.0,786.0 L765.2,785.8 L766.4,785.7 L767.7,787.1 L768.9,788.4 L770.1,788.1 L771.4,783.3 L772.6,783.7 L773.8,783.0 L775.1,779.2 L776.3,777.8 L777.5,786.6 L778.8,781.7 L780.0,782.2 L781.2,778.0 L782.5,776.2 L783.7,775.7 L785.0,780.3 L786.2,781.7 L787.5,785.6 L788.7,783.5 L790.0,778.9 L791.2,780.9 L792.4,773.8 L793.7,775.2 L794.9,778.3 L796.2,779.9 L797.4,780.6 L798.7,783.3 L799.9,776.3 L801.1,776.4 L802.4,773.1 L803.6,774.5 L804.9,773.2 L806.1,780.5 L807.4,777.9 L808.6,779.6 L809.9,770.6 L811.1,775.6 L812.4,770.1 L813.7,767.0 L815.0,760.0 L817.0,620.0 L819.0,530.0 L821.0,500.0 L822.2,509.2 L823.5,525.4 L824.8,532.0 L826.0,550.0 L827.2,559.8 L828.4,567.2 L829.6,575.7 L830.8,576.5 L832.0,590.0 L833.3,613.9 L834.7,635.0 L836.0,660.0 L837.3,704.9 L838.7,762.1 L840.0,804.4 L841.2,803.3 L842.4,804.1 L843.6,800.1 L844.8,803.5 L846.0,793.3 L847.3,795.8 L848.5,797.0 L849.7,789.2 L850.9,787.4 L852.1,790.2 L853.3,788.9 L854.5,789.1 L855.7,792.8 L857.0,789.8 L858.2,784.6 L859.4,785.4 L860.6,791.2 L861.8,782.8 L863.1,784.4 L864.3,784.2 L865.5,787.2 L866.7,788.3 L867.9,781.3 L869.2,784.4 L870.4,789.2 L871.6,786.5 L872.8,788.6 L874.0,788.2 L875.2,784.0 L876.5,780.7 L877.7,781.0 L878.9,783.2 L880.1,787.4 L881.3,779.6 L882.6,785.4 L883.8,778.8 L885.0,778.3 L886.2,775.8 L887.4,779.6 L888.7,784.3 L889.9,779.3 L891.1,780.0 L892.3,781.3 L893.6,774.7 L894.8,777.3 L896.0,779.6 L897.3,773.3 L898.5,776.4 L899.7,782.6 L901.0,773.9 L902.2,782.0 L903.4,780.0 L904.7,775.0 L905.9,774.2 L907.1,779.9 L908.4,778.5 L909.6,775.7 L910.8,781.1 L912.1,777.8 L913.3,782.2 L914.5,775.0 L915.8,776.1 L917.0,780.6 L918.2,774.1 L919.5,779.4 L920.7,779.5 L921.9,777.8 L923.2,777.0 L924.4,775.6 L925.7,772.2 L927.0,760.0 L928.2,686.1 L929.5,620.0 L931.5,540.0 L932.8,530.5 L934.0,510.0 L935.2,526.9 L936.5,533.2 L937.8,541.5 L939.0,560.0 L940.2,574.0 L941.4,580.7 L942.6,585.7 L943.8,597.7 L945.0,600.0 L946.3,615.9 L947.7,637.7 L949.0,660.0 L950.6,731.7 L952.2,806.0 L953.5,800.8 L954.8,799.7 L956.1,806.6 L957.4,801.2 L958.7,798.7 L960.0,797.5 L961.2,799.8 L962.5,798.6 L963.8,793.7 L965.1,788.9 L966.4,790.3 L967.7,788.8 L969.0,790.0 L970.2,785.9 L971.5,790.6 L972.7,794.7 L974.0,790.0 L975.2,783.4 L976.4,784.2 L977.7,793.5 L978.9,793.8 L980.2,786.4 L981.4,787.0 L982.6,784.6 L983.9,789.3 L985.1,791.8 L986.4,787.7 L987.6,788.9 L988.8,780.3 L990.1,790.3 L991.3,786.3 L992.6,779.9 L993.8,783.2 L995.0,787.8 L996.3,781.2 L997.5,788.1 L998.8,785.6 L1000.0,784.0 L1001.2,785.7 L1002.4,788.7 L1003.6,788.9 L1004.8,781.8 L1006.0,779.7 L1007.2,786.3 L1008.4,787.0 L1009.6,781.3 L1010.8,782.9 L1012.0,788.2 L1013.2,780.0 L1014.4,779.2 L1015.6,789.3 L1016.8,778.1 L1018.0,780.5 L1019.2,778.3 L1020.4,783.4 L1021.6,786.3 L1022.8,780.7 L1024.0,779.5 L1025.2,784.0 L1026.4,780.6 L1027.6,784.8 L1028.8,783.1 L1030.0,781.2 L1031.2,787.8 L1032.4,781.2 L1033.6,784.7 L1034.8,778.5 L1036.0,784.0 L1038.0,760.0 L1039.2,694.5 L1040.5,620.0 L1042.5,540.0 L1043.8,526.2 L1045.0,520.0 L1046.2,531.9 L1047.5,545.9 L1048.8,546.7 L1050.0,560.0 L1051.2,572.3 L1052.4,574.8 L1053.6,595.1 L1054.8,601.9 L1056.0,610.0 L1057.3,629.2 L1058.7,637.8 L1060.0,660.0 L1061.3,708.6 L1062.7,761.1 L1064.0,810.0 L1065.2,805.7 L1066.5,810.3 L1067.7,806.6 L1068.9,801.0 L1070.2,807.5 L1071.4,803.4 L1072.6,797.3 L1073.8,797.1 L1075.1,799.6 L1076.3,797.8 L1077.5,794.0 L1078.8,795.4 L1080.0,792.0 L1081.2,786.3 L1082.4,787.9 L1083.6,785.9 L1084.8,792.5 L1086.1,792.5 L1087.3,791.9 L1088.5,790.6 L1089.7,786.6 L1090.9,788.3 L1092.1,786.9 L1093.3,783.1 L1094.5,790.6 L1095.8,782.1 L1097.0,783.4 L1098.2,788.6 L1099.4,789.6 L1100.6,780.0 L1101.8,787.6 L1103.0,780.8 L1104.2,788.5 L1105.5,778.3 L1106.7,788.6 L1107.9,779.6 L1109.1,778.9 L1110.3,785.4 L1111.5,779.0 L1112.7,776.5 L1113.9,777.8 L1115.2,784.9 L1116.4,779.9 L1117.6,778.7 L1118.8,779.2 L1120.0,778.0 L1121.2,772.6 L1122.4,777.5 L1123.7,778.5 L1124.9,769.4 L1126.1,770.9 L1127.3,779.1 L1128.6,773.3 L1129.8,769.8 L1131.0,772.0 L1132.2,774.3 L1133.5,772.7 L1134.8,769.6 L1136.0,781.4 L1137.2,775.2 L1138.5,777.6 L1139.8,777.3 L1141.0,783.7 L1142.2,779.3 L1143.5,780.0 L1144.8,782.4 L1146.0,784.0 L1147.5,777.7 L1149.0,760.0 L1150.8,664.8 L1152.5,560.0 L1154.5,450.0 L1155.8,439.6 L1157.0,440.0 L1158.2,457.7 L1159.5,466.2 L1160.8,473.2 L1162.0,490.0 L1163.2,497.9 L1164.4,512.1 L1165.6,525.2 L1166.8,533.4 L1168.0,540.0 L1169.3,574.8 L1170.7,613.2 L1172.0,650.0 L1173.3,705.3 L1174.7,755.1 L1176.0,806.0 L1177.3,806.6 L1178.5,801.1 L1179.8,802.6 L1181.1,802.3 L1182.4,803.6 L1183.6,809.4 L1184.9,807.9 L1186.2,807.2 L1187.5,808.3 L1188.7,803.8 L1190.0,808.0 L1191.2,800.4 L1192.4,802.2 L1193.6,802.9 L1194.8,789.9 L1196.0,790.0 L1197.5,787.9 L1199.0,785.0" fill="none" stroke="#727272" stroke-width="2" stroke-dasharray="5 2.5" stroke-linejoin="round"/>
<path d="M143.5,408.0 L145.2,406.1 L146.9,403.3 L148.6,403.3 L150.3,401.0 L152.0,399.2 L153.7,397.0 L155.4,396.4 L156.9,395.2 L158.4,393.5 L159.9,392.1 L161.4,391.8 L162.9,391.5 L164.4,389.8 L165.9,389.5 L167.4,388.3 L168.9,387.8 L170.5,388.8 L172.1,387.1 L173.7,388.8 L175.3,388.0 L176.9,387.9 L178.6,386.9 L180.2,388.0 L181.8,387.1 L183.4,387.1 L185.0,386.3 L186.6,386.8 L188.2,387.8 L189.7,388.0 L191.2,388.1 L192.7,387.1 L194.2,384.4 L195.7,385.4 L197.2,385.2 L198.7,384.5 L200.2,382.3 L201.7,382.0 L203.2,380.6 L204.8,380.9 L206.3,382.1 L207.8,381.7 L209.3,381.8 L210.9,380.4 L212.4,380.5 L213.9,380.9 L215.5,381.3 L217.0,380.0 L218.6,380.3 L220.2,377.9 L221.8,378.0 L223.4,375.8 L225.0,375.8 L226.7,374.7 L228.3,372.6 L229.9,372.3 L231.5,371.4 L233.1,371.6 L234.7,368.7 L236.3,368.5 L237.9,367.4 L239.5,369.5 L241.1,369.9 L242.7,368.4 L244.3,368.0 L245.9,368.7 L247.6,368.1 L249.2,368.3 L250.8,367.7 L252.4,369.3 L254.0,368.3 L255.6,369.5 L257.2,370.0 L258.8,370.3 L260.4,369.9 L262.0,369.5 L263.6,368.0 L265.2,368.1 L266.9,368.1 L268.5,367.2 L270.1,365.5 L271.7,366.2 L273.3,365.4 L274.9,365.6 L276.5,365.1 L278.1,364.3 L279.7,365.1 L281.3,363.0 L282.9,363.4 L284.5,363.0 L286.1,362.1 L287.7,360.2 L289.3,359.3 L290.9,360.7 L292.5,359.0 L294.1,358.9 L295.7,356.7 L297.2,355.6 L298.8,355.1 L300.3,354.2 L301.9,351.8 L303.4,350.1 L305.0,350.0 L306.5,348.5 L308.1,348.3 L309.6,347.3 L311.2,348.2 L312.8,346.8 L314.4,347.5 L316.0,347.6 L317.6,348.7 L319.2,349.7 L320.8,348.8 L322.4,348.0 L324.0,349.5 L325.6,347.9 L327.2,348.2 L328.8,349.2 L330.3,347.9 L331.9,346.8 L333.4,347.2 L335.0,346.6 L336.5,345.2 L338.0,344.7 L339.6,344.8 L341.1,343.5 L342.7,341.9 L344.2,342.5 L345.8,341.3 L347.3,340.3 L348.9,340.6 L350.4,339.3 L352.0,338.2 L353.6,339.5 L355.1,338.1 L356.7,337.1 L358.3,337.0 L359.8,337.0 L361.4,336.6 L362.9,336.4 L364.5,334.8 L367.0,332.0 L368.7,317.8 L370.5,303.7 L372.2,290.0 L373.9,278.4 L375.5,267.7 L377.2,256.8 L378.9,245.6 L380.6,238.2 L382.2,229.0 L383.9,221.5 L385.6,214.4 L387.8,209.7 L390.0,204.4 L391.8,206.6 L393.6,211.2 L395.3,214.9 L397.1,217.6 L398.9,221.0 L400.7,224.0 L402.5,226.6 L404.2,230.8 L406.0,233.6 L407.8,236.7 L409.4,237.4 L411.0,237.8 L412.6,239.5 L414.1,242.5 L415.7,243.8 L417.3,245.0 L418.9,245.6 L420.6,250.0 L422.2,251.0 L423.9,254.7 L425.5,257.0 L427.2,260.2 L428.9,262.8 L430.5,266.1 L432.2,270.0 L433.9,273.0 L435.6,275.3 L437.2,277.9 L438.9,278.3 L440.6,280.4 L442.2,283.8 L443.9,284.5 L445.6,287.8 L447.2,288.1 L448.7,289.3 L450.2,292.6 L451.8,293.4 L453.4,295.1 L454.9,295.6 L456.5,297.0 L458.0,299.6 L459.6,302.3 L461.1,303.3 L462.8,304.5 L464.4,305.5 L466.1,306.0 L467.8,307.2 L469.4,308.7 L471.1,310.2 L472.7,312.6 L474.4,314.4 L475.9,314.4 L477.5,316.5 L479.0,316.0 L481.1,302.9 L483.3,290.0 L485.0,277.6 L486.6,262.6 L488.3,249.8 L490.0,236.7 L491.7,228.4 L493.4,220.4 L495.0,211.6 L496.7,203.3 L498.2,201.1 L499.8,199.6 L501.3,196.0 L502.9,194.3 L504.4,192.2 L506.1,195.7 L507.7,199.7 L509.4,201.6 L511.1,205.1 L512.7,207.4 L514.4,212.2 L516.1,214.6 L517.8,218.1 L519.4,219.7 L521.1,223.0 L522.8,225.4 L524.4,226.2 L526.1,229.2 L527.8,232.2 L529.4,233.4 L531.0,236.2 L532.6,240.2 L534.1,241.5 L535.7,244.8 L537.3,246.2 L538.9,250.0 L540.5,251.3 L542.1,256.3 L543.7,257.7 L545.2,260.2 L546.8,265.0 L548.4,266.9 L550.0,270.0 L551.7,271.4 L553.3,273.0 L555.0,276.1 L556.6,277.5 L558.3,279.8 L560.0,282.1 L561.6,285.7 L563.3,287.8 L565.1,287.2 L566.9,288.1 L568.6,287.7 L570.4,289.7 L572.2,288.9 L573.8,291.7 L575.4,292.9 L577.0,294.0 L578.5,294.2 L580.1,295.9 L581.7,296.5 L583.3,296.7 L584.9,296.4 L586.5,297.5 L588.1,298.4 L589.8,296.7 L591.4,296.6 L593.0,298.0 L594.9,283.2 L596.7,267.8 L598.4,256.4 L600.0,243.8 L601.6,230.3 L603.3,218.9 L605.0,209.1 L606.6,200.0 L608.3,193.0 L610.0,183.3 L612.2,180.7 L614.4,178.9 L616.1,181.2 L617.8,184.7 L619.4,187.8 L621.1,190.0 L622.7,193.2 L624.3,196.3 L625.9,199.8 L627.4,203.0 L629.0,203.9 L630.6,205.7 L632.2,210.0 L634.0,213.7 L635.8,217.5 L637.5,219.5 L639.3,222.3 L641.1,225.6 L642.7,229.5 L644.3,232.5 L645.9,235.0 L647.4,238.5 L649.0,242.1 L650.6,246.3 L652.2,250.0 L653.8,251.6 L655.4,255.3 L657.0,259.0 L658.5,260.4 L660.1,263.0 L661.7,265.7 L663.3,267.8 L664.9,270.0 L666.5,271.1 L668.1,272.0 L669.6,273.6 L671.2,273.2 L672.8,276.2 L674.4,276.7 L676.0,278.5 L677.5,278.6 L679.1,277.7 L680.6,278.6 L682.2,277.7 L683.8,278.6 L685.3,278.7 L686.9,280.0 L688.4,279.9 L690.0,281.1 L691.5,280.2 L693.0,282.2 L694.5,281.9 L696.0,282.8 L697.5,282.0 L699.0,283.4 L700.5,284.9 L702.0,285.7 L703.5,285.1 L705.0,285.6 L706.7,272.7 L708.3,261.8 L710.0,250.0 L711.8,238.3 L713.6,227.0 L715.3,215.6 L717.1,204.8 L718.9,194.4 L720.6,190.7 L722.2,186.5 L723.9,183.1 L725.6,178.9 L727.2,182.2 L728.8,185.1 L730.4,187.2 L731.9,190.6 L733.5,192.2 L735.1,194.5 L736.7,196.7 L738.2,199.9 L739.8,203.5 L741.4,205.8 L742.9,208.9 L744.5,209.7 L746.0,212.3 L747.6,215.7 L749.1,218.8 L750.7,221.8 L752.2,223.3 L753.8,225.8 L755.3,228.1 L756.9,230.9 L758.4,233.5 L760.0,235.4 L761.6,238.5 L763.1,242.0 L764.7,245.3 L766.2,246.9 L767.8,250.0 L769.4,252.2 L771.0,254.8 L772.7,255.4 L774.3,256.5 L775.9,258.6 L777.5,262.0 L779.1,265.2 L780.7,266.3 L782.4,267.7 L784.0,270.3 L785.6,272.2 L787.3,272.6 L788.9,272.5 L790.6,273.5 L792.2,275.3 L793.9,276.2 L795.6,276.7 L797.2,277.6 L798.9,278.9 L800.5,278.0 L802.1,279.5 L803.7,279.3 L805.3,280.1 L806.9,280.2 L808.5,281.3 L810.1,281.6 L811.7,280.0 L813.3,280.4 L814.9,279.5 L816.5,281.1 L818.2,269.5 L819.9,257.1 L821.6,247.1 L823.3,234.4 L825.1,224.3 L826.9,214.8 L828.6,205.1 L830.4,196.2 L832.2,185.6 L833.9,184.2 L835.5,182.9 L837.2,179.8 L838.9,177.8 L840.6,177.6 L842.2,178.2 L843.9,178.6 L845.6,181.1 L847.2,183.8 L848.8,187.3 L850.4,190.5 L851.9,193.6 L853.5,194.8 L855.1,196.9 L856.7,201.1 L858.3,204.0 L859.9,205.8 L861.5,209.2 L863.1,213.0 L864.7,216.6 L866.4,219.7 L868.0,223.7 L869.6,227.1 L871.2,228.6 L872.8,231.0 L874.4,234.4 L876.0,235.2 L877.6,237.3 L879.3,240.3 L880.9,243.4 L882.5,244.9 L884.1,246.4 L885.7,249.9 L887.3,252.7 L889.0,254.6 L890.6,255.8 L892.2,258.9 L893.8,259.4 L895.3,261.2 L896.9,264.4 L898.4,266.9 L900.0,266.6 L901.6,269.8 L903.1,272.0 L904.7,273.6 L906.2,273.8 L907.8,275.6 L909.4,277.0 L911.0,277.4 L912.6,275.9 L914.2,275.2 L915.8,276.0 L917.4,277.0 L918.9,276.1 L920.5,278.3 L922.1,278.6 L923.7,278.5 L925.3,278.5 L926.9,277.6 L928.5,278.9 L930.5,261.8 L932.4,244.8 L934.4,226.7 L936.2,217.7 L938.0,211.1 L939.7,202.5 L941.5,195.8 L943.3,186.7 L945.0,182.5 L946.6,177.6 L948.3,173.1 L950.0,170.0 L951.6,171.8 L953.2,173.9 L954.8,176.6 L956.3,180.1 L957.9,183.4 L959.5,186.3 L961.1,188.9 L962.7,190.6 L964.2,192.6 L965.8,195.3 L967.3,200.0 L968.9,201.5 L970.5,205.1 L972.0,207.8 L973.6,210.6 L975.1,214.2 L976.7,215.6 L978.3,218.3 L979.9,221.7 L981.5,224.3 L983.1,226.7 L984.7,229.4 L986.4,231.6 L988.0,234.0 L989.6,238.8 L991.2,241.6 L992.8,243.2 L994.4,246.7 L996.0,249.5 L997.6,250.5 L999.2,253.5 L1000.8,255.9 L1002.4,258.7 L1004.0,260.1 L1005.6,262.2 L1007.1,263.8 L1008.7,264.0 L1010.2,263.5 L1011.8,262.7 L1013.4,262.9 L1014.9,262.9 L1016.5,264.1 L1018.0,265.5 L1019.6,266.1 L1021.1,265.6 L1022.6,266.8 L1024.2,266.6 L1025.7,266.4 L1027.2,268.0 L1028.8,268.6 L1030.3,269.1 L1031.8,269.2 L1033.4,270.2 L1034.9,270.3 L1036.4,269.8 L1038.0,270.2 L1039.5,271.1 L1041.0,261.0 L1042.5,251.4 L1044.1,243.5 L1045.6,233.3 L1047.4,224.4 L1049.1,214.4 L1050.9,204.1 L1052.6,194.2 L1054.4,184.4 L1056.0,180.5 L1057.5,178.2 L1059.1,175.8 L1060.6,172.5 L1062.2,170.0 L1063.9,172.3 L1065.5,176.1 L1067.2,178.8 L1068.9,179.1 L1070.5,183.0 L1072.2,184.4 L1073.8,188.0 L1075.3,190.6 L1076.9,193.1 L1078.4,194.0 L1080.0,195.6 L1081.6,199.0 L1083.1,202.4 L1084.7,203.3 L1086.2,204.9 L1087.8,208.9 L1089.4,211.7 L1091.0,214.6 L1092.7,215.4 L1094.3,218.6 L1095.9,219.8 L1097.5,223.0 L1099.1,223.5 L1100.7,226.5 L1102.4,228.1 L1104.0,231.1 L1105.6,233.3 L1107.2,234.1 L1108.8,237.3 L1110.4,238.3 L1112.0,240.8 L1113.6,242.1 L1115.3,244.6 L1116.9,246.2 L1118.5,248.6 L1120.1,251.1 L1121.7,253.8 L1123.3,255.6 L1124.9,256.8 L1126.5,257.4 L1128.2,259.0 L1129.8,259.0 L1131.4,258.7 L1133.0,260.5 L1134.6,260.9 L1136.2,263.0 L1137.9,262.9 L1139.5,262.4 L1141.1,264.4 L1142.7,264.0 L1144.2,266.2 L1145.8,266.1 L1147.3,267.3 L1148.9,266.9 L1150.4,267.6 L1152.0,267.8 L1153.6,260.5 L1155.1,254.0 L1156.7,248.9 L1158.3,233.5 L1160.0,220.2 L1161.7,206.4 L1163.3,193.3 L1165.1,187.8 L1166.9,183.0 L1168.6,176.8 L1170.4,171.2 L1172.2,166.7 L1174.0,168.7 L1175.8,172.1 L1177.5,176.4 L1179.3,181.5 L1181.1,184.4 L1182.9,186.5 L1184.7,189.3 L1186.4,191.0 L1188.2,194.8 L1190.0,197.8 L1191.5,199.3 L1193.0,200.9 L1194.5,202.8 L1196.0,204.4 L1197.5,206.5 L1199.0,208.9" fill="none" stroke="#e8302a" stroke-width="7.8" stroke-linejoin="round" stroke-linecap="round"/>
<path d="M143.5,743.3 L145.5,742.9 L147.6,743.9 L149.6,743.3 L151.7,744.3 L153.7,745.5 L155.8,744.8 L157.8,745.6 L160.0,744.1 L162.2,743.9 L164.4,741.5 L166.7,741.1 L168.9,738.5 L171.1,737.2 L173.3,736.7 L175.3,736.7 L177.4,736.8 L179.4,735.3 L181.4,734.8 L183.4,734.2 L185.5,733.4 L187.5,733.2 L189.5,734.0 L191.5,733.4 L193.6,733.5 L193.4,733.2 L193.4,720.0 L194.6,720.0 L194.6,733.2 L195.6,732.2 L197.7,732.4 L199.8,732.3 L201.8,731.9 L203.9,730.8 L206.0,731.0 L208.1,730.6 L210.2,730.0 L210.4,730.0 L210.4,725.0 L211.6,725.0 L211.6,730.0 L212.2,729.9 L214.3,731.1 L216.4,731.4 L218.5,731.4 L220.6,730.3 L222.7,729.2 L224.7,728.9 L226.8,728.5 L228.9,728.9 L231.0,729.7 L230.4,729.7 L230.4,719.0 L231.6,719.0 L231.6,729.7 L233.1,729.8 L235.1,729.7 L237.2,729.0 L239.3,728.6 L241.4,729.0 L243.5,729.5 L245.6,729.1 L247.6,729.5 L249.7,728.8 L251.8,729.1 L252.4,728.8 L252.4,723.0 L253.6,723.0 L253.6,728.8 L253.9,728.6 L256.0,728.3 L258.0,728.7 L260.1,728.0 L262.2,727.8 L264.3,728.3 L266.4,726.9 L268.5,727.9 L270.6,727.5 L272.6,726.0 L272.4,726.0 L272.4,715.6 L273.6,715.6 L273.6,726.0 L274.7,726.4 L276.8,725.4 L278.9,724.5 L281.0,724.1 L283.1,724.5 L283.4,725.0 L283.4,716.0 L284.6,716.0 L284.6,725.0 L285.2,725.6 L287.2,724.1 L289.3,724.1 L291.4,723.7 L293.5,722.8 L295.6,723.3 L297.7,723.8 L299.8,723.5 L301.8,723.0 L303.9,724.9 L306.0,725.4 L308.1,724.2 L310.2,724.9 L312.2,725.0 L314.3,726.0 L316.4,725.8 L318.5,726.7 L320.6,725.8 L320.4,726.1 L320.4,713.0 L321.6,713.0 L321.6,726.1 L322.7,727.6 L324.7,727.8 L326.8,727.4 L328.9,727.8 L330.9,727.9 L332.9,727.3 L335.0,725.8 L337.0,724.4 L339.0,724.8 L341.0,724.0 L343.0,724.3 L345.0,722.4 L347.1,722.9 L349.1,722.7 L351.1,721.1 L353.3,720.3 L355.5,719.6 L357.8,719.8 L360.0,718.9 L362.2,718.9 L365.5,712.0 L366.7,302.2 L368.5,303.0 L372.2,328.9 L374.4,348.7 L376.7,368.9 L378.9,377.8 L381.1,386.7 L383.4,410.9 L385.6,435.6 L388.9,502.2 L390.0,580.0 L389.5,771.0 L393.3,756.7 L395.5,755.6 L397.8,755.6 L400.0,756.6 L402.2,756.8 L404.5,755.1 L406.7,755.6 L408.9,755.6 L411.1,756.1 L413.4,755.5 L415.6,756.0 L417.8,755.2 L420.0,754.4 L422.0,753.4 L424.0,752.0 L426.1,751.2 L428.1,750.4 L430.1,750.1 L432.1,747.3 L434.1,746.1 L436.1,746.3 L438.2,745.1 L440.2,743.1 L442.2,742.2 L444.3,741.9 L446.5,740.5 L448.6,740.0 L450.7,739.4 L452.9,740.7 L455.0,740.0 L456.0,734.0 L458.0,733.3 L460.0,734.0 L461.0,738.0 L463.1,736.4 L465.1,735.2 L467.1,734.8 L469.2,732.5 L471.2,730.9 L473.3,731.1 L475.6,724.4 L477.8,720.0 L479.5,700.0 L480.5,318.9 L482.5,320.0 L483.3,380.0 L485.6,396.5 L487.8,413.3 L490.0,421.8 L492.2,430.0 L494.4,440.0 L496.6,451.4 L498.9,464.4 L501.1,502.2 L502.2,580.0 L502.2,775.6 L504.4,770.4 L506.7,766.9 L508.9,762.2 L510.9,761.8 L512.9,759.3 L515.0,759.7 L517.0,757.4 L519.0,756.7 L521.0,755.8 L523.0,754.0 L525.0,752.9 L527.1,753.3 L529.1,752.6 L531.1,751.1 L533.1,751.4 L535.1,751.4 L537.2,750.9 L539.2,749.0 L541.2,748.9 L543.2,748.6 L545.2,747.1 L547.2,747.5 L549.3,747.6 L551.3,746.6 L553.3,745.6 L555.7,746.2 L558.1,745.0 L560.6,745.8 L563.0,745.0 L563.0,729.0 L565.0,728.8 L567.0,729.0 L567.0,740.0 L569.1,739.2 L571.3,739.4 L573.5,739.4 L575.6,738.9 L577.8,736.5 L580.0,734.8 L582.2,732.4 L584.5,729.5 L586.7,727.8 L588.9,724.4 L591.0,700.0 L592.2,326.7 L594.0,328.0 L596.0,384.4 L598.5,404.5 L601.1,424.4 L603.4,438.6 L605.6,453.3 L607.8,462.1 L610.0,468.9 L613.3,502.2 L614.4,580.0 L615.6,777.8 L617.8,772.4 L620.0,766.4 L622.2,762.5 L624.4,756.7 L626.6,757.3 L628.9,756.5 L631.1,757.3 L633.3,757.3 L635.5,756.8 L637.8,756.8 L640.0,757.7 L642.2,756.7 L644.2,756.0 L646.2,753.7 L648.3,753.0 L650.3,751.7 L652.3,752.0 L654.3,750.1 L656.3,748.7 L658.3,748.3 L660.4,747.4 L662.4,744.8 L664.4,744.4 L666.6,744.1 L668.9,744.5 L671.1,743.5 L673.3,742.2 L675.5,742.9 L677.8,740.9 L680.0,741.1 L682.0,740.1 L684.0,738.8 L686.0,738.7 L688.0,737.7 L690.0,738.0 L692.0,735.7 L694.0,735.3 L696.0,734.3 L698.0,733.0 L700.0,733.3 L702.5,715.0 L704.4,355.6 L706.0,357.0 L709.0,384.4 L711.1,416.0 L713.3,446.7 L715.5,456.8 L717.8,465.8 L720.0,475.6 L722.2,497.8 L724.4,520.0 L725.5,580.0 L726.7,775.6 L728.8,771.8 L730.9,767.1 L733.0,764.4 L735.3,762.8 L737.6,761.3 L739.9,760.4 L742.1,761.1 L744.4,760.6 L746.7,758.9 L748.7,758.0 L750.7,756.3 L752.8,757.3 L754.8,755.2 L756.8,754.5 L758.8,755.2 L760.8,754.3 L762.8,753.2 L764.9,753.1 L766.9,752.9 L768.9,751.1 L770.9,750.6 L772.9,750.2 L775.0,747.4 L777.0,746.9 L779.0,746.4 L781.0,745.9 L783.0,744.2 L785.0,743.4 L787.1,741.7 L789.1,741.4 L791.1,740.0 L793.1,739.4 L795.1,739.4 L797.1,737.7 L799.1,735.9 L801.1,736.0 L803.1,734.7 L805.1,733.0 L807.1,733.7 L809.1,732.2 L811.1,731.1 L814.4,715.0 L816.0,367.8 L818.0,369.0 L820.5,404.4 L822.6,420.0 L824.6,436.1 L826.7,453.3 L828.9,462.9 L831.1,474.7 L833.3,484.4 L836.7,524.4 L838.0,580.0 L840.0,777.8 L842.2,774.3 L844.5,768.1 L846.8,764.7 L849.0,760.0 L851.2,758.9 L853.4,758.3 L855.6,758.2 L857.8,756.7 L860.1,755.7 L862.3,756.3 L864.5,755.7 L866.7,755.1 L868.9,753.3 L870.9,753.5 L872.9,753.4 L875.0,752.5 L877.0,751.7 L879.0,750.1 L881.0,750.1 L883.0,750.2 L885.0,749.0 L887.1,748.5 L889.1,746.8 L891.1,746.7 L893.1,745.5 L895.1,744.7 L897.2,744.2 L899.2,742.9 L901.2,741.1 L903.2,741.6 L905.2,739.9 L907.2,737.8 L909.3,738.1 L911.3,736.5 L913.3,735.6 L915.5,735.7 L917.7,733.0 L920.0,733.3 L922.2,732.5 L924.4,731.1 L926.7,715.0 L928.9,367.8 L930.5,369.0 L932.2,408.9 L935.0,425.1 L937.8,440.0 L940.0,456.9 L942.2,475.3 L944.4,493.3 L946.6,514.4 L948.9,535.6 L950.0,580.0 L952.2,780.0 L955.1,769.5 L958.0,760.0 L960.0,758.6 L962.0,759.2 L964.0,758.6 L966.0,759.5 L968.0,757.9 L970.0,757.5 L972.0,757.7 L974.0,756.3 L976.0,755.7 L978.0,755.1 L980.0,756.0 L982.0,755.4 L984.0,754.8 L986.0,752.4 L988.0,751.3 L990.0,751.2 L992.0,749.1 L994.0,747.7 L996.0,746.9 L998.0,747.3 L1000.0,745.5 L1002.0,745.4 L1004.0,743.4 L1006.0,743.1 L1008.0,742.0 L1010.0,742.0 L1012.0,741.5 L1014.0,740.0 L1016.0,739.9 L1018.0,739.1 L1020.0,738.6 L1022.0,738.2 L1024.0,739.1 L1026.0,737.4 L1028.0,737.0 L1030.0,737.4 L1032.0,735.7 L1034.0,736.0 L1036.0,725.9 L1038.0,715.0 L1040.0,361.0 L1042.0,362.0 L1044.0,410.0 L1046.0,426.0 L1048.0,440.0 L1050.0,452.6 L1052.0,465.1 L1054.0,476.0 L1056.0,484.2 L1058.0,492.7 L1060.0,500.0 L1061.0,550.0 L1063.0,776.0 L1065.3,773.3 L1067.7,768.4 L1070.0,764.0 L1072.0,763.4 L1074.0,763.8 L1076.0,762.9 L1078.0,761.8 L1080.0,760.8 L1082.0,760.8 L1084.0,761.0 L1086.0,759.6 L1088.0,758.6 L1090.0,758.0 L1092.0,756.8 L1094.0,754.6 L1096.0,754.8 L1098.0,753.8 L1100.0,752.5 L1102.0,751.4 L1104.0,750.5 L1106.0,748.5 L1108.0,747.4 L1110.0,746.0 L1112.0,745.0 L1114.0,745.0 L1116.0,744.8 L1118.0,744.2 L1120.0,742.9 L1122.0,742.3 L1124.0,741.3 L1126.0,742.0 L1129.0,742.0 L1129.0,702.0 L1131.0,701.5 L1133.0,702.0 L1133.0,740.0 L1135.2,739.2 L1137.4,738.1 L1139.6,737.9 L1141.8,736.6 L1144.0,736.0 L1146.0,725.4 L1148.0,715.0 L1150.0,502.3 L1152.0,291.0 L1154.0,292.0 L1156.0,370.0 L1158.0,389.9 L1160.0,410.0 L1162.0,436.3 L1164.0,464.0 L1166.0,469.8 L1168.0,476.9 L1170.0,484.0 L1173.0,550.0 L1174.0,768.0 L1176.0,773.7 L1178.0,779.1 L1180.0,783.9 L1182.0,790.0 L1184.0,788.5 L1186.0,787.4 L1188.0,785.0 L1190.0,784.0 L1192.0,781.5 L1194.0,781.5 L1196.0,779.3 L1198.0,778.0" fill="none" stroke="#1a1ef8" stroke-width="5.8" stroke-linejoin="miter" stroke-miterlimit="3"/>
<path d="M143.5,1353.3 L145.8,1351.6 L148.1,1350.2 L150.4,1347.0 L152.7,1342.8 L155.0,1340.0 L157.1,1337.4 L159.1,1337.9 L161.2,1334.4 L163.2,1336.7 L165.3,1333.9 L167.4,1331.6 L169.4,1330.4 L171.5,1331.7 L173.5,1326.5 L175.6,1326.7 L177.7,1327.4 L179.7,1324.7 L181.8,1324.7 L183.9,1324.5 L186.0,1326.5 L188.0,1326.6 L190.1,1324.7 L192.2,1325.4 L194.3,1326.9 L196.3,1323.2 L198.4,1324.2 L200.5,1324.0 L202.6,1325.9 L204.6,1326.6 L206.7,1324.4 L208.8,1325.9 L210.9,1323.1 L212.9,1324.7 L215.0,1323.9 L217.1,1322.2 L219.2,1323.3 L221.3,1318.8 L223.3,1318.8 L225.4,1320.5 L227.5,1319.9 L229.6,1320.9 L231.7,1320.2 L233.8,1318.5 L235.8,1316.6 L237.9,1315.7 L240.0,1315.6 L242.2,1316.5 L244.5,1312.3 L246.7,1310.4 L248.9,1307.7 L251.1,1306.6 L253.4,1309.2 L255.6,1306.7 L257.7,1306.1 L259.7,1306.2 L261.8,1309.3 L263.8,1306.4 L265.9,1309.2 L267.9,1307.2 L270.0,1309.5 L272.1,1310.6 L274.1,1308.8 L276.2,1310.5 L278.2,1307.9 L280.3,1307.3 L282.3,1309.9 L284.4,1308.9 L286.6,1308.8 L288.9,1308.3 L291.1,1304.6 L293.4,1304.9 L295.6,1301.1 L297.8,1298.1 L300.0,1300.8 L302.2,1296.7 L304.5,1297.4 L306.7,1297.8 L308.9,1296.8 L311.1,1294.2 L313.3,1292.2 L315.4,1293.1 L317.4,1290.9 L319.5,1291.2 L321.5,1288.3 L323.6,1287.1 L325.6,1289.7 L327.7,1288.4 L329.7,1289.2 L331.8,1284.9 L333.8,1284.1 L335.9,1286.4 L337.9,1285.2 L340.0,1284.4 L342.2,1280.9 L344.4,1281.5 L346.7,1279.5 L348.9,1276.2 L351.1,1275.6 L353.3,1273.7 L355.5,1275.2 L357.8,1277.0 L360.0,1273.8 L362.2,1272.2 L364.4,1273.3 L367.2,1262.1 L370.0,1250.0 L372.8,1238.3 L375.6,1224.4 L377.8,1216.2 L380.0,1205.6 L382.3,1198.0 L384.5,1186.3 L386.7,1177.8 L388.7,1177.2 L390.7,1175.8 L392.7,1174.0 L394.7,1169.7 L396.7,1165.4 L398.7,1165.1 L400.7,1160.0 L402.7,1160.8 L404.7,1156.9 L406.7,1155.6 L408.9,1154.8 L411.1,1148.5 L413.3,1148.0 L415.5,1155.4 L417.8,1159.1 L420.0,1163.6 L422.2,1170.4 L424.4,1178.2 L426.7,1183.5 L428.9,1186.7 L431.1,1189.5 L433.3,1192.0 L435.6,1192.7 L437.8,1197.4 L440.0,1200.0 L442.2,1202.6 L444.5,1205.8 L446.7,1211.8 L448.9,1214.2 L451.1,1219.5 L453.4,1224.8 L455.6,1229.0 L458.3,1222.0 L461.0,1214.1 L463.1,1206.5 L465.2,1198.8 L467.3,1191.2 L469.3,1186.2 L471.3,1181.1 L473.3,1176.1 L475.4,1171.0 L477.4,1167.3 L479.4,1163.5 L481.4,1159.8 L483.4,1156.1 L485.8,1153.4 L488.2,1150.8 L490.6,1148.2 L493.1,1146.6 L495.6,1145.1 L498.0,1143.5 L500.5,1142.0 L502.6,1145.8 L504.7,1149.5 L506.7,1153.3 L508.8,1157.1 L510.9,1160.9 L513.0,1164.0 L515.1,1167.2 L517.1,1170.4 L519.2,1173.6 L521.3,1176.8 L523.6,1180.1 L525.9,1183.5 L528.1,1186.8 L530.4,1190.1 L532.7,1193.5 L534.7,1196.2 L536.7,1198.8 L538.7,1201.6 L540.7,1204.3 L543.1,1207.7 L545.4,1211.1 L547.8,1214.5 L550.5,1207.2 L553.1,1199.8 L555.2,1192.8 L557.2,1185.7 L559.3,1178.6 L561.9,1172.4 L564.6,1166.1 L567.2,1159.9 L569.9,1155.3 L572.6,1150.7 L575.2,1146.0 L577.6,1143.6 L579.9,1141.2 L582.3,1138.7 L584.7,1137.3 L587.1,1135.9 L589.6,1134.4 L592.0,1133.0 L594.4,1138.1 L596.8,1143.1 L599.2,1148.2 L601.6,1153.3 L604.0,1157.6 L606.4,1161.9 L608.8,1166.2 L611.2,1170.4 L613.3,1174.0 L615.4,1177.6 L617.5,1181.2 L619.6,1184.8 L621.7,1188.4 L624.2,1192.3 L626.7,1196.2 L629.1,1200.1 L631.3,1203.7 L633.5,1207.3 L635.7,1211.0 L638.4,1203.4 L641.1,1195.8 L643.3,1188.5 L645.4,1181.2 L647.5,1173.9 L649.5,1169.0 L651.6,1164.2 L653.6,1159.3 L655.7,1154.5 L657.7,1150.9 L659.8,1147.3 L661.8,1143.7 L663.8,1140.1 L666.3,1137.6 L668.7,1135.0 L671.1,1132.5 L673.6,1131.0 L676.1,1129.6 L678.6,1128.1 L681.1,1126.6 L683.1,1130.7 L685.1,1134.8 L687.1,1138.9 L689.2,1143.0 L691.2,1147.1 L693.2,1150.6 L695.2,1154.0 L697.2,1157.5 L699.2,1161.0 L701.3,1164.4 L703.5,1168.0 L705.6,1171.7 L707.8,1175.3 L710.0,1178.9 L712.2,1182.5 L714.8,1186.5 L717.4,1190.4 L720.0,1194.4 L722.3,1198.0 L724.6,1201.7 L726.9,1205.4 L729.5,1197.9 L732.2,1190.5 L734.2,1183.3 L736.3,1176.1 L738.4,1168.9 L741.0,1162.6 L743.7,1156.2 L746.3,1149.9 L748.9,1145.2 L751.6,1140.5 L754.2,1135.8 L756.6,1133.3 L758.9,1130.8 L761.3,1128.3 L763.7,1126.9 L766.1,1125.4 L768.6,1124.0 L771.0,1122.5 L773.5,1127.8 L775.9,1133.2 L778.4,1138.5 L780.9,1143.8 L783.3,1148.3 L785.8,1152.8 L788.2,1157.4 L790.7,1161.9 L792.9,1165.6 L795.0,1169.4 L797.2,1173.2 L799.3,1176.9 L801.5,1180.7 L804.0,1184.8 L806.5,1188.9 L809.1,1193.0 L811.3,1196.8 L813.6,1200.7 L815.8,1204.5 L818.5,1197.3 L821.1,1190.1 L823.2,1183.1 L825.2,1176.2 L827.3,1169.2 L829.9,1163.1 L832.6,1156.9 L835.2,1150.8 L837.9,1146.2 L840.6,1141.7 L843.2,1137.1 L845.6,1134.7 L847.9,1132.3 L850.3,1129.9 L852.7,1128.5 L855.1,1127.1 L857.6,1125.7 L860.0,1124.3 L862.0,1128.3 L864.0,1132.3 L866.0,1136.3 L868.0,1140.3 L870.0,1144.2 L872.0,1147.6 L874.0,1151.0 L876.1,1154.4 L878.1,1157.7 L880.1,1161.1 L882.3,1164.6 L884.4,1168.2 L886.6,1171.7 L888.8,1175.2 L891.0,1178.8 L893.6,1182.6 L896.2,1186.4 L898.8,1190.3 L901.0,1193.8 L903.3,1197.4 L905.6,1201.0 L908.2,1193.9 L910.8,1186.8 L912.8,1180.0 L914.8,1173.1 L916.9,1166.3 L919.5,1160.2 L922.1,1154.2 L924.7,1148.1 L927.2,1143.7 L929.8,1139.2 L932.4,1134.7 L934.8,1132.4 L937.1,1130.0 L939.4,1127.6 L941.8,1126.2 L944.1,1124.9 L946.5,1123.5 L948.9,1122.1 L951.0,1126.3 L953.0,1130.4 L955.1,1134.6 L957.2,1138.7 L959.3,1142.9 L961.3,1146.4 L963.4,1149.9 L965.5,1153.4 L967.6,1156.9 L969.6,1160.5 L971.9,1164.1 L974.1,1167.8 L976.4,1171.5 L978.7,1175.2 L980.9,1178.8 L982.9,1181.8 L984.9,1184.8 L986.9,1187.8 L988.9,1190.8 L991.3,1194.5 L993.6,1198.2 L996.0,1202.0 L998.5,1194.4 L1001.0,1186.7 L1004.0,1175.7 L1006.9,1164.6 L1009.4,1158.1 L1012.0,1151.6 L1014.5,1145.0 L1017.0,1140.2 L1019.5,1135.4 L1022.0,1130.6 L1024.3,1128.1 L1026.5,1125.5 L1028.8,1123.0 L1031.1,1121.5 L1033.4,1120.0 L1035.7,1118.5 L1038.0,1117.0 L1040.1,1121.1 L1042.1,1125.1 L1044.2,1129.2 L1046.3,1133.2 L1048.3,1137.3 L1050.4,1140.7 L1052.5,1144.1 L1054.5,1147.6 L1056.6,1151.0 L1058.7,1154.4 L1060.9,1158.0 L1063.2,1161.6 L1065.4,1165.2 L1067.7,1168.8 L1070.0,1172.4 L1072.6,1176.3 L1075.3,1180.2 L1078.0,1184.1 L1080.3,1187.7 L1082.7,1191.4 L1085.0,1195.0 L1087.6,1188.1 L1090.2,1181.1 L1092.2,1174.5 L1094.2,1167.8 L1096.2,1161.1 L1098.8,1155.2 L1101.3,1149.3 L1103.9,1143.4 L1106.5,1139.0 L1109.1,1134.7 L1111.7,1130.3 L1114.0,1128.0 L1116.2,1125.7 L1118.5,1123.4 L1120.9,1122.0 L1123.3,1120.7 L1125.6,1119.3 L1128.0,1118.0 L1130.1,1122.0 L1132.1,1126.0 L1134.2,1130.0 L1136.3,1134.0 L1138.3,1138.0 L1140.4,1141.4 L1142.5,1144.8 L1144.5,1148.2 L1146.6,1151.6 L1148.7,1155.0 L1150.9,1158.5 L1153.2,1162.0 L1155.4,1165.6 L1157.7,1169.1 L1160.0,1172.6 L1162.6,1176.4 L1165.3,1180.2 L1168.0,1184.1 L1170.3,1187.7 L1172.7,1191.3 L1175.0,1195.0 L1177.5,1185.1 L1180.0,1175.2 L1182.0,1166.7 L1184.0,1158.3 L1186.0,1149.9 L1188.0,1144.8 L1190.0,1139.7 L1192.0,1134.6 L1194.0,1130.7 L1196.0,1126.8 L1198.0,1122.8 L1200.0,1120.5 L1202.0,1118.2 L1204.0,1115.8 L1206.0,1113.5 L1208.0,1111.1 L1210.0,1109.5 L1212.0,1107.9 L1214.0,1106.2 L1216.0,1104.6 L1218.0,1103.0" fill="none" stroke="#727272" stroke-width="2" stroke-dasharray="5 2.5" stroke-linejoin="round"/>
<path d="M143.5,1460.0 L145.9,1456.7 L148.4,1449.4 L150.9,1445.8 L153.3,1440.0 L155.5,1442.5 L157.8,1445.6 L160.0,1450.0 L162.2,1448.4 L164.5,1448.5 L166.7,1446.3 L168.9,1447.8 L171.1,1449.6 L173.4,1447.1 L175.6,1446.7 L177.6,1446.1 L179.6,1444.8 L181.6,1443.7 L183.6,1440.0 L185.6,1438.3 L187.6,1438.4 L189.6,1440.5 L191.6,1435.7 L193.6,1436.7 L195.6,1435.6 L197.7,1433.6 L199.8,1432.4 L201.8,1432.8 L203.9,1435.5 L206.0,1432.6 L208.1,1434.1 L210.2,1435.7 L212.2,1435.4 L214.3,1434.0 L216.4,1436.2 L218.5,1434.7 L220.6,1432.6 L222.7,1431.9 L224.7,1434.9 L226.8,1432.3 L228.9,1433.3 L231.0,1431.6 L233.1,1433.0 L235.1,1431.8 L237.2,1430.1 L239.3,1428.2 L241.4,1426.4 L243.5,1427.5 L245.6,1428.2 L247.6,1428.6 L249.7,1424.6 L251.8,1424.8 L253.9,1423.0 L256.0,1425.8 L258.0,1423.4 L260.1,1422.9 L262.2,1422.2 L264.3,1423.8 L266.4,1423.6 L268.5,1420.7 L270.6,1424.3 L272.6,1421.5 L274.7,1423.9 L276.8,1424.3 L278.9,1426.3 L281.0,1426.9 L283.1,1426.2 L285.2,1425.3 L287.2,1423.6 L289.3,1424.4 L291.4,1427.6 L293.5,1426.1 L295.6,1426.7 L297.7,1427.8 L299.8,1425.9 L301.8,1424.3 L303.9,1425.2 L306.0,1427.3 L308.1,1427.4 L310.2,1425.6 L312.2,1423.1 L314.3,1426.4 L316.4,1423.8 L318.5,1422.8 L320.6,1422.0 L322.7,1421.5 L324.7,1420.1 L326.8,1421.4 L328.9,1422.2 L330.9,1420.0 L332.9,1421.2 L335.0,1419.4 L337.0,1417.1 L339.0,1417.6 L341.0,1412.7 L343.0,1412.3 L345.0,1413.3 L347.1,1407.5 L349.1,1406.0 L351.1,1406.7 L353.3,1403.7 L355.5,1403.1 L357.8,1404.0 L360.0,1404.2 L362.2,1405.5 L364.4,1402.2 L366.9,1394.6 L369.5,1389.7 L372.0,1380.0 L374.1,1365.9 L376.1,1351.7 L378.2,1341.4 L380.3,1329.9 L382.3,1316.2 L384.4,1302.2 L386.6,1298.0 L388.9,1295.0 L391.1,1293.6 L393.4,1287.5 L395.6,1284.4 L397.8,1283.4 L400.0,1279.3 L402.2,1274.1 L404.5,1270.3 L406.7,1269.3 L408.9,1266.8 L411.1,1263.6 L413.3,1260.0 L415.5,1265.5 L417.8,1272.7 L420.0,1280.9 L422.2,1286.6 L424.4,1291.2 L426.7,1300.4 L428.9,1306.7 L431.1,1309.2 L433.3,1316.4 L435.6,1318.3 L437.8,1322.8 L440.0,1326.7 L442.2,1331.1 L444.5,1333.4 L446.7,1334.1 L448.9,1338.6 L451.1,1344.3 L453.4,1345.3 L455.6,1348.0 L458.3,1338.2 L461.0,1328.5 L463.1,1319.1 L465.2,1309.8 L467.3,1300.4 L469.3,1294.2 L471.3,1288.0 L473.3,1281.8 L475.4,1275.6 L477.4,1271.0 L479.4,1266.4 L481.4,1261.8 L483.4,1257.3 L485.8,1254.0 L488.2,1250.8 L490.6,1247.6 L493.1,1245.7 L495.6,1243.8 L498.0,1241.9 L500.5,1240.0 L502.6,1244.8 L504.7,1249.6 L506.7,1254.4 L508.8,1259.2 L510.9,1264.0 L513.0,1268.1 L515.1,1272.2 L517.1,1276.3 L519.2,1280.3 L521.3,1284.4 L523.6,1288.7 L525.9,1292.9 L528.1,1297.2 L530.4,1301.4 L532.7,1305.7 L534.7,1309.1 L536.7,1312.7 L538.7,1316.1 L540.7,1319.6 L543.1,1323.9 L545.4,1328.2 L547.8,1332.5 L550.5,1323.4 L553.1,1314.2 L555.2,1305.4 L557.2,1296.6 L559.3,1287.8 L561.9,1280.1 L564.6,1272.3 L567.2,1264.5 L569.9,1258.7 L572.6,1253.0 L575.2,1247.2 L577.6,1244.2 L579.9,1241.2 L582.3,1238.1 L584.7,1236.3 L587.1,1234.6 L589.6,1232.8 L592.0,1231.0 L594.4,1237.4 L596.8,1243.7 L599.2,1250.1 L601.6,1256.5 L604.0,1261.9 L606.4,1267.3 L608.8,1272.7 L611.2,1278.0 L613.3,1282.5 L615.4,1287.1 L617.5,1291.6 L619.6,1296.1 L621.7,1300.6 L624.2,1305.5 L626.7,1310.4 L629.1,1315.3 L631.3,1319.9 L633.5,1324.5 L635.7,1329.0 L638.4,1319.6 L641.1,1310.2 L643.3,1301.2 L645.4,1292.1 L647.5,1283.1 L649.5,1277.1 L651.6,1271.1 L653.6,1265.1 L655.7,1259.1 L657.7,1254.6 L659.8,1250.2 L661.8,1245.7 L663.8,1241.3 L666.3,1238.2 L668.7,1235.0 L671.1,1231.9 L673.6,1230.1 L676.1,1228.3 L678.6,1226.4 L681.1,1224.6 L683.1,1229.7 L685.1,1234.9 L687.1,1240.0 L689.2,1245.2 L691.2,1250.3 L693.2,1254.6 L695.2,1259.0 L697.2,1263.3 L699.2,1267.7 L701.3,1272.0 L703.5,1276.6 L705.6,1281.1 L707.8,1285.7 L710.0,1290.2 L712.2,1294.7 L714.8,1299.7 L717.4,1304.6 L720.0,1309.6 L722.3,1314.2 L724.6,1318.8 L726.9,1323.4 L729.5,1314.1 L732.2,1304.9 L734.2,1296.0 L736.3,1287.0 L738.4,1278.1 L741.0,1270.2 L743.7,1262.3 L746.3,1254.5 L748.9,1248.6 L751.6,1242.8 L754.2,1237.0 L756.6,1233.9 L758.9,1230.8 L761.3,1227.7 L763.7,1225.9 L766.1,1224.1 L768.6,1222.3 L771.0,1220.5 L773.5,1227.1 L775.9,1233.8 L778.4,1240.4 L780.9,1247.0 L783.3,1252.6 L785.8,1258.2 L788.2,1263.9 L790.7,1269.5 L792.9,1274.2 L795.0,1278.8 L797.2,1283.5 L799.3,1288.2 L801.5,1292.9 L804.0,1298.0 L806.5,1303.1 L809.1,1308.2 L811.3,1313.0 L813.6,1317.7 L815.8,1322.5 L818.5,1313.5 L821.1,1304.5 L823.2,1295.8 L825.2,1287.1 L827.3,1278.4 L829.9,1270.7 L832.6,1263.0 L835.2,1255.4 L837.9,1249.7 L840.6,1244.0 L843.2,1238.3 L845.6,1235.3 L847.9,1232.3 L850.3,1229.3 L852.7,1227.6 L855.1,1225.8 L857.6,1224.1 L860.0,1222.3 L862.0,1227.3 L864.0,1232.4 L866.0,1237.4 L868.0,1242.4 L870.0,1247.4 L872.0,1251.7 L874.0,1256.0 L876.1,1260.2 L878.1,1264.5 L880.1,1268.7 L882.3,1273.2 L884.4,1277.6 L886.6,1282.1 L888.8,1286.5 L891.0,1291.0 L893.6,1295.8 L896.2,1300.6 L898.8,1305.5 L901.0,1310.0 L903.3,1314.5 L905.6,1319.0 L908.2,1310.1 L910.8,1301.2 L912.8,1292.6 L914.8,1284.1 L916.9,1275.5 L919.5,1267.9 L922.1,1260.3 L924.7,1252.7 L927.2,1247.1 L929.8,1241.5 L932.4,1235.9 L934.8,1233.0 L937.1,1230.0 L939.4,1227.0 L941.8,1225.3 L944.1,1223.6 L946.5,1221.8 L948.9,1220.1 L951.0,1225.3 L953.0,1230.5 L955.1,1235.7 L957.2,1240.9 L959.3,1246.1 L961.3,1250.5 L963.4,1254.9 L965.5,1259.3 L967.6,1263.7 L969.6,1268.1 L971.9,1272.6 L974.1,1277.2 L976.4,1281.8 L978.7,1286.4 L980.9,1291.0 L982.9,1294.8 L984.9,1298.5 L986.9,1302.3 L988.9,1306.0 L991.3,1310.7 L993.6,1315.4 L996.0,1320.0 L998.5,1310.5 L1001.0,1301.1 L1004.0,1287.5 L1006.9,1273.8 L1009.4,1265.8 L1012.0,1257.7 L1014.5,1249.6 L1017.0,1243.7 L1019.5,1237.8 L1022.0,1231.8 L1024.3,1228.7 L1026.5,1225.5 L1028.8,1222.4 L1031.1,1220.5 L1033.4,1218.7 L1035.7,1216.8 L1038.0,1215.0 L1040.1,1220.1 L1042.1,1225.2 L1044.2,1230.3 L1046.3,1235.4 L1048.3,1240.5 L1050.4,1244.8 L1052.5,1249.1 L1054.5,1253.4 L1056.6,1257.7 L1058.7,1262.0 L1060.9,1266.5 L1063.2,1271.1 L1065.4,1275.6 L1067.7,1280.1 L1070.0,1284.6 L1072.6,1289.5 L1075.3,1294.4 L1078.0,1299.3 L1080.3,1303.9 L1082.7,1308.4 L1085.0,1313.0 L1087.6,1304.3 L1090.2,1295.5 L1092.2,1287.1 L1094.2,1278.7 L1096.2,1270.3 L1098.8,1262.9 L1101.3,1255.4 L1103.9,1248.0 L1106.5,1242.5 L1109.1,1237.0 L1111.7,1231.5 L1114.0,1228.6 L1116.2,1225.7 L1118.5,1222.8 L1120.9,1221.1 L1123.3,1219.4 L1125.6,1217.7 L1128.0,1216.0 L1130.1,1221.0 L1132.1,1226.1 L1134.2,1231.1 L1136.3,1236.2 L1138.3,1241.2 L1140.4,1245.5 L1142.5,1249.8 L1144.5,1254.0 L1146.6,1258.3 L1148.7,1262.6 L1150.9,1267.0 L1153.2,1271.5 L1155.4,1275.9 L1157.7,1280.4 L1160.0,1284.9 L1162.6,1289.9 L1165.3,1294.7 L1168.0,1299.6 L1170.3,1304.1 L1172.7,1308.5 L1175.0,1313.0 L1177.5,1300.9 L1180.0,1288.8 L1182.0,1278.6 L1184.0,1268.3 L1186.0,1258.1 L1188.0,1251.9 L1190.0,1245.7 L1192.0,1239.4 L1194.0,1234.7 L1196.0,1229.9 L1198.0,1225.2 L1200.0,1222.3 L1202.0,1219.4 L1204.0,1216.6 L1206.0,1213.7 L1208.0,1210.9 L1210.0,1208.9 L1212.0,1206.9 L1214.0,1205.0 L1216.0,1203.0 L1218.0,1201.0" fill="none" stroke="#727272" stroke-width="2" stroke-dasharray="5 2.5" stroke-linejoin="round"/>
<path d="M143.5,1711.1 L144.7,1710.9 L146.0,1712.0 L147.2,1704.5 L148.4,1701.2 L149.7,1708.2 L150.9,1703.6 L152.1,1702.7 L153.4,1698.7 L154.6,1698.2 L155.8,1701.5 L157.1,1698.7 L158.3,1704.2 L159.5,1698.3 L160.8,1694.3 L162.0,1695.6 L163.2,1693.5 L164.4,1689.6 L165.6,1698.8 L166.8,1689.1 L168.0,1698.0 L169.2,1689.7 L170.5,1690.4 L169.8,1691.0 L171.0,1666.7 L172.2,1691.0 L171.7,1691.7 L172.9,1691.9 L174.1,1689.9 L175.3,1693.1 L176.5,1688.9 L177.7,1688.8 L178.9,1689.0 L180.1,1691.3 L181.3,1688.5 L182.5,1695.2 L183.7,1693.9 L185.0,1697.4 L186.2,1687.6 L187.4,1694.6 L188.6,1688.5 L189.8,1698.5 L191.0,1688.6 L192.2,1689.4 L193.4,1697.8 L194.6,1696.9 L195.8,1696.1 L197.0,1686.2 L198.2,1686.4 L199.5,1686.1 L200.7,1692.0 L201.9,1696.8 L203.1,1687.2 L204.3,1689.2 L205.5,1691.1 L206.7,1691.1 L207.9,1691.8 L209.1,1696.4 L210.3,1688.5 L211.5,1689.3 L212.7,1693.4 L213.9,1689.6 L215.1,1688.9 L216.3,1691.7 L217.5,1687.5 L218.7,1689.2 L219.9,1696.9 L221.1,1686.2 L222.3,1687.6 L223.5,1692.6 L224.7,1688.6 L225.9,1691.2 L227.1,1693.4 L228.3,1687.0 L229.5,1687.1 L230.7,1687.8 L229.8,1689.3 L231.0,1648.9 L232.2,1689.3 L231.9,1693.7 L233.1,1692.4 L234.3,1697.0 L235.5,1689.2 L236.7,1691.1 L237.9,1687.3 L239.1,1696.7 L240.3,1693.5 L241.5,1692.9 L242.7,1687.4 L243.9,1694.8 L245.1,1695.1 L246.3,1686.7 L247.5,1686.7 L248.7,1695.5 L249.9,1691.5 L251.1,1691.1 L252.3,1694.6 L253.6,1697.1 L254.8,1695.5 L256.0,1688.5 L257.3,1689.0 L258.5,1695.8 L259.7,1695.3 L261.0,1698.5 L262.2,1697.2 L263.4,1692.6 L264.7,1696.5 L265.9,1696.9 L267.1,1701.4 L268.4,1702.1 L269.6,1696.8 L270.8,1696.5 L272.1,1699.3 L273.3,1697.8 L274.5,1697.7 L275.7,1696.7 L276.9,1693.3 L275.8,1693.3 L277.0,1664.4 L278.2,1693.3 L278.1,1692.9 L279.3,1697.1 L280.5,1695.3 L281.7,1696.3 L282.9,1698.7 L284.1,1691.6 L285.3,1692.6 L286.5,1698.6 L287.7,1692.6 L288.9,1692.9 L290.1,1699.3 L291.3,1688.4 L292.5,1692.4 L293.7,1689.8 L294.9,1699.2 L296.2,1698.5 L297.4,1697.8 L298.6,1692.9 L299.8,1693.3 L301.0,1693.5 L302.2,1694.8 L303.4,1695.3 L304.6,1695.9 L305.8,1692.6 L307.0,1685.9 L308.2,1693.4 L309.4,1689.6 L310.6,1690.5 L311.8,1693.2 L313.0,1694.9 L314.2,1691.6 L315.4,1690.9 L316.6,1695.1 L317.8,1688.9 L319.0,1682.9 L320.3,1691.2 L321.5,1683.6 L322.7,1688.9 L324.0,1685.1 L322.8,1685.2 L324.0,1635.6 L325.2,1685.2 L325.2,1686.3 L326.4,1691.7 L327.7,1685.5 L328.9,1692.2 L330.1,1688.8 L331.4,1691.9 L332.6,1688.5 L333.8,1688.1 L335.1,1687.2 L336.3,1691.4 L337.5,1680.3 L338.8,1681.4 L340.0,1682.5 L341.2,1690.4 L342.5,1691.1 L343.7,1681.5 L344.9,1682.7 L344.3,1683.6 L345.5,1582.2 L346.7,1683.6 L346.2,1684.7 L347.4,1681.6 L348.6,1681.3 L349.9,1680.8 L351.1,1684.4 L352.3,1686.1 L353.6,1676.1 L354.8,1679.7 L356.0,1680.8 L357.3,1671.2 L358.5,1671.7 L359.7,1664.8 L361.0,1664.1 L362.2,1666.7 L363.9,1632.5 L365.5,1600.0 L366.5,1213.0 L368.5,1213.0 L369.8,1297.9 L371.0,1380.0 L372.3,1383.1 L373.7,1398.4 L375.0,1400.0 L376.3,1402.8 L377.7,1409.8 L379.0,1405.6 L380.4,1408.7 L381.7,1411.6 L383.1,1413.1 L384.4,1413.3 L385.6,1418.7 L386.9,1423.6 L388.1,1423.7 L389.4,1433.8 L390.6,1438.5 L391.9,1441.2 L393.1,1442.6 L394.4,1447.2 L395.6,1453.3 L396.9,1460.4 L398.2,1467.4 L399.6,1483.2 L400.9,1496.9 L402.2,1502.2 L403.5,1509.4 L404.9,1521.3 L406.2,1523.2 L407.6,1523.3 L408.9,1535.6 L411.0,1575.6 L412.5,1700.0 L413.0,1724.4 L414.3,1724.6 L415.5,1716.5 L416.8,1719.3 L418.0,1725.8 L419.3,1723.1 L420.5,1716.4 L421.8,1712.9 L423.0,1710.4 L424.3,1710.1 L425.6,1710.0 L426.8,1716.4 L428.1,1709.2 L429.3,1714.4 L430.6,1714.0 L431.8,1713.6 L433.1,1704.4 L434.3,1708.7 L435.6,1704.4 L436.8,1706.1 L438.1,1699.3 L439.3,1706.4 L440.6,1704.1 L441.8,1697.5 L443.0,1700.8 L444.3,1698.9 L445.5,1700.7 L446.8,1697.2 L448.0,1700.0 L449.5,1698.5 L451.0,1704.4 L452.3,1690.4 L453.7,1690.0 L455.0,1680.0 L456.0,1600.0 L457.0,1307.0 L459.0,1307.0 L460.5,1351.0 L462.0,1400.0 L463.4,1404.8 L464.8,1415.9 L466.1,1424.0 L467.5,1427.4 L468.9,1435.6 L470.1,1445.9 L471.3,1440.7 L472.5,1446.3 L473.7,1457.6 L474.9,1457.8 L476.2,1459.3 L477.4,1471.6 L478.6,1467.7 L479.8,1481.9 L481.0,1480.0 L482.2,1486.7 L483.4,1493.2 L484.6,1492.2 L485.9,1497.4 L487.1,1497.9 L488.3,1508.0 L489.5,1505.6 L490.7,1506.0 L491.9,1519.3 L493.2,1521.0 L494.4,1518.8 L495.6,1524.4 L497.1,1546.4 L498.5,1569.1 L500.0,1593.0 L501.5,1722.2 L502.7,1717.9 L504.0,1724.8 L505.2,1723.8 L506.4,1723.8 L507.7,1715.9 L508.9,1717.7 L510.1,1721.0 L511.4,1713.5 L512.6,1721.0 L513.8,1715.5 L515.1,1710.9 L516.3,1714.6 L517.5,1720.9 L518.8,1713.8 L520.0,1715.0 L521.2,1712.0 L522.5,1708.7 L523.8,1711.2 L525.0,1707.0 L526.2,1705.1 L527.5,1711.9 L528.8,1713.0 L530.0,1707.4 L531.2,1713.1 L532.5,1707.0 L533.8,1706.0 L535.0,1705.2 L536.2,1709.3 L537.5,1704.0 L538.8,1701.9 L540.0,1702.2 L541.2,1696.7 L542.5,1696.1 L543.8,1694.2 L545.0,1690.0 L546.5,1600.0 L547.0,1296.0 L549.0,1296.0 L550.3,1336.6 L551.7,1383.5 L553.0,1420.0 L554.3,1422.0 L555.6,1434.5 L556.9,1437.9 L558.3,1448.9 L559.6,1462.3 L560.9,1471.3 L562.2,1473.3 L563.5,1474.5 L564.7,1481.2 L566.0,1479.6 L567.3,1480.5 L568.6,1483.5 L569.8,1493.7 L571.1,1496.4 L572.4,1502.6 L573.6,1504.9 L574.9,1501.4 L576.2,1503.1 L577.5,1514.4 L578.7,1511.5 L580.0,1517.8 L581.2,1531.7 L582.5,1539.0 L583.8,1552.5 L585.0,1555.0 L586.2,1567.5 L587.5,1584.1 L588.8,1585.1 L590.0,1600.0 L591.5,1726.7 L592.7,1726.0 L593.9,1724.3 L595.2,1729.8 L596.4,1720.0 L597.6,1724.9 L598.8,1718.3 L600.0,1721.0 L601.2,1719.1 L602.5,1716.3 L603.7,1722.3 L604.9,1717.9 L606.1,1720.6 L607.3,1721.7 L608.6,1711.9 L609.8,1720.9 L611.0,1715.0 L612.3,1719.7 L613.5,1712.8 L614.8,1707.0 L616.0,1708.9 L617.3,1706.3 L618.5,1706.3 L619.8,1706.7 L621.0,1709.3 L622.3,1703.0 L623.6,1712.3 L624.8,1705.8 L626.1,1702.4 L627.3,1698.9 L628.6,1704.8 L629.8,1706.7 L631.1,1702.2 L632.5,1680.4 L634.0,1650.0 L635.5,1468.4 L637.0,1284.0 L639.0,1284.0 L640.3,1323.2 L641.7,1355.6 L643.0,1400.0 L644.2,1420.2 L645.5,1448.8 L646.7,1464.4 L648.0,1464.0 L649.2,1475.3 L650.5,1476.6 L651.8,1480.5 L653.0,1481.6 L654.3,1484.2 L655.5,1492.2 L656.8,1495.0 L658.1,1496.0 L659.3,1493.3 L660.6,1502.1 L661.9,1503.4 L663.1,1504.8 L664.4,1513.3 L665.6,1516.3 L666.8,1517.6 L668.1,1527.7 L669.3,1522.1 L670.5,1531.8 L671.7,1526.1 L672.9,1533.6 L674.1,1534.2 L675.4,1533.1 L676.6,1536.7 L677.8,1544.4 L680.0,1600.0 L681.0,1728.9 L682.3,1728.6 L683.5,1730.9 L684.8,1719.7 L686.1,1720.5 L687.3,1726.8 L688.6,1723.5 L689.9,1722.8 L691.1,1719.9 L692.4,1715.1 L693.7,1717.0 L694.9,1710.4 L696.2,1718.9 L697.5,1707.6 L698.7,1706.8 L700.0,1711.1 L701.3,1710.8 L702.5,1704.6 L703.8,1706.8 L705.0,1711.2 L706.3,1706.4 L707.6,1708.8 L708.8,1703.0 L710.1,1710.7 L711.3,1699.4 L712.6,1705.1 L713.9,1699.4 L712.8,1699.6 L714.0,1684.0 L715.2,1699.6 L715.1,1701.1 L716.4,1699.1 L717.6,1694.8 L718.9,1700.0 L720.2,1693.1 L721.5,1677.3 L722.7,1666.1 L724.0,1650.0 L725.5,1459.0 L727.0,1280.0 L729.0,1280.0 L730.3,1322.2 L731.7,1361.9 L733.0,1400.0 L734.3,1421.8 L735.6,1451.1 L736.9,1450.4 L738.1,1462.3 L739.4,1463.4 L740.7,1467.2 L741.9,1478.3 L743.2,1482.1 L744.5,1478.6 L745.7,1489.6 L747.0,1485.3 L748.2,1493.0 L749.5,1494.0 L750.8,1506.5 L752.0,1505.2 L753.3,1513.3 L754.5,1515.4 L755.7,1515.1 L756.9,1516.2 L758.1,1524.6 L759.3,1520.4 L760.5,1527.2 L761.7,1528.8 L762.9,1534.7 L764.1,1528.0 L765.3,1529.2 L766.5,1538.8 L767.7,1536.3 L768.9,1540.0 L770.0,1600.0 L771.0,1724.4 L772.2,1727.4 L773.4,1721.2 L774.6,1718.3 L775.8,1727.8 L777.0,1725.5 L778.2,1727.8 L779.5,1727.6 L780.7,1717.5 L781.9,1715.7 L783.1,1717.3 L784.3,1717.3 L785.5,1723.1 L786.7,1721.6 L787.9,1715.6 L789.1,1720.7 L790.3,1716.6 L791.5,1723.1 L792.8,1721.5 L794.0,1712.3 L795.2,1717.2 L796.4,1712.2 L797.6,1720.2 L798.8,1721.0 L800.0,1715.0 L801.2,1716.9 L802.5,1716.4 L803.7,1708.4 L804.9,1709.7 L806.2,1716.3 L807.4,1707.8 L808.6,1712.3 L809.9,1707.5 L811.1,1706.7 L812.5,1682.7 L814.0,1650.0 L815.5,1475.0 L817.0,1289.0 L819.0,1289.0 L820.4,1327.0 L821.7,1361.7 L823.0,1388.9 L824.4,1424.4 L825.7,1432.5 L827.1,1452.5 L828.4,1466.3 L829.8,1473.3 L831.1,1486.7 L832.3,1487.6 L833.5,1493.3 L834.7,1499.5 L836.0,1491.9 L837.2,1502.6 L838.4,1504.8 L839.6,1506.1 L840.8,1509.7 L842.0,1509.5 L843.2,1514.9 L844.5,1514.4 L845.7,1520.2 L846.9,1523.5 L848.1,1515.2 L849.3,1524.5 L850.5,1531.2 L851.7,1526.3 L852.9,1524.6 L854.2,1531.5 L855.4,1536.2 L856.6,1534.7 L857.8,1540.0 L859.1,1574.9 L860.5,1600.0 L861.0,1728.9 L862.2,1722.4 L863.4,1725.3 L864.7,1731.0 L865.9,1723.7 L867.1,1722.3 L868.3,1723.2 L869.5,1721.3 L870.8,1727.3 L872.0,1728.3 L873.2,1720.1 L874.4,1727.1 L875.6,1726.5 L876.8,1720.5 L878.1,1719.9 L879.3,1725.1 L880.5,1717.3 L881.7,1721.6 L882.9,1724.3 L884.2,1719.2 L885.4,1714.8 L886.6,1717.8 L887.8,1717.5 L889.0,1715.9 L890.2,1712.0 L891.5,1709.3 L892.7,1718.5 L893.9,1707.9 L895.1,1715.5 L896.3,1710.2 L897.6,1709.9 L898.8,1706.3 L900.0,1711.1 L901.3,1691.5 L902.7,1666.7 L904.0,1650.0 L905.5,1449.7 L907.0,1258.0 L909.0,1258.0 L910.2,1294.8 L911.4,1329.4 L912.6,1365.1 L913.8,1400.6 L915.0,1440.0 L916.2,1452.9 L917.5,1470.3 L918.8,1486.7 L920.0,1494.8 L921.3,1495.5 L922.6,1493.9 L923.8,1492.8 L925.1,1500.0 L926.4,1494.1 L927.7,1494.2 L928.9,1499.9 L930.2,1499.3 L931.5,1500.0 L932.7,1496.4 L934.0,1497.5 L935.2,1499.2 L936.5,1504.1 L937.7,1512.6 L938.9,1514.0 L940.2,1509.6 L941.4,1519.0 L942.6,1514.7 L943.9,1518.3 L945.1,1521.9 L946.4,1516.0 L947.6,1522.4 L950.0,1600.0 L950.5,1731.1 L951.7,1726.7 L953.0,1734.1 L954.2,1726.4 L955.4,1731.6 L956.7,1727.5 L957.9,1725.3 L959.1,1732.2 L960.3,1728.0 L961.6,1720.6 L962.8,1722.5 L964.0,1721.2 L965.3,1729.2 L966.5,1724.9 L967.7,1719.2 L969.0,1721.0 L970.2,1716.9 L971.4,1714.9 L972.6,1720.6 L973.9,1718.5 L975.1,1717.2 L976.3,1722.4 L977.6,1721.1 L978.8,1721.4 L980.0,1718.6 L981.3,1721.1 L982.5,1719.4 L983.7,1713.7 L984.9,1716.9 L986.2,1710.0 L987.4,1707.8 L988.6,1706.3 L989.9,1711.0 L991.1,1711.1 L992.5,1677.8 L994.0,1650.0 L996.0,1291.0 L998.0,1291.0 L999.2,1326.7 L1000.5,1367.9 L1001.8,1397.2 L1003.0,1440.0 L1004.4,1451.3 L1005.9,1456.8 L1007.3,1467.3 L1008.6,1468.0 L1009.9,1479.7 L1011.2,1489.0 L1012.5,1488.1 L1013.8,1501.0 L1015.1,1509.5 L1016.4,1510.9 L1017.6,1508.8 L1018.8,1518.4 L1020.1,1511.5 L1021.3,1514.2 L1022.5,1519.1 L1023.7,1514.2 L1024.9,1518.5 L1026.1,1522.4 L1027.4,1519.5 L1028.6,1518.0 L1029.8,1527.4 L1031.0,1528.0 L1032.2,1523.3 L1033.4,1526.1 L1034.7,1525.6 L1035.9,1530.6 L1037.1,1531.5 L1039.5,1600.0 L1040.0,1730.4 L1041.2,1734.1 L1042.5,1731.2 L1043.7,1731.9 L1044.9,1729.7 L1046.1,1726.3 L1047.4,1724.0 L1048.6,1721.4 L1049.8,1728.1 L1051.0,1723.2 L1052.3,1718.9 L1053.5,1722.3 L1054.7,1728.1 L1055.9,1724.4 L1057.2,1721.3 L1058.4,1716.3 L1059.6,1724.0 L1060.8,1721.2 L1062.1,1715.8 L1063.3,1719.3 L1064.6,1720.0 L1063.8,1720.2 L1065.0,1626.7 L1066.2,1720.2 L1065.9,1720.4 L1067.2,1712.3 L1068.4,1720.0 L1069.7,1714.3 L1071.0,1718.4 L1072.3,1708.3 L1073.6,1711.7 L1074.9,1709.3 L1076.1,1703.8 L1077.4,1702.2 L1078.7,1700.6 L1080.0,1704.4 L1081.3,1690.9 L1082.7,1673.7 L1084.0,1650.0 L1085.5,1260.0 L1087.5,1260.0 L1089.0,1314.5 L1090.5,1379.3 L1092.0,1440.0 L1093.2,1457.1 L1094.5,1471.8 L1095.8,1475.8 L1097.1,1479.5 L1098.4,1483.7 L1099.8,1481.5 L1101.1,1482.4 L1102.4,1494.0 L1103.7,1494.8 L1104.9,1501.7 L1106.1,1501.5 L1107.3,1503.3 L1108.5,1496.1 L1109.8,1502.8 L1111.0,1502.6 L1112.2,1496.2 L1113.4,1502.0 L1114.6,1500.1 L1115.8,1507.2 L1117.0,1502.6 L1118.2,1507.1 L1119.4,1508.2 L1120.6,1509.3 L1121.9,1514.2 L1123.1,1505.6 L1124.3,1513.7 L1125.5,1512.0 L1126.7,1513.2 L1128.5,1600.0 L1130.0,1737.8 L1131.2,1732.4 L1132.4,1741.5 L1133.6,1733.7 L1134.8,1736.2 L1136.0,1731.3 L1137.2,1728.6 L1138.4,1736.4 L1139.7,1726.8 L1140.9,1733.6 L1142.1,1735.8 L1143.3,1726.2 L1144.5,1723.4 L1145.7,1726.0 L1146.9,1722.3 L1148.1,1732.3 L1149.3,1720.8 L1150.5,1720.8 L1151.7,1718.5 L1152.9,1729.2 L1154.1,1723.7 L1155.3,1716.7 L1156.6,1715.1 L1157.8,1719.3 L1159.0,1716.7 L1160.2,1722.7 L1161.4,1721.4 L1162.6,1714.1 L1163.8,1710.4 L1165.0,1715.6 L1166.3,1709.0 L1167.6,1704.0 L1168.9,1704.4 L1170.2,1687.6 L1171.5,1673.9 L1172.7,1665.6 L1174.0,1650.0 L1175.0,1244.0 L1177.0,1244.0 L1178.2,1287.2 L1179.5,1336.8 L1180.8,1379.8 L1182.0,1420.0 L1183.5,1427.8 L1184.9,1435.9 L1186.4,1444.3 L1187.6,1449.0 L1188.9,1459.2 L1190.1,1457.1 L1191.3,1461.8 L1192.6,1463.2 L1193.8,1476.6 L1195.1,1480.0 L1196.3,1483.1 L1197.5,1489.0 L1198.8,1488.8 L1200.0,1494.8 L1201.3,1494.1 L1202.5,1482.1 L1203.8,1475.0 L1205.0,1478.5 L1206.3,1474.8 L1207.5,1468.1 L1208.8,1463.1 L1210.0,1458.6 L1211.3,1447.9 L1212.5,1449.6 L1213.8,1444.3 L1215.2,1450.6 L1216.6,1442.3 L1218.0,1450.0 L1219.0,1800.0" fill="none" stroke="#727272" stroke-width="2" stroke-dasharray="5 2.5" stroke-linejoin="round"/>
<path d="M143.5,1766.7 L144.7,1763.7 L145.9,1766.8 L147.1,1765.3 L148.3,1768.6 L149.5,1762.2 L150.7,1767.6 L151.9,1766.2 L153.1,1769.6 L154.3,1767.7 L155.5,1768.2 L156.7,1763.4 L157.9,1770.9 L159.1,1764.1 L160.3,1767.2 L161.5,1763.7 L162.7,1769.8 L163.9,1768.3 L165.2,1766.4 L166.4,1770.6 L167.6,1770.3 L168.8,1763.7 L170.0,1762.4 L169.8,1762.9 L171.0,1782.0 L172.2,1762.9 L171.2,1763.0 L172.4,1762.0 L173.6,1762.4 L174.8,1760.2 L176.0,1768.0 L177.2,1763.3 L178.4,1769.0 L179.6,1758.8 L180.8,1762.3 L182.0,1770.1 L183.2,1768.9 L184.4,1764.4 L185.6,1770.2 L186.8,1769.7 L188.0,1768.5 L189.2,1765.4 L190.4,1769.1 L191.6,1759.1 L192.8,1762.7 L194.0,1763.8 L195.2,1766.2 L196.4,1763.6 L197.6,1758.8 L198.8,1766.7 L200.0,1762.2 L201.2,1763.6 L202.4,1755.9 L203.6,1767.4 L204.8,1755.7 L206.0,1767.0 L207.3,1762.5 L208.5,1760.5 L209.7,1762.4 L210.9,1760.2 L212.1,1765.5 L213.3,1763.9 L214.5,1754.1 L215.7,1758.9 L216.9,1757.4 L218.1,1762.8 L219.3,1757.1 L220.5,1757.2 L221.7,1764.2 L222.9,1759.4 L224.1,1756.5 L225.3,1755.2 L226.5,1752.3 L227.7,1754.5 L228.9,1757.8 L230.1,1754.1 L229.8,1758.9 L231.0,1780.0 L232.2,1758.9 L231.3,1760.5 L232.5,1762.9 L233.7,1755.9 L234.9,1751.9 L236.1,1751.3 L237.3,1762.8 L238.5,1761.4 L239.7,1761.2 L240.9,1759.2 L242.1,1756.5 L243.3,1754.2 L244.5,1754.4 L245.7,1755.9 L246.9,1752.4 L248.1,1754.9 L249.3,1761.1 L250.5,1755.9 L251.7,1755.7 L252.9,1755.2 L254.1,1755.3 L255.3,1759.8 L256.5,1756.8 L257.7,1757.7 L258.9,1759.9 L260.1,1757.7 L261.3,1757.0 L262.5,1758.5 L263.7,1753.2 L264.9,1755.5 L266.1,1751.2 L267.3,1758.4 L268.5,1757.6 L269.7,1753.4 L270.9,1755.3 L272.1,1758.9 L273.3,1753.3 L274.5,1751.0 L275.7,1754.0 L276.9,1757.5 L275.8,1757.1 L277.0,1769.0 L278.2,1757.1 L278.1,1753.0 L279.3,1747.7 L280.5,1749.0 L281.7,1747.5 L282.9,1750.7 L284.1,1747.0 L285.3,1755.0 L286.5,1748.1 L287.7,1746.0 L288.9,1746.4 L290.1,1746.1 L291.3,1755.4 L292.5,1745.9 L293.7,1749.8 L294.9,1755.3 L296.2,1755.0 L297.4,1748.3 L298.6,1745.0 L299.8,1754.9 L301.0,1752.4 L302.2,1755.4 L303.4,1752.6 L304.6,1753.3 L305.8,1751.5 L307.0,1752.1 L308.2,1751.3 L309.4,1745.2 L310.6,1746.6 L311.8,1752.2 L313.0,1754.6 L314.2,1745.2 L315.4,1745.4 L316.6,1746.8 L317.8,1748.9 L319.0,1749.7 L320.3,1753.6 L321.5,1745.0 L322.7,1754.6 L324.0,1749.0 L322.8,1748.9 L324.0,1786.7 L325.2,1748.9 L325.2,1743.9 L326.4,1749.5 L327.7,1747.6 L328.9,1748.3 L330.1,1754.3 L331.4,1743.9 L332.6,1747.2 L333.8,1750.3 L335.1,1748.0 L336.3,1749.7 L337.5,1752.1 L338.8,1749.5 L340.0,1745.1 L341.2,1750.7 L342.5,1744.8 L343.7,1748.3 L344.9,1753.3 L344.3,1750.5 L345.5,1795.6 L346.7,1750.5 L346.2,1747.3 L347.4,1747.1 L348.6,1746.7 L349.9,1744.7 L351.1,1751.5 L352.3,1746.8 L353.6,1753.4 L354.8,1745.6 L356.0,1746.2 L357.3,1752.4 L358.5,1752.3 L359.7,1748.4 L361.0,1746.9 L362.2,1751.1 L363.9,1739.7 L365.5,1720.0 L367.0,1620.0 L369.0,1597.8 L370.3,1601.1 L371.6,1601.2 L372.9,1599.0 L374.1,1603.2 L375.4,1608.4 L376.7,1604.7 L378.0,1611.5 L379.3,1617.0 L380.5,1613.3 L381.8,1616.8 L383.1,1617.1 L384.4,1620.0 L385.6,1616.8 L386.9,1623.3 L388.1,1619.1 L389.4,1630.1 L390.6,1631.9 L391.8,1633.2 L393.1,1634.0 L394.3,1627.8 L395.5,1633.4 L396.8,1636.5 L398.0,1634.1 L399.3,1638.6 L400.5,1639.2 L401.7,1633.8 L403.0,1634.9 L404.2,1646.5 L405.5,1647.9 L406.7,1644.4 L408.1,1652.2 L409.6,1655.1 L411.0,1660.0 L412.5,1800.0 L413.8,1802.2 L415.0,1802.3 L416.2,1799.1 L417.5,1796.9 L418.8,1788.0 L420.0,1789.2 L421.2,1788.8 L422.5,1789.0 L423.8,1785.7 L425.0,1790.5 L426.2,1791.5 L427.5,1783.0 L428.8,1786.6 L430.0,1779.4 L431.2,1783.7 L432.5,1776.1 L433.8,1775.9 L435.0,1772.7 L436.2,1775.4 L437.5,1771.4 L438.8,1777.1 L440.0,1771.1 L441.2,1766.1 L442.4,1774.6 L443.6,1765.9 L444.8,1765.3 L446.0,1770.3 L447.3,1769.6 L448.5,1762.6 L449.7,1767.4 L450.9,1764.0 L452.1,1766.3 L453.3,1764.4 L455.5,1700.0 L457.0,1640.0 L458.5,1628.0 L460.0,1617.8 L461.2,1618.1 L462.4,1613.8 L463.6,1614.1 L464.9,1623.6 L466.1,1615.5 L467.3,1624.3 L468.5,1618.3 L469.7,1623.2 L470.9,1620.4 L472.1,1621.7 L473.4,1619.3 L474.6,1620.1 L475.8,1618.9 L477.0,1626.9 L478.2,1618.1 L479.4,1628.7 L480.6,1628.1 L481.8,1622.1 L483.1,1621.9 L484.3,1629.8 L485.5,1625.5 L486.7,1626.7 L487.9,1625.8 L489.2,1632.1 L490.4,1639.2 L491.6,1641.0 L492.9,1639.5 L494.1,1642.1 L495.3,1646.8 L496.6,1644.5 L497.8,1648.9 L499.1,1658.9 L500.5,1680.0 L501.5,1800.0 L502.7,1799.0 L504.0,1793.0 L505.2,1793.9 L506.4,1793.0 L507.7,1794.5 L508.9,1787.4 L510.1,1788.5 L511.4,1784.6 L512.6,1793.6 L513.8,1794.0 L515.1,1789.4 L516.3,1780.0 L517.5,1780.1 L518.8,1786.5 L520.0,1782.2 L521.2,1780.5 L522.4,1782.0 L523.6,1776.3 L524.9,1781.8 L526.1,1772.9 L527.3,1775.0 L528.5,1773.4 L529.7,1768.4 L530.9,1767.2 L532.1,1773.9 L533.4,1772.1 L534.6,1769.9 L535.8,1767.0 L537.0,1763.8 L538.2,1759.4 L539.4,1755.4 L540.6,1764.0 L541.9,1760.8 L543.1,1753.1 L544.3,1759.3 L545.5,1753.3 L546.5,1700.0 L547.5,1640.0 L549.0,1634.9 L550.4,1622.9 L551.8,1619.6 L553.3,1615.6 L554.5,1613.7 L555.8,1621.3 L557.0,1623.2 L558.3,1622.1 L559.5,1621.0 L560.7,1627.2 L562.0,1623.1 L563.2,1621.2 L564.5,1628.5 L565.7,1632.8 L566.9,1633.8 L568.2,1634.3 L569.4,1630.9 L570.6,1632.7 L571.9,1635.8 L573.1,1635.8 L574.4,1641.6 L575.6,1637.8 L576.9,1647.5 L578.2,1657.1 L579.6,1661.8 L580.9,1662.8 L582.2,1675.6 L583.5,1672.9 L584.8,1677.3 L586.1,1683.9 L587.4,1689.8 L588.7,1692.3 L590.0,1690.0 L591.5,1800.0 L592.7,1800.1 L594.0,1795.1 L595.2,1797.9 L596.5,1792.7 L597.7,1794.9 L598.9,1793.5 L600.2,1797.8 L601.4,1796.4 L602.7,1785.0 L603.9,1793.2 L605.1,1789.6 L606.4,1788.5 L607.6,1785.6 L608.8,1789.8 L610.1,1787.4 L611.3,1778.8 L612.6,1780.1 L613.8,1777.9 L615.0,1776.5 L616.3,1775.3 L617.5,1779.8 L618.8,1775.1 L620.0,1775.6 L621.3,1771.4 L622.6,1771.1 L623.9,1776.1 L625.2,1766.5 L626.5,1774.0 L627.9,1769.5 L629.2,1766.8 L630.5,1761.8 L631.8,1770.6 L633.1,1767.4 L634.4,1762.2 L635.0,1700.0 L636.2,1666.4 L637.5,1630.0 L639.1,1627.8 L640.6,1626.2 L642.2,1622.2 L643.4,1622.6 L644.7,1620.0 L645.9,1623.6 L647.1,1627.2 L648.4,1626.1 L649.6,1635.7 L650.8,1634.9 L652.1,1640.1 L653.3,1642.4 L654.5,1640.5 L655.8,1643.1 L657.0,1639.6 L658.2,1639.9 L659.5,1649.2 L660.7,1652.6 L661.9,1646.4 L663.2,1655.7 L664.4,1653.3 L665.6,1653.8 L666.9,1657.3 L668.1,1662.4 L669.4,1664.1 L670.6,1664.5 L671.9,1666.2 L673.1,1666.1 L674.4,1669.2 L675.6,1666.7 L676.9,1681.6 L678.2,1686.1 L679.5,1700.0 L680.5,1800.0 L681.7,1799.7 L683.0,1792.1 L684.2,1792.7 L685.4,1800.2 L686.7,1789.9 L687.9,1791.3 L689.1,1787.7 L690.4,1786.8 L691.6,1787.6 L692.8,1782.6 L694.1,1789.1 L695.3,1781.6 L696.6,1779.4 L697.8,1781.9 L699.0,1780.8 L700.3,1778.7 L701.5,1784.3 L702.7,1782.7 L704.0,1780.3 L705.2,1775.8 L706.4,1769.2 L707.7,1774.6 L708.9,1771.1 L710.2,1767.8 L711.5,1771.3 L712.8,1766.2 L714.1,1772.4 L715.5,1766.6 L716.8,1775.1 L718.1,1772.8 L719.4,1770.1 L720.7,1764.4 L722.0,1768.9 L724.0,1720.0 L725.8,1676.5 L727.5,1640.0 L728.7,1634.1 L729.9,1632.1 L731.1,1624.4 L732.3,1625.5 L733.6,1632.0 L734.8,1629.5 L736.0,1627.3 L737.2,1628.2 L738.5,1627.9 L739.7,1638.4 L740.9,1640.7 L742.1,1641.6 L743.4,1643.7 L744.6,1644.5 L745.8,1641.8 L747.1,1642.1 L748.3,1646.0 L749.5,1651.5 L750.7,1644.1 L752.0,1654.6 L753.2,1653.3 L754.4,1647.8 L755.7,1647.9 L756.9,1650.8 L758.1,1661.1 L759.3,1655.5 L760.6,1663.1 L761.8,1663.3 L763.0,1658.7 L764.2,1661.8 L765.5,1662.2 L766.7,1666.7 L769.0,1690.0 L770.0,1800.0 L771.2,1794.2 L772.4,1795.7 L773.6,1798.9 L774.8,1795.3 L776.0,1794.6 L777.3,1792.5 L778.5,1793.4 L779.7,1791.3 L780.9,1785.2 L782.1,1783.4 L783.3,1785.0 L784.5,1788.4 L785.7,1788.3 L786.9,1783.8 L788.1,1786.7 L789.3,1783.1 L790.5,1783.8 L791.8,1780.4 L793.0,1782.3 L794.2,1774.3 L795.4,1772.2 L796.6,1775.7 L797.8,1774.6 L799.0,1772.4 L800.2,1767.5 L801.4,1772.4 L802.6,1770.1 L803.8,1766.6 L805.1,1766.6 L806.3,1762.2 L807.5,1762.2 L808.7,1768.0 L809.9,1756.9 L811.1,1760.0 L812.5,1739.9 L814.0,1720.0 L815.8,1676.3 L817.5,1630.0 L818.8,1626.1 L820.0,1622.2 L821.2,1623.1 L822.5,1620.3 L823.7,1630.1 L824.9,1622.8 L826.1,1627.8 L827.4,1629.7 L828.6,1628.4 L829.8,1638.5 L831.0,1639.2 L832.3,1631.0 L833.5,1632.7 L834.7,1634.4 L836.0,1637.9 L837.2,1638.7 L838.4,1643.7 L839.6,1641.0 L840.9,1641.4 L842.1,1654.4 L843.3,1654.5 L844.6,1646.2 L845.8,1650.9 L847.0,1650.6 L848.2,1651.4 L849.5,1657.8 L850.7,1657.8 L851.9,1657.8 L853.1,1661.4 L854.4,1662.7 L855.6,1664.4 L856.9,1667.4 L858.2,1676.4 L859.5,1690.0 L860.8,1741.8 L862.0,1795.6 L863.2,1797.1 L864.4,1797.3 L865.7,1791.4 L866.9,1785.7 L868.1,1794.9 L869.3,1783.9 L870.5,1785.7 L871.7,1788.6 L873.0,1786.3 L874.2,1782.6 L875.4,1785.8 L876.6,1779.5 L877.8,1785.6 L879.1,1775.8 L880.3,1774.8 L881.5,1777.3 L882.7,1782.0 L883.9,1781.6 L885.1,1781.4 L886.4,1774.3 L887.6,1779.3 L888.8,1771.9 L890.0,1772.5 L891.2,1767.7 L892.5,1771.9 L893.7,1766.4 L894.9,1772.8 L896.1,1765.1 L897.3,1771.2 L898.5,1765.9 L899.8,1762.8 L901.0,1765.0 L902.2,1762.2 L904.0,1720.0 L905.8,1676.8 L907.5,1640.0 L908.7,1635.4 L909.9,1630.5 L911.1,1626.7 L912.3,1625.3 L913.6,1624.3 L914.8,1627.2 L916.0,1636.9 L917.3,1629.1 L918.5,1634.6 L919.7,1634.7 L921.0,1635.0 L922.2,1641.6 L923.4,1647.7 L924.7,1644.0 L925.9,1651.8 L927.1,1645.2 L928.4,1653.4 L929.6,1645.6 L930.8,1649.1 L932.1,1657.5 L933.3,1650.8 L934.5,1657.7 L935.8,1659.4 L937.0,1664.9 L938.2,1664.5 L939.5,1667.5 L940.7,1661.0 L941.9,1663.8 L943.2,1670.4 L944.4,1671.1 L945.8,1677.6 L947.1,1688.7 L948.5,1690.0 L949.8,1748.8 L951.0,1797.0 L952.2,1800.0 L953.4,1798.7 L954.6,1791.7 L955.9,1794.5 L957.1,1792.8 L958.3,1794.0 L959.5,1788.4 L960.7,1789.4 L961.9,1786.2 L963.2,1791.5 L964.4,1781.9 L965.6,1790.7 L966.8,1790.0 L968.0,1780.4 L969.2,1788.3 L970.4,1779.5 L971.7,1784.4 L972.9,1776.4 L974.1,1778.2 L975.3,1780.9 L976.5,1784.5 L977.7,1779.9 L978.9,1773.6 L980.2,1771.1 L981.4,1779.4 L982.6,1772.0 L983.8,1773.5 L985.0,1775.7 L986.2,1774.6 L987.5,1767.8 L988.7,1770.7 L989.9,1775.4 L991.1,1768.9 L992.5,1742.4 L994.0,1720.0 L995.2,1671.1 L996.5,1620.0 L998.5,1615.6 L999.7,1616.5 L1000.9,1613.6 L1002.1,1626.4 L1003.3,1621.4 L1004.5,1630.7 L1005.7,1626.5 L1006.9,1629.0 L1008.1,1628.0 L1009.3,1627.0 L1010.5,1637.4 L1011.8,1633.1 L1013.0,1641.6 L1014.2,1641.2 L1015.4,1646.4 L1016.6,1641.4 L1017.8,1643.3 L1019.0,1649.1 L1020.2,1649.1 L1021.4,1656.0 L1022.6,1652.6 L1023.9,1653.0 L1025.2,1659.3 L1026.5,1654.1 L1027.8,1656.0 L1029.1,1661.1 L1030.4,1662.2 L1031.7,1660.0 L1033.0,1659.2 L1034.3,1660.7 L1035.6,1667.4 L1037.3,1677.0 L1039.0,1690.0 L1041.1,1798.9 L1042.3,1795.7 L1043.6,1795.2 L1044.8,1794.1 L1046.0,1791.2 L1047.3,1788.1 L1048.5,1787.0 L1049.7,1788.8 L1051.0,1792.8 L1052.2,1791.3 L1053.4,1789.4 L1054.7,1780.6 L1055.9,1779.5 L1057.1,1777.1 L1058.4,1783.1 L1059.6,1779.9 L1060.8,1781.2 L1062.1,1770.1 L1063.3,1773.0 L1064.5,1766.5 L1065.8,1770.3 L1067.0,1765.7 L1068.3,1769.7 L1069.5,1770.4 L1070.7,1774.4 L1072.0,1767.2 L1073.2,1770.0 L1074.5,1769.3 L1075.7,1767.7 L1076.9,1765.5 L1078.2,1765.9 L1079.4,1767.5 L1080.7,1759.1 L1081.9,1761.9 L1084.0,1720.0 L1086.0,1620.0 L1087.7,1609.4 L1089.3,1610.0 L1090.6,1615.5 L1091.8,1611.6 L1093.1,1621.7 L1094.4,1620.6 L1095.6,1629.8 L1096.9,1629.3 L1098.2,1628.1 L1099.4,1628.9 L1100.7,1630.6 L1102.0,1633.9 L1103.3,1641.1 L1104.5,1647.3 L1105.8,1653.5 L1107.1,1653.4 L1108.3,1653.7 L1109.6,1656.3 L1110.9,1659.7 L1112.2,1662.1 L1113.5,1658.2 L1114.8,1667.0 L1116.1,1663.2 L1117.4,1666.7 L1118.7,1677.8 L1120.0,1673.2 L1121.3,1680.0 L1122.6,1680.4 L1123.8,1683.2 L1125.0,1686.6 L1126.3,1694.3 L1127.5,1700.0 L1129.2,1751.3 L1130.9,1800.7 L1132.1,1804.3 L1133.3,1798.7 L1134.5,1792.2 L1135.8,1789.0 L1137.0,1793.8 L1138.2,1787.3 L1139.4,1788.7 L1140.6,1784.3 L1141.8,1782.5 L1143.1,1789.8 L1144.3,1785.6 L1145.5,1782.6 L1146.7,1782.2 L1147.9,1783.1 L1149.1,1784.7 L1150.3,1774.0 L1151.5,1784.0 L1152.7,1780.9 L1153.9,1778.6 L1155.1,1777.7 L1156.3,1779.6 L1157.5,1776.0 L1158.7,1778.1 L1159.9,1771.3 L1161.1,1768.4 L1162.3,1772.8 L1163.5,1773.4 L1164.7,1775.2 L1165.9,1773.2 L1167.1,1769.4 L1168.3,1771.1 L1169.5,1769.1 L1170.7,1765.6 L1172.3,1744.0 L1174.0,1720.0 L1175.5,1620.0 L1176.8,1612.8 L1178.1,1600.7 L1179.3,1599.0 L1180.5,1603.9 L1181.7,1609.4 L1182.9,1607.8 L1184.1,1611.0 L1185.3,1610.8 L1186.5,1612.9 L1187.7,1627.3 L1188.9,1618.7 L1190.2,1622.1 L1191.4,1631.2 L1192.6,1632.6 L1193.8,1630.0 L1195.0,1637.6 L1196.2,1641.3 L1197.4,1637.3 L1198.6,1647.9 L1199.8,1643.6 L1201.0,1645.3 L1202.2,1652.6 L1203.4,1658.3 L1204.7,1655.6 L1205.9,1653.6 L1207.1,1662.2 L1208.4,1658.4 L1209.6,1664.1 L1210.8,1660.8 L1212.1,1669.7 L1213.3,1670.9 L1214.5,1669.1 L1215.8,1667.9 L1217.0,1674.8 L1219.0,1800.0" fill="none" stroke="#727272" stroke-width="2" stroke-dasharray="5 2.5" stroke-linejoin="round"/>
<path d="M143.5,1411.1 L145.1,1407.7 L146.8,1404.5 L148.4,1404.0 L150.0,1401.8 L151.7,1399.4 L153.3,1395.6 L155.0,1395.7 L156.7,1393.1 L158.3,1392.4 L160.0,1393.3 L161.7,1391.8 L163.3,1391.3 L165.0,1391.2 L166.7,1388.9 L168.3,1389.3 L169.9,1387.1 L171.5,1387.7 L173.0,1387.0 L174.6,1385.0 L176.2,1383.3 L177.8,1382.9 L179.4,1382.6 L181.0,1381.6 L182.6,1381.1 L184.1,1380.7 L185.7,1379.4 L187.3,1380.3 L188.9,1378.9 L190.4,1379.7 L191.9,1380.7 L193.5,1380.3 L195.0,1379.1 L196.5,1378.4 L198.0,1378.9 L199.5,1379.8 L201.1,1381.1 L202.6,1381.6 L204.1,1382.2 L205.6,1382.1 L207.2,1381.6 L208.7,1381.0 L210.2,1380.4 L211.7,1379.8 L213.2,1381.7 L214.8,1382.2 L216.3,1381.5 L217.8,1382.2 L219.4,1380.1 L221.0,1378.6 L222.6,1378.6 L224.1,1377.4 L225.7,1378.0 L227.3,1375.6 L228.9,1375.6 L230.5,1374.7 L232.0,1374.4 L233.6,1374.6 L235.2,1373.1 L236.8,1373.3 L238.3,1372.2 L239.9,1371.9 L241.5,1371.0 L243.0,1371.9 L244.6,1371.2 L246.2,1369.4 L247.7,1369.6 L249.3,1370.3 L250.9,1368.4 L252.5,1369.3 L254.0,1368.9 L255.6,1367.8 L257.1,1368.7 L258.6,1368.7 L260.1,1366.8 L261.7,1367.0 L263.2,1368.2 L264.7,1368.2 L266.2,1368.4 L267.7,1368.0 L269.2,1367.2 L270.8,1368.1 L272.3,1366.5 L273.8,1367.8 L275.3,1368.2 L276.8,1367.4 L278.3,1367.3 L279.9,1367.6 L281.4,1365.8 L282.9,1365.5 L284.4,1366.7 L285.9,1366.9 L287.5,1366.1 L289.0,1366.0 L290.6,1366.9 L292.1,1367.0 L293.6,1365.3 L295.2,1365.5 L296.7,1365.1 L298.2,1365.4 L299.8,1365.4 L301.3,1365.2 L302.9,1366.2 L304.4,1365.6 L306.2,1364.2 L308.0,1362.9 L309.7,1360.3 L311.5,1358.6 L313.3,1357.8 L314.9,1357.6 L316.4,1358.4 L318.0,1358.3 L319.5,1359.4 L321.1,1358.8 L322.7,1358.4 L324.2,1358.5 L325.8,1359.2 L327.3,1360.5 L328.9,1360.0 L330.4,1359.5 L332.0,1356.8 L333.5,1356.8 L335.1,1355.7 L336.6,1353.8 L338.2,1351.8 L339.8,1351.1 L341.3,1349.4 L342.8,1347.7 L344.4,1345.6 L346.0,1344.0 L347.5,1343.9 L349.1,1344.4 L350.6,1343.0 L352.2,1343.5 L353.8,1341.7 L355.3,1340.8 L356.9,1341.0 L358.4,1339.7 L360.0,1338.9 L361.6,1340.1 L363.1,1342.9 L364.7,1343.8 L366.2,1345.4 L367.8,1348.9 L369.4,1334.9 L370.9,1321.3 L372.5,1306.5 L374.0,1293.1 L375.6,1280.0 L377.4,1270.5 L379.1,1264.3 L380.9,1257.1 L382.6,1247.3 L384.4,1240.0 L386.0,1236.8 L387.6,1234.0 L389.2,1232.4 L390.8,1229.9 L392.4,1227.5 L394.0,1225.8 L395.6,1222.2 L397.2,1221.4 L398.8,1219.8 L400.4,1218.8 L402.0,1216.2 L403.6,1215.6 L405.3,1215.1 L406.9,1213.2 L408.5,1212.3 L410.1,1209.6 L411.7,1207.7 L413.3,1206.7 L414.9,1210.3 L416.4,1212.7 L418.0,1217.0 L419.5,1219.7 L421.1,1224.3 L422.6,1228.1 L424.2,1232.2 L425.7,1233.3 L427.3,1236.3 L428.8,1238.5 L430.4,1242.1 L431.9,1246.2 L433.6,1248.5 L435.3,1250.8 L437.0,1254.0 L438.7,1258.4 L440.4,1261.7 L442.1,1265.1 L443.9,1268.6 L445.7,1271.0 L447.5,1274.8 L449.3,1277.4 L450.8,1280.8 L452.4,1284.1 L454.0,1285.9 L455.6,1288.9 L457.4,1282.9 L459.2,1276.0 L461.0,1271.3 L462.6,1264.0 L464.1,1258.2 L465.7,1252.9 L467.3,1245.8 L468.9,1242.7 L470.5,1238.0 L472.1,1232.2 L473.7,1227.5 L475.4,1223.3 L477.0,1220.5 L478.6,1217.9 L480.2,1215.0 L481.8,1210.3 L483.4,1206.7 L485.2,1204.1 L487.0,1202.8 L488.8,1200.3 L490.6,1197.9 L492.3,1197.7 L493.9,1195.8 L495.6,1193.6 L497.2,1192.7 L498.9,1192.0 L500.5,1191.0 L502.2,1195.1 L504.0,1198.0 L505.7,1202.9 L507.4,1204.8 L509.2,1208.4 L510.9,1212.5 L512.6,1214.5 L514.4,1217.2 L516.1,1222.0 L517.8,1225.8 L519.6,1229.3 L521.3,1230.6 L522.9,1234.1 L524.6,1235.1 L526.2,1237.2 L527.8,1240.1 L529.4,1244.8 L531.0,1246.7 L532.7,1249.6 L534.3,1253.2 L535.9,1254.7 L537.5,1255.8 L539.1,1259.8 L540.7,1262.0 L542.5,1265.6 L544.3,1268.2 L546.0,1270.9 L547.8,1273.5 L549.6,1268.7 L551.3,1261.9 L553.1,1257.0 L554.7,1250.4 L556.2,1244.6 L557.7,1238.0 L559.3,1233.2 L560.9,1228.9 L562.5,1224.9 L564.1,1219.7 L565.7,1217.0 L567.2,1212.2 L568.8,1208.2 L570.4,1205.3 L572.0,1201.8 L573.6,1200.0 L575.2,1196.6 L577.0,1193.9 L578.7,1191.1 L580.5,1190.7 L582.3,1188.4 L583.9,1187.1 L585.5,1186.8 L587.1,1186.0 L588.8,1185.4 L590.4,1183.2 L592.0,1182.0 L593.6,1186.7 L595.2,1190.0 L596.8,1194.4 L598.4,1197.1 L600.0,1200.0 L601.6,1204.9 L603.2,1208.0 L604.8,1212.4 L606.4,1214.5 L608.0,1217.9 L609.6,1221.3 L611.2,1224.2 L613.0,1226.6 L614.7,1230.9 L616.5,1235.1 L618.2,1237.5 L620.0,1239.7 L621.7,1244.5 L623.6,1246.8 L625.4,1250.5 L627.3,1254.4 L629.1,1257.7 L630.8,1259.9 L632.4,1262.3 L634.1,1267.3 L635.7,1270.0 L637.5,1264.6 L639.3,1258.6 L641.1,1253.0 L642.7,1247.6 L644.3,1239.9 L645.9,1234.8 L647.5,1228.5 L649.1,1225.1 L650.8,1219.9 L652.4,1215.2 L654.0,1212.1 L655.7,1206.8 L657.3,1203.0 L658.9,1200.5 L660.6,1197.2 L662.2,1193.9 L663.8,1190.7 L665.7,1189.0 L667.5,1186.8 L669.3,1184.9 L671.1,1182.2 L672.8,1180.7 L674.4,1180.5 L676.1,1179.0 L677.8,1177.2 L679.4,1175.6 L681.1,1175.6 L682.8,1179.7 L684.5,1184.5 L686.1,1188.6 L687.8,1192.3 L689.5,1196.6 L691.2,1198.7 L692.9,1203.9 L694.5,1206.1 L696.2,1209.4 L697.9,1211.0 L699.6,1213.4 L701.3,1218.2 L702.8,1219.5 L704.4,1223.7 L706.0,1228.0 L707.5,1230.2 L709.1,1234.0 L710.7,1235.4 L712.2,1238.6 L713.8,1241.7 L715.4,1244.5 L716.9,1245.9 L718.5,1248.5 L720.0,1252.0 L721.7,1255.3 L723.5,1258.4 L725.2,1261.9 L726.9,1264.4 L728.7,1259.1 L730.4,1254.2 L732.2,1247.7 L733.7,1242.3 L735.3,1236.0 L736.8,1230.6 L738.4,1223.5 L740.0,1220.6 L741.5,1215.9 L743.1,1212.4 L744.7,1207.5 L746.3,1202.2 L747.9,1200.4 L749.5,1196.5 L751.1,1193.8 L752.7,1189.6 L754.2,1186.4 L756.0,1184.1 L757.8,1182.6 L759.5,1181.3 L761.3,1178.0 L762.9,1178.3 L764.5,1177.4 L766.1,1175.8 L767.8,1175.2 L769.4,1174.5 L771.0,1171.5 L772.6,1175.3 L774.3,1178.8 L775.9,1182.7 L777.6,1187.1 L779.2,1192.2 L780.9,1195.4 L782.5,1200.1 L784.1,1203.0 L785.8,1204.7 L787.4,1208.3 L789.1,1212.5 L790.7,1215.7 L792.2,1219.8 L793.8,1221.2 L795.3,1225.5 L796.9,1228.9 L798.4,1232.0 L799.9,1234.7 L801.5,1236.8 L803.0,1241.2 L804.5,1243.6 L806.0,1245.5 L807.6,1249.3 L809.1,1250.6 L810.8,1254.5 L812.4,1258.6 L814.1,1261.1 L815.8,1263.5 L817.6,1259.1 L819.3,1253.6 L821.1,1247.3 L822.7,1240.5 L824.2,1234.2 L825.7,1230.2 L827.3,1223.8 L828.9,1218.7 L830.5,1214.9 L832.1,1211.3 L833.7,1208.1 L835.2,1203.1 L836.8,1199.6 L838.4,1196.3 L840.0,1194.5 L841.6,1190.9 L843.2,1187.7 L845.0,1186.4 L846.7,1183.0 L848.5,1181.9 L850.3,1179.6 L851.9,1178.6 L853.5,1178.7 L855.1,1176.8 L856.8,1175.2 L858.4,1173.8 L860.0,1173.3 L861.7,1176.0 L863.3,1180.8 L865.0,1183.6 L866.7,1187.5 L868.4,1191.7 L870.0,1195.8 L871.7,1199.8 L873.4,1201.8 L875.0,1204.3 L876.7,1209.2 L878.4,1212.6 L880.1,1214.9 L881.6,1217.8 L883.2,1219.5 L884.8,1222.5 L886.3,1225.1 L887.9,1227.6 L889.4,1230.9 L891.0,1234.9 L892.6,1236.7 L894.1,1240.4 L895.7,1244.0 L897.2,1245.2 L898.8,1247.9 L900.5,1250.2 L902.2,1252.9 L903.9,1255.7 L905.6,1260.0 L907.3,1254.7 L909.1,1249.5 L910.8,1244.0 L912.3,1237.4 L913.8,1231.9 L915.3,1226.2 L916.9,1220.9 L918.4,1216.6 L920.0,1213.3 L921.5,1209.7 L923.1,1205.8 L924.7,1200.4 L926.2,1197.9 L927.8,1195.3 L929.3,1193.0 L930.9,1190.2 L932.4,1185.3 L934.2,1184.1 L935.9,1182.6 L937.6,1178.9 L939.4,1177.3 L941.0,1176.1 L942.5,1175.1 L944.1,1174.0 L945.7,1173.3 L947.3,1173.3 L948.9,1171.1 L950.6,1175.0 L952.4,1178.7 L954.1,1183.6 L955.8,1187.0 L957.5,1190.8 L959.3,1194.5 L961.0,1198.9 L962.7,1200.2 L964.4,1203.9 L966.2,1208.3 L967.9,1211.2 L969.6,1214.3 L971.2,1216.9 L972.9,1219.0 L974.5,1223.1 L976.1,1226.4 L977.7,1228.2 L979.3,1230.3 L980.9,1234.9 L982.5,1237.0 L984.1,1240.2 L985.7,1243.7 L987.3,1246.3 L988.9,1248.4 L990.7,1250.5 L992.5,1254.8 L994.2,1257.4 L996.0,1261.0 L997.7,1255.7 L999.4,1250.2 L1001.0,1243.9 L1003.0,1236.7 L1005.0,1227.3 L1006.9,1219.2 L1008.4,1214.6 L1009.9,1210.2 L1011.5,1205.9 L1013.0,1201.2 L1014.5,1197.3 L1016.0,1192.8 L1017.5,1189.6 L1019.0,1186.9 L1020.5,1183.4 L1022.0,1181.2 L1023.7,1178.8 L1025.4,1176.4 L1027.1,1175.0 L1028.8,1172.7 L1030.3,1170.8 L1031.8,1170.4 L1033.4,1169.5 L1034.9,1169.5 L1036.5,1168.3 L1038.0,1166.0 L1039.7,1171.3 L1041.4,1174.3 L1043.2,1177.8 L1044.9,1180.2 L1046.6,1184.6 L1048.3,1188.9 L1050.1,1191.8 L1051.8,1194.1 L1053.5,1197.9 L1055.2,1201.5 L1057.0,1204.8 L1058.7,1208.2 L1060.3,1212.4 L1061.9,1213.4 L1063.5,1216.7 L1065.1,1219.2 L1066.7,1222.0 L1068.3,1225.2 L1070.0,1228.5 L1071.6,1232.0 L1073.2,1235.1 L1074.8,1236.1 L1076.4,1238.4 L1078.0,1241.7 L1079.7,1244.8 L1081.5,1248.3 L1083.2,1251.4 L1085.0,1254.0 L1086.7,1248.3 L1088.4,1243.9 L1090.2,1238.3 L1091.7,1232.8 L1093.2,1227.0 L1094.7,1222.4 L1096.2,1215.7 L1097.7,1211.5 L1099.3,1208.6 L1100.8,1204.6 L1102.4,1200.5 L1103.9,1195.7 L1105.5,1192.7 L1107.0,1189.3 L1108.6,1187.1 L1110.1,1184.2 L1111.7,1180.9 L1113.4,1177.9 L1115.1,1175.6 L1116.8,1175.0 L1118.5,1173.1 L1120.1,1170.8 L1121.7,1170.5 L1123.3,1168.8 L1124.8,1169.0 L1126.4,1167.5 L1128.0,1167.0 L1129.7,1170.9 L1131.4,1174.2 L1133.2,1179.0 L1134.9,1181.1 L1136.6,1186.7 L1138.3,1189.6 L1140.1,1193.7 L1141.8,1195.1 L1143.5,1197.7 L1145.2,1201.7 L1147.0,1206.3 L1148.7,1208.8 L1150.3,1211.5 L1151.9,1213.1 L1153.5,1217.6 L1155.1,1219.4 L1156.7,1222.0 L1158.3,1226.2 L1160.0,1228.8 L1161.6,1231.7 L1163.2,1235.1 L1164.8,1237.9 L1166.4,1238.5 L1168.0,1241.8 L1169.7,1244.9 L1171.5,1248.7 L1173.2,1251.4 L1175.0,1254.0 L1176.7,1247.6 L1178.3,1240.2 L1180.0,1232.0 L1181.5,1225.4 L1183.0,1219.1 L1184.5,1212.0 L1186.0,1204.0 L1187.5,1199.5 L1189.0,1195.6 L1190.5,1192.3 L1192.0,1187.0 L1193.5,1184.6 L1195.0,1181.8 L1196.5,1176.7 L1198.0,1174.0 L1199.7,1170.9 L1201.3,1168.9 L1203.0,1167.4 L1204.7,1164.5 L1206.3,1161.8 L1208.0,1161.0 L1209.7,1159.5 L1211.3,1157.9 L1213.0,1155.6 L1214.7,1155.9 L1216.3,1152.6 L1218.0,1152.0" fill="none" stroke="#e8302a" stroke-width="7.8" stroke-linejoin="round" stroke-linecap="round"/>
<path d="M143.5,1737.8 L145.6,1735.9 L147.7,1736.5 L149.8,1735.5 L152.0,1733.9 L154.1,1734.1 L156.2,1731.9 L158.3,1731.7 L160.4,1730.1 L162.6,1728.7 L164.7,1727.7 L166.8,1727.5 L168.9,1726.7 L171.0,1727.3 L173.0,1726.7 L175.1,1727.8 L177.1,1727.4 L179.2,1727.2 L181.2,1727.5 L183.3,1727.5 L185.3,1728.0 L187.4,1728.6 L189.4,1728.7 L191.5,1726.9 L193.5,1728.2 L195.6,1727.8 L197.7,1726.7 L199.8,1727.2 L201.8,1725.4 L203.9,1724.9 L206.0,1724.8 L208.1,1724.0 L210.2,1724.5 L212.2,1724.1 L214.3,1723.7 L216.4,1724.0 L218.5,1721.8 L220.6,1721.9 L222.7,1720.6 L224.7,1720.3 L226.8,1720.1 L228.9,1720.0 L230.9,1721.0 L232.9,1721.7 L235.0,1721.8 L237.0,1722.7 L239.0,1722.5 L241.0,1722.7 L243.0,1723.3 L245.0,1724.9 L247.1,1725.4 L249.1,1725.3 L251.1,1725.6 L253.1,1725.1 L255.1,1724.7 L257.2,1724.2 L259.2,1724.3 L261.2,1722.9 L263.2,1724.4 L265.2,1723.0 L267.2,1722.4 L269.3,1723.5 L271.3,1721.8 L273.3,1722.2 L275.4,1721.7 L277.5,1721.1 L279.6,1720.7 L281.6,1720.4 L283.7,1720.2 L285.8,1720.4 L287.9,1721.4 L290.0,1721.7 L292.1,1721.0 L294.2,1719.9 L296.3,1719.5 L298.4,1719.0 L300.4,1719.0 L302.5,1719.8 L304.6,1718.9 L306.7,1718.9 L308.7,1719.2 L310.7,1718.7 L312.8,1717.3 L314.8,1717.6 L316.8,1717.6 L318.8,1718.0 L320.8,1717.0 L322.8,1716.7 L324.9,1716.2 L326.9,1717.3 L328.9,1716.7 L331.1,1715.7 L333.4,1716.9 L335.6,1716.6 L337.8,1716.8 L340.0,1716.1 L342.3,1716.5 L344.5,1716.0 L344.5,1691.0 L346.0,1691.0 L346.0,1716.0 L348.4,1717.9 L350.9,1719.2 L353.3,1720.0 L355.5,1718.0 L357.8,1715.8 L360.0,1712.1 L362.2,1708.9 L365.6,1690.0 L366.7,1402.2 L369.0,1403.0 L371.0,1440.0 L373.3,1452.4 L375.5,1465.8 L377.8,1480.0 L380.0,1491.6 L382.2,1504.9 L384.4,1517.8 L386.6,1522.6 L388.9,1529.0 L391.1,1535.1 L393.3,1540.0 L395.5,1547.8 L397.7,1553.9 L400.0,1561.3 L402.2,1569.5 L404.4,1575.6 L407.2,1578.5 L410.0,1580.0 L411.5,1620.0 L412.2,1755.6 L414.2,1756.0 L416.2,1755.4 L418.2,1757.3 L420.2,1757.8 L422.2,1757.8 L424.4,1756.2 L426.6,1755.2 L428.9,1754.0 L431.1,1750.7 L433.3,1749.1 L435.6,1747.9 L437.8,1745.1 L440.0,1744.4 L442.2,1742.2 L444.4,1741.4 L446.6,1738.5 L448.9,1737.1 L451.1,1735.6 L453.3,1733.3 L455.6,1700.0 L456.7,1463.3 L459.0,1464.0 L461.7,1486.1 L464.4,1506.7 L466.6,1517.7 L468.9,1527.4 L471.1,1537.5 L473.3,1546.7 L475.5,1550.0 L477.7,1553.9 L480.0,1559.3 L482.2,1563.1 L484.4,1566.7 L486.6,1570.3 L488.9,1574.4 L491.1,1578.7 L493.3,1582.6 L495.6,1586.0 L497.8,1591.1 L500.5,1600.0 L501.1,1757.8 L503.2,1756.5 L505.3,1755.5 L507.4,1753.7 L509.5,1754.3 L511.6,1752.3 L513.7,1750.7 L515.8,1751.6 L517.9,1750.8 L520.0,1748.9 L522.2,1747.0 L524.5,1746.5 L526.7,1745.2 L528.9,1742.2 L531.1,1741.5 L533.4,1738.6 L535.6,1737.8 L537.8,1734.9 L540.0,1731.0 L542.2,1727.1 L544.4,1724.4 L546.0,1700.0 L546.7,1461.1 L549.0,1462.0 L551.0,1484.0 L553.0,1504.4 L555.3,1515.6 L557.6,1526.9 L559.9,1537.6 L562.2,1548.9 L564.4,1555.0 L566.6,1560.6 L568.9,1566.1 L571.1,1570.8 L573.3,1575.6 L575.5,1581.4 L577.7,1585.5 L580.0,1591.4 L582.2,1595.7 L584.4,1600.0 L587.2,1604.4 L590.0,1610.0 L591.1,1762.2 L593.3,1761.7 L595.5,1761.9 L597.8,1760.7 L600.0,1761.2 L602.2,1760.9 L604.4,1760.0 L606.6,1758.2 L608.9,1755.3 L611.1,1752.4 L613.3,1750.0 L615.5,1747.3 L617.8,1744.9 L620.0,1742.2 L622.2,1740.3 L624.4,1738.0 L626.7,1736.3 L628.9,1735.0 L631.1,1733.3 L634.4,1700.0 L636.7,1456.7 L639.0,1458.0 L640.0,1491.1 L642.2,1505.3 L644.5,1520.7 L646.7,1535.6 L648.9,1544.2 L651.1,1553.8 L653.3,1564.4 L655.5,1567.6 L657.7,1571.1 L660.0,1575.0 L662.2,1579.9 L664.4,1584.4 L666.6,1587.2 L668.9,1590.1 L671.1,1593.5 L673.4,1595.2 L675.6,1597.8 L678.9,1606.7 L680.0,1773.3 L682.2,1768.4 L684.5,1762.2 L686.7,1757.8 L688.7,1755.8 L690.7,1754.1 L692.8,1754.7 L694.8,1753.7 L696.8,1752.4 L698.8,1751.6 L700.8,1750.2 L702.8,1749.3 L704.9,1747.9 L706.9,1745.1 L708.9,1744.4 L711.1,1743.1 L713.3,1742.3 L715.6,1741.7 L717.8,1741.5 L720.0,1740.0 L722.2,1720.5 L724.4,1700.0 L726.7,1466.7 L729.0,1467.0 L731.0,1486.7 L733.3,1507.4 L735.5,1528.6 L737.8,1548.9 L740.0,1556.2 L742.2,1560.7 L744.5,1566.6 L746.7,1573.1 L748.9,1580.0 L751.1,1581.9 L753.3,1586.1 L755.5,1589.4 L757.8,1591.0 L760.0,1593.2 L762.2,1596.7 L764.4,1600.0 L768.0,1604.4 L768.9,1760.0 L770.9,1758.5 L772.9,1758.6 L774.9,1759.0 L776.9,1757.5 L778.9,1756.9 L780.9,1756.3 L782.9,1754.5 L784.9,1755.5 L786.9,1753.4 L788.9,1753.3 L790.9,1751.1 L792.9,1750.1 L795.0,1748.5 L797.0,1745.8 L799.0,1744.5 L801.0,1743.8 L803.0,1741.7 L805.0,1739.3 L807.1,1739.0 L809.1,1736.4 L811.1,1735.6 L814.4,1700.0 L816.7,1466.7 L819.0,1467.0 L822.0,1517.8 L824.3,1530.2 L826.6,1543.5 L828.9,1557.8 L831.1,1565.3 L833.3,1571.5 L835.6,1577.8 L837.8,1584.4 L840.0,1586.0 L842.2,1587.0 L844.5,1588.8 L846.7,1588.5 L848.9,1589.4 L851.1,1591.1 L853.7,1593.9 L856.3,1596.4 L858.9,1600.0 L860.0,1762.2 L862.2,1761.6 L864.5,1760.3 L866.7,1758.6 L868.9,1758.6 L871.1,1757.1 L873.3,1757.5 L875.6,1757.0 L877.8,1755.6 L879.8,1754.7 L881.8,1751.9 L883.9,1750.5 L885.9,1748.4 L887.9,1747.7 L889.9,1744.8 L891.9,1744.6 L893.9,1743.8 L896.0,1742.1 L898.0,1740.2 L900.0,1737.8 L902.2,1719.4 L904.4,1700.0 L906.7,1461.1 L909.0,1462.0 L912.0,1520.0 L914.0,1529.8 L916.0,1539.7 L918.0,1549.4 L920.0,1559.1 L922.3,1566.5 L924.7,1574.4 L927.0,1582.0 L929.3,1585.8 L931.7,1590.0 L934.0,1595.8 L936.3,1595.4 L938.5,1597.4 L940.8,1597.4 L943.1,1598.4 L945.3,1598.5 L947.6,1598.1 L949.9,1762.2 L952.0,1761.9 L954.1,1760.2 L956.2,1759.2 L958.3,1756.8 L960.4,1755.4 L962.5,1754.1 L964.6,1753.8 L966.7,1753.3 L968.7,1750.6 L970.8,1749.2 L972.8,1747.6 L974.8,1748.0 L976.9,1745.7 L978.9,1743.8 L980.9,1743.5 L983.0,1741.9 L985.0,1739.7 L987.0,1737.9 L989.1,1737.8 L991.1,1735.6 L993.9,1700.0 L995.8,1466.1 L998.0,1467.0 L1000.0,1510.9 L1002.4,1524.9 L1004.9,1538.8 L1007.3,1554.5 L1009.6,1559.7 L1011.8,1566.3 L1014.1,1572.3 L1016.4,1577.5 L1018.7,1579.5 L1021.0,1582.6 L1023.3,1585.8 L1025.6,1589.0 L1027.9,1591.3 L1030.2,1593.6 L1032.5,1594.8 L1034.8,1597.0 L1037.1,1598.1 L1039.3,1771.1 L1041.4,1769.2 L1043.5,1766.1 L1045.6,1763.7 L1047.8,1761.5 L1049.9,1760.6 L1052.0,1757.4 L1054.1,1756.3 L1056.4,1752.1 L1058.7,1750.6 L1061.0,1747.6 L1063.3,1743.3 L1065.0,1730.0 L1068.0,1730.0 L1070.3,1736.8 L1072.6,1743.0 L1074.8,1740.0 L1077.0,1738.2 L1079.3,1735.7 L1081.5,1733.6 L1083.7,1732.2 L1084.6,1700.0 L1085.3,1452.3 L1087.5,1453.0 L1090.0,1497.1 L1092.3,1517.6 L1094.5,1539.2 L1096.8,1559.1 L1099.1,1562.6 L1101.4,1567.5 L1103.7,1570.7 L1106.0,1574.6 L1108.3,1579.8 L1110.3,1580.6 L1112.4,1582.4 L1114.4,1582.5 L1116.5,1584.1 L1118.5,1585.9 L1120.6,1586.4 L1122.6,1586.8 L1124.7,1587.5 L1126.7,1589.0 L1128.1,1763.7 L1130.2,1763.3 L1132.4,1762.6 L1134.5,1761.8 L1136.6,1761.0 L1138.7,1760.2 L1140.9,1759.0 L1143.0,1758.1 L1145.2,1757.7 L1147.3,1754.5 L1149.5,1752.3 L1151.6,1751.6 L1153.8,1751.3 L1155.9,1748.9 L1158.0,1747.1 L1160.1,1746.1 L1162.2,1743.5 L1164.2,1741.6 L1166.3,1740.2 L1168.4,1738.9 L1170.5,1736.3 L1172.6,1734.1 L1174.4,1700.0 L1174.9,1420.2 L1177.0,1421.0 L1180.0,1476.4 L1182.1,1499.3 L1184.3,1523.3 L1186.4,1545.3 L1188.7,1550.4 L1191.0,1555.7 L1193.2,1560.7 L1195.5,1565.8 L1197.8,1570.6 L1200.1,1565.6 L1202.4,1562.4 L1204.7,1558.5 L1207.0,1555.0 L1209.3,1549.9 L1211.6,1556.4 L1213.9,1561.3 L1216.2,1566.0 L1218.0,1674.8" fill="none" stroke="#1a1ef8" stroke-width="5.8" stroke-linejoin="miter" stroke-miterlimit="3"/>
<text transform="translate(3.5,47.4) scale(1.055,1)" font-size="59" font-family="Liberation Sans" fill="#000">A</text>
<text transform="translate(0,1052.6) scale(1.12,1)" font-size="58.5" font-family="Liberation Sans" fill="#000">B</text>
</svg></body></html>
